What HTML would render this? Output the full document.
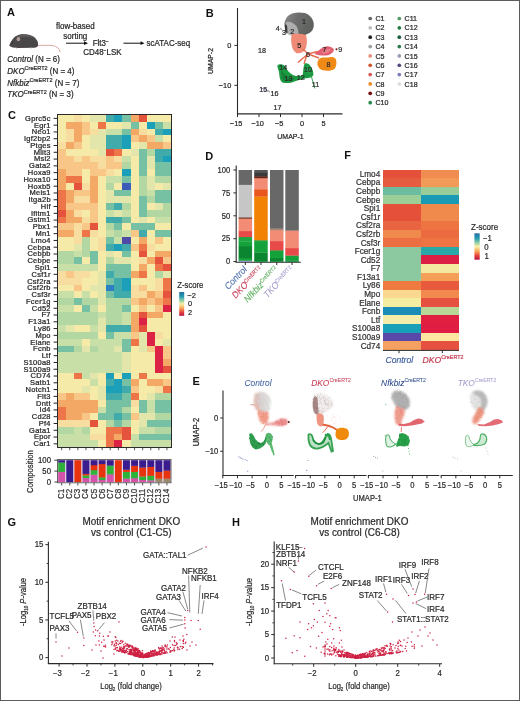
<!DOCTYPE html>
<html><head><meta charset="utf-8"><style>
html,body{margin:0;padding:0;background:#fff;}
body{width:520px;height:701px;overflow:hidden;position:relative;}
svg{position:absolute;left:0;top:0;font-family:"Liberation Sans", sans-serif;will-change:transform;}
</style></head><body>
<svg width="520" height="701" viewBox="0 0 520 701">
<defs><filter id="mb" x="-10%" y="-10%" width="120%" height="120%"><feGaussianBlur stdDeviation="0.3"/></filter></defs>
<rect x="0" y="0" width="520" height="701" fill="#fff"/>
<text font-size="11.00" text-anchor="start" fill="#111" font-weight="bold" font-style="normal"  transform="translate(7.00,15.80) scale(1.0000,1)">A</text>
<g filter="url(#mb)">
<path d="M37.5,45.6 C42,45.3 48,45 53,45.7 C57,46.3 59.5,48.5 60,52.3" fill="none" stroke="#d6a8a0" stroke-width="1"/>
<path d="M9.2,45.4 C10.5,42 13,38.2 15.5,36.2 C18,34.6 21,34 24,34.2 C28,34.5 32,35.5 34.5,37.5 C37,39.5 38.4,42.5 38.1,45 C37.7,46.8 36.5,47.6 34,47.8 L18,47.9 C14,47.9 11,47.2 9.2,45.4 Z" fill="#4a4646"/>
<path d="M16,36.6 C19,34.8 23,34.3 27,34.6 C31,35.2 34,36.6 35.5,38.5 C31,37 24,36.4 17,38 Z" fill="#5c5858"/>
<ellipse cx="18.4" cy="39.2" rx="1.8" ry="2.1" fill="#b09a98"/>
<circle cx="12.6" cy="42.4" r="0.5" fill="#111"/>
<path d="M15.5,47.9 l1.8,0.5 M30,47.8 l1.5,0.5" stroke="#d8b8b0" stroke-width="0.8"/>
</g>
<text font-size="8.64" text-anchor="middle" fill="#262626" stroke="#262626" stroke-width="0.22" font-weight="normal" font-style="normal"  transform="translate(75.30,29.40) scale(0.9259,1)">flow-based</text>
<text font-size="8.64" text-anchor="middle" fill="#262626" stroke="#262626" stroke-width="0.22" font-weight="normal" font-style="normal"  transform="translate(75.30,38.70) scale(0.9259,1)">sorting</text>
<line x1="66.00" y1="43.20" x2="85.00" y2="43.20" stroke="#111" stroke-width="1"/>
<path d="M88,43.2 L84,41.3 L84,45.1 Z" fill="#111"/>
<text font-size="8.64" text-anchor="start" fill="#262626" stroke="#262626" stroke-width="0.22" font-weight="normal" font-style="normal"  transform="translate(92.70,46.00) scale(0.9259,1)">Flt3<tspan font-size="5" dy="-3">−</tspan></text>
<text font-size="8.64" text-anchor="start" fill="#262626" stroke="#262626" stroke-width="0.22" font-weight="normal" font-style="normal"  transform="translate(83.30,55.40) scale(0.9259,1)">CD48<tspan font-size="5" dy="-3">−</tspan><tspan dy="3">LSK</tspan></text>
<line x1="123.50" y1="43.20" x2="141.50" y2="43.20" stroke="#111" stroke-width="1"/>
<path d="M144.5,43.2 L140.5,41.3 L140.5,45.1 Z" fill="#111"/>
<text font-size="8.64" text-anchor="start" fill="#262626" stroke="#262626" stroke-width="0.22" font-weight="normal" font-style="normal"  transform="translate(146.60,46.00) scale(0.9259,1)">scATAC-seq</text>
<text font-size="8.64" text-anchor="start" fill="#262626" stroke="#262626" stroke-width="0.22" font-weight="normal" font-style="normal"  transform="translate(7.30,62.00) scale(0.9259,1)"><tspan font-style="italic">Control</tspan> (N = 6)</text>
<text font-size="8.64" text-anchor="start" fill="#262626" stroke="#262626" stroke-width="0.22" font-weight="normal" font-style="normal"  transform="translate(7.30,73.80) scale(0.9259,1)"><tspan font-style="italic">DKO</tspan><tspan font-size="6.0" dy="-3.4">CreERT2</tspan><tspan dy="3.4"> (N = 4)</tspan></text>
<text font-size="8.64" text-anchor="start" fill="#262626" stroke="#262626" stroke-width="0.22" font-weight="normal" font-style="normal"  transform="translate(7.30,85.50) scale(0.9259,1)"><tspan font-style="italic">Nfkbiz</tspan><tspan font-size="6.0" dy="-3.4">CreERT2</tspan><tspan dy="3.4"> (N = 7)</tspan></text>
<text font-size="8.64" text-anchor="start" fill="#262626" stroke="#262626" stroke-width="0.22" font-weight="normal" font-style="normal"  transform="translate(7.30,97.00) scale(0.9259,1)"><tspan font-style="italic">TKO</tspan><tspan font-size="6.0" dy="-3.4">CreERT2</tspan><tspan dy="3.4"> (N = 3)</tspan></text>
<text font-size="11.00" text-anchor="start" fill="#111" font-weight="bold" font-style="normal"  transform="translate(205.80,16.60) scale(1.0000,1)">B</text>
<line x1="237.50" y1="8.00" x2="237.50" y2="114.50" stroke="#2a2a2a" stroke-width="1.1"/>
<line x1="237.00" y1="113.90" x2="342.50" y2="113.90" stroke="#2a2a2a" stroke-width="1.2"/>
<line x1="234.40" y1="45.40" x2="237.50" y2="45.40" stroke="#2a2a2a" stroke-width="1"/>
<text font-size="7.99" text-anchor="end" fill="#262626" stroke="#262626" stroke-width="0.22" font-weight="normal" font-style="normal"  transform="translate(231.30,48.00) scale(0.9259,1)">0</text>
<line x1="234.40" y1="85.30" x2="237.50" y2="85.30" stroke="#2a2a2a" stroke-width="1"/>
<text font-size="7.99" text-anchor="end" fill="#262626" stroke="#262626" stroke-width="0.22" font-weight="normal" font-style="normal"  transform="translate(231.30,87.90) scale(0.9259,1)">−10</text>
<line x1="237.50" y1="113.90" x2="237.50" y2="117.00" stroke="#2a2a2a" stroke-width="1"/>
<text font-size="7.99" text-anchor="middle" fill="#262626" stroke="#262626" stroke-width="0.22" font-weight="normal" font-style="normal"  transform="translate(236.20,126.30) scale(0.9259,1)">−15</text>
<line x1="259.00" y1="113.90" x2="259.00" y2="117.00" stroke="#2a2a2a" stroke-width="1"/>
<text font-size="7.99" text-anchor="middle" fill="#262626" stroke="#262626" stroke-width="0.22" font-weight="normal" font-style="normal"  transform="translate(257.70,126.30) scale(0.9259,1)">−10</text>
<line x1="280.50" y1="113.90" x2="280.50" y2="117.00" stroke="#2a2a2a" stroke-width="1"/>
<text font-size="7.99" text-anchor="middle" fill="#262626" stroke="#262626" stroke-width="0.22" font-weight="normal" font-style="normal"  transform="translate(279.20,126.30) scale(0.9259,1)">−5</text>
<line x1="302.00" y1="113.90" x2="302.00" y2="117.00" stroke="#2a2a2a" stroke-width="1"/>
<text font-size="7.99" text-anchor="middle" fill="#262626" stroke="#262626" stroke-width="0.22" font-weight="normal" font-style="normal"  transform="translate(302.00,126.30) scale(0.9259,1)">0</text>
<line x1="323.50" y1="113.90" x2="323.50" y2="117.00" stroke="#2a2a2a" stroke-width="1"/>
<text font-size="7.99" text-anchor="middle" fill="#262626" stroke="#262626" stroke-width="0.22" font-weight="normal" font-style="normal"  transform="translate(323.50,126.30) scale(0.9259,1)">5</text>
<text font-size="7.45" text-anchor="middle" fill="#262626" stroke="#262626" stroke-width="0.22" font-weight="normal" font-style="normal" transform="translate(212.8,61) rotate(-90) translate(0.00,0.00) scale(0.9259,1)">UMAP-2</text>
<text font-size="7.56" text-anchor="middle" fill="#262626" stroke="#262626" stroke-width="0.22" font-weight="normal" font-style="normal"  transform="translate(290.50,138.80) scale(0.9259,1)">UMAP-1</text>
<defs><filter id="bl" x="-20%" y="-20%" width="140%" height="140%"><feGaussianBlur stdDeviation="0.5"/></filter><filter id="bl2" x="-20%" y="-20%" width="140%" height="140%"><feGaussianBlur stdDeviation="0.9"/></filter></defs>
<g filter="url(#bl)">
<defs><linearGradient id="gB" x1="0" y1="0" x2="1" y2="0.3"><stop offset="0" stop-color="#8c8c8c"/><stop offset="0.45" stop-color="#6e6e6e"/><stop offset="1" stop-color="#5e625e"/></linearGradient></defs>
<path d="M288.5,15.5 C292,12.2 299,11.8 305,13 C310.5,15 314.2,20 313.8,26 C313.3,30.5 310,33.5 305,35 C300,36 294,36 290,34.5 C286,32.5 284,28 284.4,23.5 C284.8,20 286.5,17.5 288.5,15.5 Z" fill="url(#gB)"/>
<path d="M286.5,22 C289.5,21 293,22.5 296,25.5 C298,28.5 299,32 298,35.5 C294,36.5 290,36 288,34.3 C285.8,32 285,27 286.5,22 Z" fill="#b8b8b8" opacity="0.85"/>
<path d="M285,25 C286,24 287,25 287.2,27 L287.5,33 C286.5,34 285.5,33 285,31 Z" fill="#202020" opacity="0.8"/>
<path d="M292,34 C296,33.5 302,33.5 306,35 C307.3,39 307.2,45 305.5,49 C303.5,52.5 300,53.8 296.5,53.2 C293.5,51.5 292,48 291.5,44 C291,40 291,36.5 292,34 Z" fill="#ee8a74"/>
<path d="M303,49 L308,54 L317.5,51.5 M308,54 L319,58 M308,54 L302,59 L298,62.5 M307,54.5 L304,63.8" stroke="#e66a4e" stroke-width="1.4" fill="none"/>
<path d="M314.5,54 C318,51 322,47 327,46.3 C330,46.2 332,47.5 333.8,49 C334.2,51.5 332,54 328,55.2 C324,56 319,55.6 314.5,54 Z" fill="#e25e6e"/>
<path d="M321,52 C324,49.5 328,48.5 331,49.5 C330,52 327,53.5 323,53.6 Z" fill="#f08a98" opacity="0.7"/>
<path d="M318.5,59.5 C321,57 325,57.5 328,57.5 C331,56.5 334,56.8 335.8,59 C337,62 336.6,66.5 334.5,69 C331.5,71 326,71.2 322,70 C318.6,68.6 317,65.5 317.4,62.5 Z" fill="#f08a14"/>
<path d="M277.5,65 C279.5,63.6 283,64.2 285,66 C287,70 289,73 293,75 C296,76.5 300,76 302.6,75 C303.6,71 303,67 304.6,63.6 C306.6,62.4 309,63.6 310.3,65.8 C312.4,69 313.8,72 313.3,75.2 C312,77.5 309,78.2 306,78.2 C302,79 298,80 295.2,81.2 C291,83.2 285,83.8 282,82.2 C279.5,80 279.5,76 279,72 C278.5,70 277,67 277.5,65 Z" fill="#1f9a43"/>
<path d="M281,70 C283,72 285,75 288,77 C291,78.5 294,78 296,77.5 C293,80.5 288,81.5 284,81 C282,79.5 281,75 281,70 Z" fill="#157a35" opacity="0.8"/>
<path d="M306,66 C308,67 310,70 311,73 C309,74 307,73 306,71 Z" fill="#2ab05a" opacity="0.6"/>
<path d="M311.5,77 L313,82 L314.8,88.5" stroke="#3aa55a" stroke-width="1" fill="none"/>
</g>
<circle cx="336.5" cy="49.3" r="1" fill="#7a1010"/>
<g fill="#8484b8" opacity="1"><circle cx="262.5" cy="88.5" r="0.55"/><circle cx="263.8" cy="89.2" r="0.55"/><circle cx="265.0" cy="89.8" r="0.55"/><circle cx="266.0" cy="90.4" r="0.55"/><circle cx="267.5" cy="91.0" r="0.55"/><circle cx="272.6" cy="92.3" r="0.55"/></g>
<text font-size="7.78" text-anchor="middle" fill="#2a2a2a" stroke="#2a2a2a" stroke-width="0.22" font-weight="normal" font-style="normal"  transform="translate(304.10,23.60) scale(0.9259,1)">1</text>
<text font-size="7.78" text-anchor="middle" fill="#2a2a2a" stroke="#2a2a2a" stroke-width="0.22" font-weight="normal" font-style="normal"  transform="translate(292.30,34.40) scale(0.9259,1)">2</text>
<text font-size="7.78" text-anchor="middle" fill="#2a2a2a" stroke="#2a2a2a" stroke-width="0.22" font-weight="normal" font-style="normal"  transform="translate(284.00,35.40) scale(0.9259,1)">3</text>
<text font-size="7.78" text-anchor="middle" fill="#2a2a2a" stroke="#2a2a2a" stroke-width="0.22" font-weight="normal" font-style="normal"  transform="translate(277.70,31.30) scale(0.9259,1)">4</text>
<text font-size="7.78" text-anchor="middle" fill="#2a2a2a" stroke="#2a2a2a" stroke-width="0.22" font-weight="normal" font-style="normal"  transform="translate(299.30,48.10) scale(0.9259,1)">5</text>
<text font-size="7.78" text-anchor="middle" fill="#2a2a2a" stroke="#2a2a2a" stroke-width="0.22" font-weight="normal" font-style="normal"  transform="translate(308.00,57.20) scale(0.9259,1)">6</text>
<text font-size="7.78" text-anchor="middle" fill="#2a2a2a" stroke="#2a2a2a" stroke-width="0.22" font-weight="normal" font-style="normal"  transform="translate(324.60,52.20) scale(0.9259,1)">7</text>
<text font-size="7.78" text-anchor="middle" fill="#2a2a2a" stroke="#2a2a2a" stroke-width="0.22" font-weight="normal" font-style="normal"  transform="translate(328.40,66.90) scale(0.9259,1)">8</text>
<text font-size="7.78" text-anchor="middle" fill="#2a2a2a" stroke="#2a2a2a" stroke-width="0.22" font-weight="normal" font-style="normal"  transform="translate(340.30,52.00) scale(0.9259,1)">9</text>
<text font-size="7.78" text-anchor="middle" fill="#2a2a2a" stroke="#2a2a2a" stroke-width="0.22" font-weight="normal" font-style="normal"  transform="translate(308.00,72.20) scale(0.9259,1)">10</text>
<text font-size="7.78" text-anchor="middle" fill="#2a2a2a" stroke="#2a2a2a" stroke-width="0.22" font-weight="normal" font-style="normal"  transform="translate(315.60,87.10) scale(0.9259,1)">11</text>
<text font-size="7.78" text-anchor="middle" fill="#2a2a2a" stroke="#2a2a2a" stroke-width="0.22" font-weight="normal" font-style="normal"  transform="translate(300.80,79.80) scale(0.9259,1)">12</text>
<text font-size="7.78" text-anchor="middle" fill="#2a2a2a" stroke="#2a2a2a" stroke-width="0.22" font-weight="normal" font-style="normal"  transform="translate(288.60,81.10) scale(0.9259,1)">13</text>
<text font-size="7.78" text-anchor="middle" fill="#2a2a2a" stroke="#2a2a2a" stroke-width="0.22" font-weight="normal" font-style="normal"  transform="translate(283.30,69.60) scale(0.9259,1)">14</text>
<text font-size="7.78" text-anchor="middle" fill="#2a2a2a" stroke="#2a2a2a" stroke-width="0.22" font-weight="normal" font-style="normal"  transform="translate(263.20,92.40) scale(0.9259,1)">15</text>
<text font-size="7.78" text-anchor="middle" fill="#2a2a2a" stroke="#2a2a2a" stroke-width="0.22" font-weight="normal" font-style="normal"  transform="translate(274.60,96.40) scale(0.9259,1)">16</text>
<text font-size="7.78" text-anchor="middle" fill="#2a2a2a" stroke="#2a2a2a" stroke-width="0.22" font-weight="normal" font-style="normal"  transform="translate(277.40,109.80) scale(0.9259,1)">17</text>
<text font-size="7.78" text-anchor="middle" fill="#2a2a2a" stroke="#2a2a2a" stroke-width="0.22" font-weight="normal" font-style="normal"  transform="translate(262.00,53.40) scale(0.9259,1)">18</text>
<line x1="280.00" y1="28.50" x2="282.20" y2="29.50" stroke="#2a2a2a" stroke-width="0.6"/>
<line x1="267.60" y1="90.50" x2="270.00" y2="92.00" stroke="#2a2a2a" stroke-width="0.6"/>
<circle cx="370.2" cy="18.5" r="1.85" fill="#666666"/>
<text font-size="7.31" text-anchor="start" fill="#2a2a2a" stroke="#2a2a2a" stroke-width="0.25" font-weight="normal" font-style="normal"  transform="translate(375.50,21.10) scale(0.9709,1)">C1</text>
<circle cx="370.2" cy="27.85" r="1.85" fill="#bdbdbd"/>
<text font-size="7.31" text-anchor="start" fill="#2a2a2a" stroke="#2a2a2a" stroke-width="0.25" font-weight="normal" font-style="normal"  transform="translate(375.50,30.45) scale(0.9709,1)">C2</text>
<circle cx="370.2" cy="37.2" r="1.85" fill="#222222"/>
<text font-size="7.31" text-anchor="start" fill="#2a2a2a" stroke="#2a2a2a" stroke-width="0.25" font-weight="normal" font-style="normal"  transform="translate(375.50,39.80) scale(0.9709,1)">C3</text>
<circle cx="370.2" cy="46.55" r="1.85" fill="#9e9e9e"/>
<text font-size="7.31" text-anchor="start" fill="#2a2a2a" stroke="#2a2a2a" stroke-width="0.25" font-weight="normal" font-style="normal"  transform="translate(375.50,49.15) scale(0.9709,1)">C4</text>
<circle cx="370.2" cy="55.9" r="1.85" fill="#e8907c"/>
<text font-size="7.31" text-anchor="start" fill="#2a2a2a" stroke="#2a2a2a" stroke-width="0.25" font-weight="normal" font-style="normal"  transform="translate(375.50,58.50) scale(0.9709,1)">C5</text>
<circle cx="370.2" cy="65.25" r="1.85" fill="#d4532a"/>
<text font-size="7.31" text-anchor="start" fill="#2a2a2a" stroke="#2a2a2a" stroke-width="0.25" font-weight="normal" font-style="normal"  transform="translate(375.50,67.85) scale(0.9709,1)">C6</text>
<circle cx="370.2" cy="74.6" r="1.85" fill="#d65a5a"/>
<text font-size="7.31" text-anchor="start" fill="#2a2a2a" stroke="#2a2a2a" stroke-width="0.25" font-weight="normal" font-style="normal"  transform="translate(375.50,77.20) scale(0.9709,1)">C7</text>
<circle cx="370.2" cy="83.95" r="1.85" fill="#f08a24"/>
<text font-size="7.31" text-anchor="start" fill="#2a2a2a" stroke="#2a2a2a" stroke-width="0.25" font-weight="normal" font-style="normal"  transform="translate(375.50,86.55) scale(0.9709,1)">C8</text>
<circle cx="370.2" cy="93.3" r="1.85" fill="#7a0c0c"/>
<text font-size="7.31" text-anchor="start" fill="#2a2a2a" stroke="#2a2a2a" stroke-width="0.25" font-weight="normal" font-style="normal"  transform="translate(375.50,95.90) scale(0.9709,1)">C9</text>
<circle cx="370.2" cy="102.64999999999999" r="1.85" fill="#28894a"/>
<text font-size="7.31" text-anchor="start" fill="#2a2a2a" stroke="#2a2a2a" stroke-width="0.25" font-weight="normal" font-style="normal"  transform="translate(375.50,105.25) scale(0.9709,1)">C10</text>
<circle cx="399.3" cy="18.5" r="1.85" fill="#4f9c62"/>
<text font-size="7.31" text-anchor="start" fill="#2a2a2a" stroke="#2a2a2a" stroke-width="0.25" font-weight="normal" font-style="normal"  transform="translate(404.60,21.10) scale(0.9709,1)">C11</text>
<circle cx="399.3" cy="27.85" r="1.85" fill="#1d7a40"/>
<text font-size="7.31" text-anchor="start" fill="#2a2a2a" stroke="#2a2a2a" stroke-width="0.25" font-weight="normal" font-style="normal"  transform="translate(404.60,30.45) scale(0.9709,1)">C12</text>
<circle cx="399.3" cy="37.2" r="1.85" fill="#1b5c3a"/>
<text font-size="7.31" text-anchor="start" fill="#2a2a2a" stroke="#2a2a2a" stroke-width="0.25" font-weight="normal" font-style="normal"  transform="translate(404.60,39.80) scale(0.9709,1)">C13</text>
<circle cx="399.3" cy="46.55" r="1.85" fill="#2a7a4a"/>
<text font-size="7.31" text-anchor="start" fill="#2a2a2a" stroke="#2a2a2a" stroke-width="0.25" font-weight="normal" font-style="normal"  transform="translate(404.60,49.15) scale(0.9709,1)">C14</text>
<circle cx="399.3" cy="55.9" r="1.85" fill="#9a9ab2"/>
<text font-size="7.31" text-anchor="start" fill="#2a2a2a" stroke="#2a2a2a" stroke-width="0.25" font-weight="normal" font-style="normal"  transform="translate(404.60,58.50) scale(0.9709,1)">C15</text>
<circle cx="399.3" cy="65.25" r="1.85" fill="#4c4c7c"/>
<text font-size="7.31" text-anchor="start" fill="#2a2a2a" stroke="#2a2a2a" stroke-width="0.25" font-weight="normal" font-style="normal"  transform="translate(404.60,67.85) scale(0.9709,1)">C16</text>
<circle cx="399.3" cy="74.6" r="1.85" fill="#7c7cba"/>
<text font-size="7.31" text-anchor="start" fill="#2a2a2a" stroke="#2a2a2a" stroke-width="0.25" font-weight="normal" font-style="normal"  transform="translate(404.60,77.20) scale(0.9709,1)">C17</text>
<circle cx="399.3" cy="83.95" r="1.85" fill="#dddddd"/>
<text font-size="7.31" text-anchor="start" fill="#2a2a2a" stroke="#2a2a2a" stroke-width="0.25" font-weight="normal" font-style="normal"  transform="translate(404.60,86.55) scale(0.9709,1)">C18</text>
<text font-size="11.00" text-anchor="start" fill="#111" font-weight="bold" font-style="normal"  transform="translate(8.00,119.20) scale(1.0000,1)">C</text>
<defs><filter id="hb" x="-2%" y="-2%" width="104%" height="104%"><feGaussianBlur stdDeviation="0.35"/></filter></defs>
<g filter="url(#hb)">
<rect x="57.60" y="115.00" width="8.40" height="7.08" fill="#f5eaa8" shape-rendering="crispEdges"/>
<rect x="65.70" y="115.00" width="8.40" height="7.08" fill="#f5eaa8" shape-rendering="crispEdges"/>
<rect x="73.80" y="115.00" width="8.40" height="7.08" fill="#f8dda0" shape-rendering="crispEdges"/>
<rect x="81.90" y="115.00" width="8.40" height="7.08" fill="#f5eaa8" shape-rendering="crispEdges"/>
<rect x="90.00" y="115.00" width="8.40" height="7.08" fill="#e2e6aa" shape-rendering="crispEdges"/>
<rect x="98.10" y="115.00" width="8.40" height="7.08" fill="#e2e6aa" shape-rendering="crispEdges"/>
<rect x="106.20" y="115.00" width="8.40" height="7.08" fill="#3fabaa" shape-rendering="crispEdges"/>
<rect x="114.30" y="115.00" width="8.40" height="7.08" fill="#1a9fb8" shape-rendering="crispEdges"/>
<rect x="122.40" y="115.00" width="8.40" height="7.08" fill="#76c1a4" shape-rendering="crispEdges"/>
<rect x="130.50" y="115.00" width="8.40" height="7.08" fill="#f4a866" shape-rendering="crispEdges"/>
<rect x="138.60" y="115.00" width="8.40" height="7.08" fill="#e6523c" shape-rendering="crispEdges"/>
<rect x="146.70" y="115.00" width="8.40" height="7.08" fill="#f5eaa8" shape-rendering="crispEdges"/>
<rect x="154.80" y="115.00" width="8.40" height="7.08" fill="#f5eaa8" shape-rendering="crispEdges"/>
<rect x="162.90" y="115.00" width="8.40" height="7.08" fill="#f5eaa8" shape-rendering="crispEdges"/>
<rect x="57.60" y="121.78" width="8.40" height="7.08" fill="#f5eaa8" shape-rendering="crispEdges"/>
<rect x="65.70" y="121.78" width="8.40" height="7.08" fill="#f4a866" shape-rendering="crispEdges"/>
<rect x="73.80" y="121.78" width="8.40" height="7.08" fill="#f4a866" shape-rendering="crispEdges"/>
<rect x="81.90" y="121.78" width="8.40" height="7.08" fill="#f8c687" shape-rendering="crispEdges"/>
<rect x="90.00" y="121.78" width="8.40" height="7.08" fill="#f5eaa8" shape-rendering="crispEdges"/>
<rect x="98.10" y="121.78" width="8.40" height="7.08" fill="#ee7446" shape-rendering="crispEdges"/>
<rect x="106.20" y="121.78" width="8.40" height="7.08" fill="#f5eaa8" shape-rendering="crispEdges"/>
<rect x="114.30" y="121.78" width="8.40" height="7.08" fill="#f5eaa8" shape-rendering="crispEdges"/>
<rect x="122.40" y="121.78" width="8.40" height="7.08" fill="#e2e6aa" shape-rendering="crispEdges"/>
<rect x="130.50" y="121.78" width="8.40" height="7.08" fill="#76c1a4" shape-rendering="crispEdges"/>
<rect x="138.60" y="121.78" width="8.40" height="7.08" fill="#f5eaa8" shape-rendering="crispEdges"/>
<rect x="146.70" y="121.78" width="8.40" height="7.08" fill="#1a9fb8" shape-rendering="crispEdges"/>
<rect x="154.80" y="121.78" width="8.40" height="7.08" fill="#76c1a4" shape-rendering="crispEdges"/>
<rect x="162.90" y="121.78" width="8.40" height="7.08" fill="#c9dfa8" shape-rendering="crispEdges"/>
<rect x="57.60" y="128.56" width="8.40" height="7.08" fill="#f5eaa8" shape-rendering="crispEdges"/>
<rect x="65.70" y="128.56" width="8.40" height="7.08" fill="#f8dda0" shape-rendering="crispEdges"/>
<rect x="73.80" y="128.56" width="8.40" height="7.08" fill="#f4a866" shape-rendering="crispEdges"/>
<rect x="81.90" y="128.56" width="8.40" height="7.08" fill="#f8c687" shape-rendering="crispEdges"/>
<rect x="90.00" y="128.56" width="8.40" height="7.08" fill="#f8dda0" shape-rendering="crispEdges"/>
<rect x="98.10" y="128.56" width="8.40" height="7.08" fill="#e2e6aa" shape-rendering="crispEdges"/>
<rect x="106.20" y="128.56" width="8.40" height="7.08" fill="#c9dfa8" shape-rendering="crispEdges"/>
<rect x="114.30" y="128.56" width="8.40" height="7.08" fill="#c9dfa8" shape-rendering="crispEdges"/>
<rect x="122.40" y="128.56" width="8.40" height="7.08" fill="#76c1a4" shape-rendering="crispEdges"/>
<rect x="130.50" y="128.56" width="8.40" height="7.08" fill="#f4a866" shape-rendering="crispEdges"/>
<rect x="138.60" y="128.56" width="8.40" height="7.08" fill="#f8dda0" shape-rendering="crispEdges"/>
<rect x="146.70" y="128.56" width="8.40" height="7.08" fill="#f5eaa8" shape-rendering="crispEdges"/>
<rect x="154.80" y="128.56" width="8.40" height="7.08" fill="#3fabaa" shape-rendering="crispEdges"/>
<rect x="162.90" y="128.56" width="8.40" height="7.08" fill="#1a9fb8" shape-rendering="crispEdges"/>
<rect x="57.60" y="135.34" width="8.40" height="7.08" fill="#f5eaa8" shape-rendering="crispEdges"/>
<rect x="65.70" y="135.34" width="8.40" height="7.08" fill="#f8dda0" shape-rendering="crispEdges"/>
<rect x="73.80" y="135.34" width="8.40" height="7.08" fill="#f4a866" shape-rendering="crispEdges"/>
<rect x="81.90" y="135.34" width="8.40" height="7.08" fill="#f5eaa8" shape-rendering="crispEdges"/>
<rect x="90.00" y="135.34" width="8.40" height="7.08" fill="#e2e6aa" shape-rendering="crispEdges"/>
<rect x="98.10" y="135.34" width="8.40" height="7.08" fill="#e2e6aa" shape-rendering="crispEdges"/>
<rect x="106.20" y="135.34" width="8.40" height="7.08" fill="#3fabaa" shape-rendering="crispEdges"/>
<rect x="114.30" y="135.34" width="8.40" height="7.08" fill="#3fabaa" shape-rendering="crispEdges"/>
<rect x="122.40" y="135.34" width="8.40" height="7.08" fill="#1a9fb8" shape-rendering="crispEdges"/>
<rect x="130.50" y="135.34" width="8.40" height="7.08" fill="#f8c687" shape-rendering="crispEdges"/>
<rect x="138.60" y="135.34" width="8.40" height="7.08" fill="#f4a866" shape-rendering="crispEdges"/>
<rect x="146.70" y="135.34" width="8.40" height="7.08" fill="#f8c687" shape-rendering="crispEdges"/>
<rect x="154.80" y="135.34" width="8.40" height="7.08" fill="#c9dfa8" shape-rendering="crispEdges"/>
<rect x="162.90" y="135.34" width="8.40" height="7.08" fill="#f5eaa8" shape-rendering="crispEdges"/>
<rect x="57.60" y="142.12" width="8.40" height="7.08" fill="#f8dda0" shape-rendering="crispEdges"/>
<rect x="65.70" y="142.12" width="8.40" height="7.08" fill="#f4a866" shape-rendering="crispEdges"/>
<rect x="73.80" y="142.12" width="8.40" height="7.08" fill="#f8c687" shape-rendering="crispEdges"/>
<rect x="81.90" y="142.12" width="8.40" height="7.08" fill="#f5eaa8" shape-rendering="crispEdges"/>
<rect x="90.00" y="142.12" width="8.40" height="7.08" fill="#e2e6aa" shape-rendering="crispEdges"/>
<rect x="98.10" y="142.12" width="8.40" height="7.08" fill="#e2e6aa" shape-rendering="crispEdges"/>
<rect x="106.20" y="142.12" width="8.40" height="7.08" fill="#3fabaa" shape-rendering="crispEdges"/>
<rect x="114.30" y="142.12" width="8.40" height="7.08" fill="#3fabaa" shape-rendering="crispEdges"/>
<rect x="122.40" y="142.12" width="8.40" height="7.08" fill="#1a9fb8" shape-rendering="crispEdges"/>
<rect x="130.50" y="142.12" width="8.40" height="7.08" fill="#f5eaa8" shape-rendering="crispEdges"/>
<rect x="138.60" y="142.12" width="8.40" height="7.08" fill="#e2e6aa" shape-rendering="crispEdges"/>
<rect x="146.70" y="142.12" width="8.40" height="7.08" fill="#f4a866" shape-rendering="crispEdges"/>
<rect x="154.80" y="142.12" width="8.40" height="7.08" fill="#f4a866" shape-rendering="crispEdges"/>
<rect x="162.90" y="142.12" width="8.40" height="7.08" fill="#f8c687" shape-rendering="crispEdges"/>
<rect x="57.60" y="148.90" width="8.40" height="7.08" fill="#f8c687" shape-rendering="crispEdges"/>
<rect x="65.70" y="148.90" width="8.40" height="7.08" fill="#f5eaa8" shape-rendering="crispEdges"/>
<rect x="73.80" y="148.90" width="8.40" height="7.08" fill="#f5eaa8" shape-rendering="crispEdges"/>
<rect x="81.90" y="148.90" width="8.40" height="7.08" fill="#f5eaa8" shape-rendering="crispEdges"/>
<rect x="90.00" y="148.90" width="8.40" height="7.08" fill="#f5eaa8" shape-rendering="crispEdges"/>
<rect x="98.10" y="148.90" width="8.40" height="7.08" fill="#e2e6aa" shape-rendering="crispEdges"/>
<rect x="106.20" y="148.90" width="8.40" height="7.08" fill="#e6523c" shape-rendering="crispEdges"/>
<rect x="114.30" y="148.90" width="8.40" height="7.08" fill="#ee7446" shape-rendering="crispEdges"/>
<rect x="122.40" y="148.90" width="8.40" height="7.08" fill="#f5eaa8" shape-rendering="crispEdges"/>
<rect x="130.50" y="148.90" width="8.40" height="7.08" fill="#e2e6aa" shape-rendering="crispEdges"/>
<rect x="138.60" y="148.90" width="8.40" height="7.08" fill="#76c1a4" shape-rendering="crispEdges"/>
<rect x="146.70" y="148.90" width="8.40" height="7.08" fill="#b2d7a3" shape-rendering="crispEdges"/>
<rect x="154.80" y="148.90" width="8.40" height="7.08" fill="#3fabaa" shape-rendering="crispEdges"/>
<rect x="162.90" y="148.90" width="8.40" height="7.08" fill="#3fabaa" shape-rendering="crispEdges"/>
<rect x="57.60" y="155.68" width="8.40" height="7.08" fill="#f8c687" shape-rendering="crispEdges"/>
<rect x="65.70" y="155.68" width="8.40" height="7.08" fill="#f8c687" shape-rendering="crispEdges"/>
<rect x="73.80" y="155.68" width="8.40" height="7.08" fill="#f8dda0" shape-rendering="crispEdges"/>
<rect x="81.90" y="155.68" width="8.40" height="7.08" fill="#f8c687" shape-rendering="crispEdges"/>
<rect x="90.00" y="155.68" width="8.40" height="7.08" fill="#f8dda0" shape-rendering="crispEdges"/>
<rect x="98.10" y="155.68" width="8.40" height="7.08" fill="#f8dda0" shape-rendering="crispEdges"/>
<rect x="106.20" y="155.68" width="8.40" height="7.08" fill="#f8c687" shape-rendering="crispEdges"/>
<rect x="114.30" y="155.68" width="8.40" height="7.08" fill="#f8dda0" shape-rendering="crispEdges"/>
<rect x="122.40" y="155.68" width="8.40" height="7.08" fill="#c9dfa8" shape-rendering="crispEdges"/>
<rect x="130.50" y="155.68" width="8.40" height="7.08" fill="#f5eaa8" shape-rendering="crispEdges"/>
<rect x="138.60" y="155.68" width="8.40" height="7.08" fill="#76c1a4" shape-rendering="crispEdges"/>
<rect x="146.70" y="155.68" width="8.40" height="7.08" fill="#e2e6aa" shape-rendering="crispEdges"/>
<rect x="154.80" y="155.68" width="8.40" height="7.08" fill="#3fabaa" shape-rendering="crispEdges"/>
<rect x="162.90" y="155.68" width="8.40" height="7.08" fill="#1a9fb8" shape-rendering="crispEdges"/>
<rect x="57.60" y="162.46" width="8.40" height="7.08" fill="#f8c687" shape-rendering="crispEdges"/>
<rect x="65.70" y="162.46" width="8.40" height="7.08" fill="#f8c687" shape-rendering="crispEdges"/>
<rect x="73.80" y="162.46" width="8.40" height="7.08" fill="#f8c687" shape-rendering="crispEdges"/>
<rect x="81.90" y="162.46" width="8.40" height="7.08" fill="#f8c687" shape-rendering="crispEdges"/>
<rect x="90.00" y="162.46" width="8.40" height="7.08" fill="#f8c687" shape-rendering="crispEdges"/>
<rect x="98.10" y="162.46" width="8.40" height="7.08" fill="#f8dda0" shape-rendering="crispEdges"/>
<rect x="106.20" y="162.46" width="8.40" height="7.08" fill="#f8c687" shape-rendering="crispEdges"/>
<rect x="114.30" y="162.46" width="8.40" height="7.08" fill="#f8c687" shape-rendering="crispEdges"/>
<rect x="122.40" y="162.46" width="8.40" height="7.08" fill="#b2d7a3" shape-rendering="crispEdges"/>
<rect x="130.50" y="162.46" width="8.40" height="7.08" fill="#f5eaa8" shape-rendering="crispEdges"/>
<rect x="138.60" y="162.46" width="8.40" height="7.08" fill="#76c1a4" shape-rendering="crispEdges"/>
<rect x="146.70" y="162.46" width="8.40" height="7.08" fill="#e2e6aa" shape-rendering="crispEdges"/>
<rect x="154.80" y="162.46" width="8.40" height="7.08" fill="#76c1a4" shape-rendering="crispEdges"/>
<rect x="162.90" y="162.46" width="8.40" height="7.08" fill="#76c1a4" shape-rendering="crispEdges"/>
<rect x="57.60" y="169.24" width="8.40" height="7.08" fill="#f4a866" shape-rendering="crispEdges"/>
<rect x="65.70" y="169.24" width="8.40" height="7.08" fill="#f8c687" shape-rendering="crispEdges"/>
<rect x="73.80" y="169.24" width="8.40" height="7.08" fill="#f8c687" shape-rendering="crispEdges"/>
<rect x="81.90" y="169.24" width="8.40" height="7.08" fill="#f5eaa8" shape-rendering="crispEdges"/>
<rect x="90.00" y="169.24" width="8.40" height="7.08" fill="#f8c687" shape-rendering="crispEdges"/>
<rect x="98.10" y="169.24" width="8.40" height="7.08" fill="#f8c687" shape-rendering="crispEdges"/>
<rect x="106.20" y="169.24" width="8.40" height="7.08" fill="#f8dda0" shape-rendering="crispEdges"/>
<rect x="114.30" y="169.24" width="8.40" height="7.08" fill="#f5eaa8" shape-rendering="crispEdges"/>
<rect x="122.40" y="169.24" width="8.40" height="7.08" fill="#1a9fb8" shape-rendering="crispEdges"/>
<rect x="130.50" y="169.24" width="8.40" height="7.08" fill="#f5eaa8" shape-rendering="crispEdges"/>
<rect x="138.60" y="169.24" width="8.40" height="7.08" fill="#76c1a4" shape-rendering="crispEdges"/>
<rect x="146.70" y="169.24" width="8.40" height="7.08" fill="#f5eaa8" shape-rendering="crispEdges"/>
<rect x="154.80" y="169.24" width="8.40" height="7.08" fill="#76c1a4" shape-rendering="crispEdges"/>
<rect x="162.90" y="169.24" width="8.40" height="7.08" fill="#76c1a4" shape-rendering="crispEdges"/>
<rect x="57.60" y="176.02" width="8.40" height="7.08" fill="#f4a866" shape-rendering="crispEdges"/>
<rect x="65.70" y="176.02" width="8.40" height="7.08" fill="#ee7446" shape-rendering="crispEdges"/>
<rect x="73.80" y="176.02" width="8.40" height="7.08" fill="#ee7446" shape-rendering="crispEdges"/>
<rect x="81.90" y="176.02" width="8.40" height="7.08" fill="#f5eaa8" shape-rendering="crispEdges"/>
<rect x="90.00" y="176.02" width="8.40" height="7.08" fill="#f4a866" shape-rendering="crispEdges"/>
<rect x="98.10" y="176.02" width="8.40" height="7.08" fill="#f5eaa8" shape-rendering="crispEdges"/>
<rect x="106.20" y="176.02" width="8.40" height="7.08" fill="#c9dfa8" shape-rendering="crispEdges"/>
<rect x="114.30" y="176.02" width="8.40" height="7.08" fill="#c9dfa8" shape-rendering="crispEdges"/>
<rect x="122.40" y="176.02" width="8.40" height="7.08" fill="#76c1a4" shape-rendering="crispEdges"/>
<rect x="130.50" y="176.02" width="8.40" height="7.08" fill="#f5eaa8" shape-rendering="crispEdges"/>
<rect x="138.60" y="176.02" width="8.40" height="7.08" fill="#b2d7a3" shape-rendering="crispEdges"/>
<rect x="146.70" y="176.02" width="8.40" height="7.08" fill="#e2e6aa" shape-rendering="crispEdges"/>
<rect x="154.80" y="176.02" width="8.40" height="7.08" fill="#b2d7a3" shape-rendering="crispEdges"/>
<rect x="162.90" y="176.02" width="8.40" height="7.08" fill="#b2d7a3" shape-rendering="crispEdges"/>
<rect x="57.60" y="182.80" width="8.40" height="7.08" fill="#f4a866" shape-rendering="crispEdges"/>
<rect x="65.70" y="182.80" width="8.40" height="7.08" fill="#f5eaa8" shape-rendering="crispEdges"/>
<rect x="73.80" y="182.80" width="8.40" height="7.08" fill="#e6523c" shape-rendering="crispEdges"/>
<rect x="81.90" y="182.80" width="8.40" height="7.08" fill="#f8dda0" shape-rendering="crispEdges"/>
<rect x="90.00" y="182.80" width="8.40" height="7.08" fill="#f4a866" shape-rendering="crispEdges"/>
<rect x="98.10" y="182.80" width="8.40" height="7.08" fill="#f5eaa8" shape-rendering="crispEdges"/>
<rect x="106.20" y="182.80" width="8.40" height="7.08" fill="#b2d7a3" shape-rendering="crispEdges"/>
<rect x="114.30" y="182.80" width="8.40" height="7.08" fill="#f5eaa8" shape-rendering="crispEdges"/>
<rect x="122.40" y="182.80" width="8.40" height="7.08" fill="#3a5cb8" shape-rendering="crispEdges"/>
<rect x="130.50" y="182.80" width="8.40" height="7.08" fill="#f5eaa8" shape-rendering="crispEdges"/>
<rect x="138.60" y="182.80" width="8.40" height="7.08" fill="#b2d7a3" shape-rendering="crispEdges"/>
<rect x="146.70" y="182.80" width="8.40" height="7.08" fill="#e2e6aa" shape-rendering="crispEdges"/>
<rect x="154.80" y="182.80" width="8.40" height="7.08" fill="#f5eaa8" shape-rendering="crispEdges"/>
<rect x="162.90" y="182.80" width="8.40" height="7.08" fill="#e2e6aa" shape-rendering="crispEdges"/>
<rect x="57.60" y="189.58" width="8.40" height="7.08" fill="#ee7446" shape-rendering="crispEdges"/>
<rect x="65.70" y="189.58" width="8.40" height="7.08" fill="#f4a866" shape-rendering="crispEdges"/>
<rect x="73.80" y="189.58" width="8.40" height="7.08" fill="#f8c687" shape-rendering="crispEdges"/>
<rect x="81.90" y="189.58" width="8.40" height="7.08" fill="#f8c687" shape-rendering="crispEdges"/>
<rect x="90.00" y="189.58" width="8.40" height="7.08" fill="#f4a866" shape-rendering="crispEdges"/>
<rect x="98.10" y="189.58" width="8.40" height="7.08" fill="#f5eaa8" shape-rendering="crispEdges"/>
<rect x="106.20" y="189.58" width="8.40" height="7.08" fill="#e2e6aa" shape-rendering="crispEdges"/>
<rect x="114.30" y="189.58" width="8.40" height="7.08" fill="#76c1a4" shape-rendering="crispEdges"/>
<rect x="122.40" y="189.58" width="8.40" height="7.08" fill="#76c1a4" shape-rendering="crispEdges"/>
<rect x="130.50" y="189.58" width="8.40" height="7.08" fill="#f5eaa8" shape-rendering="crispEdges"/>
<rect x="138.60" y="189.58" width="8.40" height="7.08" fill="#b2d7a3" shape-rendering="crispEdges"/>
<rect x="146.70" y="189.58" width="8.40" height="7.08" fill="#c9dfa8" shape-rendering="crispEdges"/>
<rect x="154.80" y="189.58" width="8.40" height="7.08" fill="#76c1a4" shape-rendering="crispEdges"/>
<rect x="162.90" y="189.58" width="8.40" height="7.08" fill="#76c1a4" shape-rendering="crispEdges"/>
<rect x="57.60" y="196.36" width="8.40" height="7.08" fill="#ee7446" shape-rendering="crispEdges"/>
<rect x="65.70" y="196.36" width="8.40" height="7.08" fill="#f4a866" shape-rendering="crispEdges"/>
<rect x="73.80" y="196.36" width="8.40" height="7.08" fill="#f8dda0" shape-rendering="crispEdges"/>
<rect x="81.90" y="196.36" width="8.40" height="7.08" fill="#f8dda0" shape-rendering="crispEdges"/>
<rect x="90.00" y="196.36" width="8.40" height="7.08" fill="#f4a866" shape-rendering="crispEdges"/>
<rect x="98.10" y="196.36" width="8.40" height="7.08" fill="#f5eaa8" shape-rendering="crispEdges"/>
<rect x="106.20" y="196.36" width="8.40" height="7.08" fill="#e2e6aa" shape-rendering="crispEdges"/>
<rect x="114.30" y="196.36" width="8.40" height="7.08" fill="#e2e6aa" shape-rendering="crispEdges"/>
<rect x="122.40" y="196.36" width="8.40" height="7.08" fill="#e2e6aa" shape-rendering="crispEdges"/>
<rect x="130.50" y="196.36" width="8.40" height="7.08" fill="#f5eaa8" shape-rendering="crispEdges"/>
<rect x="138.60" y="196.36" width="8.40" height="7.08" fill="#76c1a4" shape-rendering="crispEdges"/>
<rect x="146.70" y="196.36" width="8.40" height="7.08" fill="#b2d7a3" shape-rendering="crispEdges"/>
<rect x="154.80" y="196.36" width="8.40" height="7.08" fill="#76c1a4" shape-rendering="crispEdges"/>
<rect x="162.90" y="196.36" width="8.40" height="7.08" fill="#76c1a4" shape-rendering="crispEdges"/>
<rect x="57.60" y="203.14" width="8.40" height="7.08" fill="#ee7446" shape-rendering="crispEdges"/>
<rect x="65.70" y="203.14" width="8.40" height="7.08" fill="#f8c687" shape-rendering="crispEdges"/>
<rect x="73.80" y="203.14" width="8.40" height="7.08" fill="#f8c687" shape-rendering="crispEdges"/>
<rect x="81.90" y="203.14" width="8.40" height="7.08" fill="#f8c687" shape-rendering="crispEdges"/>
<rect x="90.00" y="203.14" width="8.40" height="7.08" fill="#f8c687" shape-rendering="crispEdges"/>
<rect x="98.10" y="203.14" width="8.40" height="7.08" fill="#f5eaa8" shape-rendering="crispEdges"/>
<rect x="106.20" y="203.14" width="8.40" height="7.08" fill="#76c1a4" shape-rendering="crispEdges"/>
<rect x="114.30" y="203.14" width="8.40" height="7.08" fill="#3fabaa" shape-rendering="crispEdges"/>
<rect x="122.40" y="203.14" width="8.40" height="7.08" fill="#b2d7a3" shape-rendering="crispEdges"/>
<rect x="130.50" y="203.14" width="8.40" height="7.08" fill="#f5eaa8" shape-rendering="crispEdges"/>
<rect x="138.60" y="203.14" width="8.40" height="7.08" fill="#76c1a4" shape-rendering="crispEdges"/>
<rect x="146.70" y="203.14" width="8.40" height="7.08" fill="#f5eaa8" shape-rendering="crispEdges"/>
<rect x="154.80" y="203.14" width="8.40" height="7.08" fill="#e2e6aa" shape-rendering="crispEdges"/>
<rect x="162.90" y="203.14" width="8.40" height="7.08" fill="#b2d7a3" shape-rendering="crispEdges"/>
<rect x="57.60" y="209.92" width="8.40" height="7.08" fill="#e6523c" shape-rendering="crispEdges"/>
<rect x="65.70" y="209.92" width="8.40" height="7.08" fill="#f4a866" shape-rendering="crispEdges"/>
<rect x="73.80" y="209.92" width="8.40" height="7.08" fill="#f8dda0" shape-rendering="crispEdges"/>
<rect x="81.90" y="209.92" width="8.40" height="7.08" fill="#f5eaa8" shape-rendering="crispEdges"/>
<rect x="90.00" y="209.92" width="8.40" height="7.08" fill="#f8c687" shape-rendering="crispEdges"/>
<rect x="98.10" y="209.92" width="8.40" height="7.08" fill="#f5eaa8" shape-rendering="crispEdges"/>
<rect x="106.20" y="209.92" width="8.40" height="7.08" fill="#c9dfa8" shape-rendering="crispEdges"/>
<rect x="114.30" y="209.92" width="8.40" height="7.08" fill="#e2e6aa" shape-rendering="crispEdges"/>
<rect x="122.40" y="209.92" width="8.40" height="7.08" fill="#c9dfa8" shape-rendering="crispEdges"/>
<rect x="130.50" y="209.92" width="8.40" height="7.08" fill="#f5eaa8" shape-rendering="crispEdges"/>
<rect x="138.60" y="209.92" width="8.40" height="7.08" fill="#76c1a4" shape-rendering="crispEdges"/>
<rect x="146.70" y="209.92" width="8.40" height="7.08" fill="#b2d7a3" shape-rendering="crispEdges"/>
<rect x="154.80" y="209.92" width="8.40" height="7.08" fill="#b2d7a3" shape-rendering="crispEdges"/>
<rect x="162.90" y="209.92" width="8.40" height="7.08" fill="#b2d7a3" shape-rendering="crispEdges"/>
<rect x="57.60" y="216.70" width="8.40" height="7.08" fill="#ee7446" shape-rendering="crispEdges"/>
<rect x="65.70" y="216.70" width="8.40" height="7.08" fill="#f4a866" shape-rendering="crispEdges"/>
<rect x="73.80" y="216.70" width="8.40" height="7.08" fill="#f4a866" shape-rendering="crispEdges"/>
<rect x="81.90" y="216.70" width="8.40" height="7.08" fill="#f8dda0" shape-rendering="crispEdges"/>
<rect x="90.00" y="216.70" width="8.40" height="7.08" fill="#f8c687" shape-rendering="crispEdges"/>
<rect x="98.10" y="216.70" width="8.40" height="7.08" fill="#f5eaa8" shape-rendering="crispEdges"/>
<rect x="106.20" y="216.70" width="8.40" height="7.08" fill="#3fabaa" shape-rendering="crispEdges"/>
<rect x="114.30" y="216.70" width="8.40" height="7.08" fill="#3fabaa" shape-rendering="crispEdges"/>
<rect x="122.40" y="216.70" width="8.40" height="7.08" fill="#76c1a4" shape-rendering="crispEdges"/>
<rect x="130.50" y="216.70" width="8.40" height="7.08" fill="#f5eaa8" shape-rendering="crispEdges"/>
<rect x="138.60" y="216.70" width="8.40" height="7.08" fill="#e2e6aa" shape-rendering="crispEdges"/>
<rect x="146.70" y="216.70" width="8.40" height="7.08" fill="#f5eaa8" shape-rendering="crispEdges"/>
<rect x="154.80" y="216.70" width="8.40" height="7.08" fill="#c9dfa8" shape-rendering="crispEdges"/>
<rect x="162.90" y="216.70" width="8.40" height="7.08" fill="#c9dfa8" shape-rendering="crispEdges"/>
<rect x="57.60" y="223.48" width="8.40" height="7.08" fill="#f8c687" shape-rendering="crispEdges"/>
<rect x="65.70" y="223.48" width="8.40" height="7.08" fill="#f8c687" shape-rendering="crispEdges"/>
<rect x="73.80" y="223.48" width="8.40" height="7.08" fill="#f8dda0" shape-rendering="crispEdges"/>
<rect x="81.90" y="223.48" width="8.40" height="7.08" fill="#f8c687" shape-rendering="crispEdges"/>
<rect x="90.00" y="223.48" width="8.40" height="7.08" fill="#e6523c" shape-rendering="crispEdges"/>
<rect x="98.10" y="223.48" width="8.40" height="7.08" fill="#f5eaa8" shape-rendering="crispEdges"/>
<rect x="106.20" y="223.48" width="8.40" height="7.08" fill="#b2d7a3" shape-rendering="crispEdges"/>
<rect x="114.30" y="223.48" width="8.40" height="7.08" fill="#76c1a4" shape-rendering="crispEdges"/>
<rect x="122.40" y="223.48" width="8.40" height="7.08" fill="#f5eaa8" shape-rendering="crispEdges"/>
<rect x="130.50" y="223.48" width="8.40" height="7.08" fill="#76c1a4" shape-rendering="crispEdges"/>
<rect x="138.60" y="223.48" width="8.40" height="7.08" fill="#76c1a4" shape-rendering="crispEdges"/>
<rect x="146.70" y="223.48" width="8.40" height="7.08" fill="#76c1a4" shape-rendering="crispEdges"/>
<rect x="154.80" y="223.48" width="8.40" height="7.08" fill="#f5eaa8" shape-rendering="crispEdges"/>
<rect x="162.90" y="223.48" width="8.40" height="7.08" fill="#f5eaa8" shape-rendering="crispEdges"/>
<rect x="57.60" y="230.26" width="8.40" height="7.08" fill="#f4a866" shape-rendering="crispEdges"/>
<rect x="65.70" y="230.26" width="8.40" height="7.08" fill="#f4a866" shape-rendering="crispEdges"/>
<rect x="73.80" y="230.26" width="8.40" height="7.08" fill="#f8dda0" shape-rendering="crispEdges"/>
<rect x="81.90" y="230.26" width="8.40" height="7.08" fill="#ee7446" shape-rendering="crispEdges"/>
<rect x="90.00" y="230.26" width="8.40" height="7.08" fill="#f8dda0" shape-rendering="crispEdges"/>
<rect x="98.10" y="230.26" width="8.40" height="7.08" fill="#f5eaa8" shape-rendering="crispEdges"/>
<rect x="106.20" y="230.26" width="8.40" height="7.08" fill="#c9dfa8" shape-rendering="crispEdges"/>
<rect x="114.30" y="230.26" width="8.40" height="7.08" fill="#b2d7a3" shape-rendering="crispEdges"/>
<rect x="122.40" y="230.26" width="8.40" height="7.08" fill="#c9dfa8" shape-rendering="crispEdges"/>
<rect x="130.50" y="230.26" width="8.40" height="7.08" fill="#f8c687" shape-rendering="crispEdges"/>
<rect x="138.60" y="230.26" width="8.40" height="7.08" fill="#3fabaa" shape-rendering="crispEdges"/>
<rect x="146.70" y="230.26" width="8.40" height="7.08" fill="#f5eaa8" shape-rendering="crispEdges"/>
<rect x="154.80" y="230.26" width="8.40" height="7.08" fill="#76c1a4" shape-rendering="crispEdges"/>
<rect x="162.90" y="230.26" width="8.40" height="7.08" fill="#76c1a4" shape-rendering="crispEdges"/>
<rect x="57.60" y="237.04" width="8.40" height="7.08" fill="#f5eaa8" shape-rendering="crispEdges"/>
<rect x="65.70" y="237.04" width="8.40" height="7.08" fill="#f5eaa8" shape-rendering="crispEdges"/>
<rect x="73.80" y="237.04" width="8.40" height="7.08" fill="#f8dda0" shape-rendering="crispEdges"/>
<rect x="81.90" y="237.04" width="8.40" height="7.08" fill="#b2d7a3" shape-rendering="crispEdges"/>
<rect x="90.00" y="237.04" width="8.40" height="7.08" fill="#f5eaa8" shape-rendering="crispEdges"/>
<rect x="98.10" y="237.04" width="8.40" height="7.08" fill="#f8dda0" shape-rendering="crispEdges"/>
<rect x="106.20" y="237.04" width="8.40" height="7.08" fill="#76c1a4" shape-rendering="crispEdges"/>
<rect x="114.30" y="237.04" width="8.40" height="7.08" fill="#c9dfa8" shape-rendering="crispEdges"/>
<rect x="122.40" y="237.04" width="8.40" height="7.08" fill="#5048a8" shape-rendering="crispEdges"/>
<rect x="130.50" y="237.04" width="8.40" height="7.08" fill="#f5eaa8" shape-rendering="crispEdges"/>
<rect x="138.60" y="237.04" width="8.40" height="7.08" fill="#f4a866" shape-rendering="crispEdges"/>
<rect x="146.70" y="237.04" width="8.40" height="7.08" fill="#f5eaa8" shape-rendering="crispEdges"/>
<rect x="154.80" y="237.04" width="8.40" height="7.08" fill="#f8c687" shape-rendering="crispEdges"/>
<rect x="162.90" y="237.04" width="8.40" height="7.08" fill="#f5eaa8" shape-rendering="crispEdges"/>
<rect x="57.60" y="243.82" width="8.40" height="7.08" fill="#f5eaa8" shape-rendering="crispEdges"/>
<rect x="65.70" y="243.82" width="8.40" height="7.08" fill="#f5eaa8" shape-rendering="crispEdges"/>
<rect x="73.80" y="243.82" width="8.40" height="7.08" fill="#e2e6aa" shape-rendering="crispEdges"/>
<rect x="81.90" y="243.82" width="8.40" height="7.08" fill="#b2d7a3" shape-rendering="crispEdges"/>
<rect x="90.00" y="243.82" width="8.40" height="7.08" fill="#f5eaa8" shape-rendering="crispEdges"/>
<rect x="98.10" y="243.82" width="8.40" height="7.08" fill="#f8dda0" shape-rendering="crispEdges"/>
<rect x="106.20" y="243.82" width="8.40" height="7.08" fill="#3fabaa" shape-rendering="crispEdges"/>
<rect x="114.30" y="243.82" width="8.40" height="7.08" fill="#1a9fb8" shape-rendering="crispEdges"/>
<rect x="122.40" y="243.82" width="8.40" height="7.08" fill="#3fabaa" shape-rendering="crispEdges"/>
<rect x="130.50" y="243.82" width="8.40" height="7.08" fill="#f8c687" shape-rendering="crispEdges"/>
<rect x="138.60" y="243.82" width="8.40" height="7.08" fill="#ee7446" shape-rendering="crispEdges"/>
<rect x="146.70" y="243.82" width="8.40" height="7.08" fill="#f8dda0" shape-rendering="crispEdges"/>
<rect x="154.80" y="243.82" width="8.40" height="7.08" fill="#f5eaa8" shape-rendering="crispEdges"/>
<rect x="162.90" y="243.82" width="8.40" height="7.08" fill="#f5eaa8" shape-rendering="crispEdges"/>
<rect x="57.60" y="250.60" width="8.40" height="7.08" fill="#b2d7a3" shape-rendering="crispEdges"/>
<rect x="65.70" y="250.60" width="8.40" height="7.08" fill="#b2d7a3" shape-rendering="crispEdges"/>
<rect x="73.80" y="250.60" width="8.40" height="7.08" fill="#c9dfa8" shape-rendering="crispEdges"/>
<rect x="81.90" y="250.60" width="8.40" height="7.08" fill="#b2d7a3" shape-rendering="crispEdges"/>
<rect x="90.00" y="250.60" width="8.40" height="7.08" fill="#76c1a4" shape-rendering="crispEdges"/>
<rect x="98.10" y="250.60" width="8.40" height="7.08" fill="#f5eaa8" shape-rendering="crispEdges"/>
<rect x="106.20" y="250.60" width="8.40" height="7.08" fill="#e2e6aa" shape-rendering="crispEdges"/>
<rect x="114.30" y="250.60" width="8.40" height="7.08" fill="#f5eaa8" shape-rendering="crispEdges"/>
<rect x="122.40" y="250.60" width="8.40" height="7.08" fill="#76c1a4" shape-rendering="crispEdges"/>
<rect x="130.50" y="250.60" width="8.40" height="7.08" fill="#f5eaa8" shape-rendering="crispEdges"/>
<rect x="138.60" y="250.60" width="8.40" height="7.08" fill="#e6523c" shape-rendering="crispEdges"/>
<rect x="146.70" y="250.60" width="8.40" height="7.08" fill="#f5eaa8" shape-rendering="crispEdges"/>
<rect x="154.80" y="250.60" width="8.40" height="7.08" fill="#f4a866" shape-rendering="crispEdges"/>
<rect x="162.90" y="250.60" width="8.40" height="7.08" fill="#f4a866" shape-rendering="crispEdges"/>
<rect x="57.60" y="257.38" width="8.40" height="7.08" fill="#b2d7a3" shape-rendering="crispEdges"/>
<rect x="65.70" y="257.38" width="8.40" height="7.08" fill="#b2d7a3" shape-rendering="crispEdges"/>
<rect x="73.80" y="257.38" width="8.40" height="7.08" fill="#76c1a4" shape-rendering="crispEdges"/>
<rect x="81.90" y="257.38" width="8.40" height="7.08" fill="#f5eaa8" shape-rendering="crispEdges"/>
<rect x="90.00" y="257.38" width="8.40" height="7.08" fill="#76c1a4" shape-rendering="crispEdges"/>
<rect x="98.10" y="257.38" width="8.40" height="7.08" fill="#f5eaa8" shape-rendering="crispEdges"/>
<rect x="106.20" y="257.38" width="8.40" height="7.08" fill="#b2d7a3" shape-rendering="crispEdges"/>
<rect x="114.30" y="257.38" width="8.40" height="7.08" fill="#e2e6aa" shape-rendering="crispEdges"/>
<rect x="122.40" y="257.38" width="8.40" height="7.08" fill="#e2e6aa" shape-rendering="crispEdges"/>
<rect x="130.50" y="257.38" width="8.40" height="7.08" fill="#f5eaa8" shape-rendering="crispEdges"/>
<rect x="138.60" y="257.38" width="8.40" height="7.08" fill="#f8dda0" shape-rendering="crispEdges"/>
<rect x="146.70" y="257.38" width="8.40" height="7.08" fill="#f4a866" shape-rendering="crispEdges"/>
<rect x="154.80" y="257.38" width="8.40" height="7.08" fill="#e6523c" shape-rendering="crispEdges"/>
<rect x="162.90" y="257.38" width="8.40" height="7.08" fill="#f8c687" shape-rendering="crispEdges"/>
<rect x="57.60" y="264.16" width="8.40" height="7.08" fill="#c9dfa8" shape-rendering="crispEdges"/>
<rect x="65.70" y="264.16" width="8.40" height="7.08" fill="#c9dfa8" shape-rendering="crispEdges"/>
<rect x="73.80" y="264.16" width="8.40" height="7.08" fill="#c9dfa8" shape-rendering="crispEdges"/>
<rect x="81.90" y="264.16" width="8.40" height="7.08" fill="#c9dfa8" shape-rendering="crispEdges"/>
<rect x="90.00" y="264.16" width="8.40" height="7.08" fill="#c9dfa8" shape-rendering="crispEdges"/>
<rect x="98.10" y="264.16" width="8.40" height="7.08" fill="#f5eaa8" shape-rendering="crispEdges"/>
<rect x="106.20" y="264.16" width="8.40" height="7.08" fill="#76c1a4" shape-rendering="crispEdges"/>
<rect x="114.30" y="264.16" width="8.40" height="7.08" fill="#76c1a4" shape-rendering="crispEdges"/>
<rect x="122.40" y="264.16" width="8.40" height="7.08" fill="#76c1a4" shape-rendering="crispEdges"/>
<rect x="130.50" y="264.16" width="8.40" height="7.08" fill="#f5eaa8" shape-rendering="crispEdges"/>
<rect x="138.60" y="264.16" width="8.40" height="7.08" fill="#f4a866" shape-rendering="crispEdges"/>
<rect x="146.70" y="264.16" width="8.40" height="7.08" fill="#f5eaa8" shape-rendering="crispEdges"/>
<rect x="154.80" y="264.16" width="8.40" height="7.08" fill="#ee7446" shape-rendering="crispEdges"/>
<rect x="162.90" y="264.16" width="8.40" height="7.08" fill="#e6523c" shape-rendering="crispEdges"/>
<rect x="57.60" y="270.94" width="8.40" height="7.08" fill="#f8dda0" shape-rendering="crispEdges"/>
<rect x="65.70" y="270.94" width="8.40" height="7.08" fill="#f8c687" shape-rendering="crispEdges"/>
<rect x="73.80" y="270.94" width="8.40" height="7.08" fill="#f8dda0" shape-rendering="crispEdges"/>
<rect x="81.90" y="270.94" width="8.40" height="7.08" fill="#f8dda0" shape-rendering="crispEdges"/>
<rect x="90.00" y="270.94" width="8.40" height="7.08" fill="#f5eaa8" shape-rendering="crispEdges"/>
<rect x="98.10" y="270.94" width="8.40" height="7.08" fill="#e2e6aa" shape-rendering="crispEdges"/>
<rect x="106.20" y="270.94" width="8.40" height="7.08" fill="#3fabaa" shape-rendering="crispEdges"/>
<rect x="114.30" y="270.94" width="8.40" height="7.08" fill="#76c1a4" shape-rendering="crispEdges"/>
<rect x="122.40" y="270.94" width="8.40" height="7.08" fill="#76c1a4" shape-rendering="crispEdges"/>
<rect x="130.50" y="270.94" width="8.40" height="7.08" fill="#f4a866" shape-rendering="crispEdges"/>
<rect x="138.60" y="270.94" width="8.40" height="7.08" fill="#ee7446" shape-rendering="crispEdges"/>
<rect x="146.70" y="270.94" width="8.40" height="7.08" fill="#f5eaa8" shape-rendering="crispEdges"/>
<rect x="154.80" y="270.94" width="8.40" height="7.08" fill="#b2d7a3" shape-rendering="crispEdges"/>
<rect x="162.90" y="270.94" width="8.40" height="7.08" fill="#e2e6aa" shape-rendering="crispEdges"/>
<rect x="57.60" y="277.72" width="8.40" height="7.08" fill="#f8dda0" shape-rendering="crispEdges"/>
<rect x="65.70" y="277.72" width="8.40" height="7.08" fill="#f8dda0" shape-rendering="crispEdges"/>
<rect x="73.80" y="277.72" width="8.40" height="7.08" fill="#f8dda0" shape-rendering="crispEdges"/>
<rect x="81.90" y="277.72" width="8.40" height="7.08" fill="#f5eaa8" shape-rendering="crispEdges"/>
<rect x="90.00" y="277.72" width="8.40" height="7.08" fill="#f5eaa8" shape-rendering="crispEdges"/>
<rect x="98.10" y="277.72" width="8.40" height="7.08" fill="#e2e6aa" shape-rendering="crispEdges"/>
<rect x="106.20" y="277.72" width="8.40" height="7.08" fill="#76c1a4" shape-rendering="crispEdges"/>
<rect x="114.30" y="277.72" width="8.40" height="7.08" fill="#3fabaa" shape-rendering="crispEdges"/>
<rect x="122.40" y="277.72" width="8.40" height="7.08" fill="#1a9fb8" shape-rendering="crispEdges"/>
<rect x="130.50" y="277.72" width="8.40" height="7.08" fill="#f5eaa8" shape-rendering="crispEdges"/>
<rect x="138.60" y="277.72" width="8.40" height="7.08" fill="#f5eaa8" shape-rendering="crispEdges"/>
<rect x="146.70" y="277.72" width="8.40" height="7.08" fill="#f5eaa8" shape-rendering="crispEdges"/>
<rect x="154.80" y="277.72" width="8.40" height="7.08" fill="#f8dda0" shape-rendering="crispEdges"/>
<rect x="162.90" y="277.72" width="8.40" height="7.08" fill="#ee7446" shape-rendering="crispEdges"/>
<rect x="57.60" y="284.50" width="8.40" height="7.08" fill="#f5eaa8" shape-rendering="crispEdges"/>
<rect x="65.70" y="284.50" width="8.40" height="7.08" fill="#f5eaa8" shape-rendering="crispEdges"/>
<rect x="73.80" y="284.50" width="8.40" height="7.08" fill="#f8c687" shape-rendering="crispEdges"/>
<rect x="81.90" y="284.50" width="8.40" height="7.08" fill="#f5eaa8" shape-rendering="crispEdges"/>
<rect x="90.00" y="284.50" width="8.40" height="7.08" fill="#e2e6aa" shape-rendering="crispEdges"/>
<rect x="98.10" y="284.50" width="8.40" height="7.08" fill="#e2e6aa" shape-rendering="crispEdges"/>
<rect x="106.20" y="284.50" width="8.40" height="7.08" fill="#2a80c0" shape-rendering="crispEdges"/>
<rect x="114.30" y="284.50" width="8.40" height="7.08" fill="#3fabaa" shape-rendering="crispEdges"/>
<rect x="122.40" y="284.50" width="8.40" height="7.08" fill="#1a9fb8" shape-rendering="crispEdges"/>
<rect x="130.50" y="284.50" width="8.40" height="7.08" fill="#f8dda0" shape-rendering="crispEdges"/>
<rect x="138.60" y="284.50" width="8.40" height="7.08" fill="#f8c687" shape-rendering="crispEdges"/>
<rect x="146.70" y="284.50" width="8.40" height="7.08" fill="#f5eaa8" shape-rendering="crispEdges"/>
<rect x="154.80" y="284.50" width="8.40" height="7.08" fill="#f8dda0" shape-rendering="crispEdges"/>
<rect x="162.90" y="284.50" width="8.40" height="7.08" fill="#ee7446" shape-rendering="crispEdges"/>
<rect x="57.60" y="291.28" width="8.40" height="7.08" fill="#c9dfa8" shape-rendering="crispEdges"/>
<rect x="65.70" y="291.28" width="8.40" height="7.08" fill="#c9dfa8" shape-rendering="crispEdges"/>
<rect x="73.80" y="291.28" width="8.40" height="7.08" fill="#f5eaa8" shape-rendering="crispEdges"/>
<rect x="81.90" y="291.28" width="8.40" height="7.08" fill="#c9dfa8" shape-rendering="crispEdges"/>
<rect x="90.00" y="291.28" width="8.40" height="7.08" fill="#f5eaa8" shape-rendering="crispEdges"/>
<rect x="98.10" y="291.28" width="8.40" height="7.08" fill="#e2e6aa" shape-rendering="crispEdges"/>
<rect x="106.20" y="291.28" width="8.40" height="7.08" fill="#76c1a4" shape-rendering="crispEdges"/>
<rect x="114.30" y="291.28" width="8.40" height="7.08" fill="#3fabaa" shape-rendering="crispEdges"/>
<rect x="122.40" y="291.28" width="8.40" height="7.08" fill="#3fabaa" shape-rendering="crispEdges"/>
<rect x="130.50" y="291.28" width="8.40" height="7.08" fill="#f8dda0" shape-rendering="crispEdges"/>
<rect x="138.60" y="291.28" width="8.40" height="7.08" fill="#f8dda0" shape-rendering="crispEdges"/>
<rect x="146.70" y="291.28" width="8.40" height="7.08" fill="#f4a866" shape-rendering="crispEdges"/>
<rect x="154.80" y="291.28" width="8.40" height="7.08" fill="#f8c687" shape-rendering="crispEdges"/>
<rect x="162.90" y="291.28" width="8.40" height="7.08" fill="#e6523c" shape-rendering="crispEdges"/>
<rect x="57.60" y="298.06" width="8.40" height="7.08" fill="#b2d7a3" shape-rendering="crispEdges"/>
<rect x="65.70" y="298.06" width="8.40" height="7.08" fill="#b2d7a3" shape-rendering="crispEdges"/>
<rect x="73.80" y="298.06" width="8.40" height="7.08" fill="#76c1a4" shape-rendering="crispEdges"/>
<rect x="81.90" y="298.06" width="8.40" height="7.08" fill="#b2d7a3" shape-rendering="crispEdges"/>
<rect x="90.00" y="298.06" width="8.40" height="7.08" fill="#b2d7a3" shape-rendering="crispEdges"/>
<rect x="98.10" y="298.06" width="8.40" height="7.08" fill="#e2e6aa" shape-rendering="crispEdges"/>
<rect x="106.20" y="298.06" width="8.40" height="7.08" fill="#b2d7a3" shape-rendering="crispEdges"/>
<rect x="114.30" y="298.06" width="8.40" height="7.08" fill="#b2d7a3" shape-rendering="crispEdges"/>
<rect x="122.40" y="298.06" width="8.40" height="7.08" fill="#b2d7a3" shape-rendering="crispEdges"/>
<rect x="130.50" y="298.06" width="8.40" height="7.08" fill="#f8c687" shape-rendering="crispEdges"/>
<rect x="138.60" y="298.06" width="8.40" height="7.08" fill="#f4a866" shape-rendering="crispEdges"/>
<rect x="146.70" y="298.06" width="8.40" height="7.08" fill="#f8c687" shape-rendering="crispEdges"/>
<rect x="154.80" y="298.06" width="8.40" height="7.08" fill="#f4a866" shape-rendering="crispEdges"/>
<rect x="162.90" y="298.06" width="8.40" height="7.08" fill="#ee7446" shape-rendering="crispEdges"/>
<rect x="57.60" y="304.84" width="8.40" height="7.08" fill="#c9dfa8" shape-rendering="crispEdges"/>
<rect x="65.70" y="304.84" width="8.40" height="7.08" fill="#c9dfa8" shape-rendering="crispEdges"/>
<rect x="73.80" y="304.84" width="8.40" height="7.08" fill="#f5eaa8" shape-rendering="crispEdges"/>
<rect x="81.90" y="304.84" width="8.40" height="7.08" fill="#76c1a4" shape-rendering="crispEdges"/>
<rect x="90.00" y="304.84" width="8.40" height="7.08" fill="#c9dfa8" shape-rendering="crispEdges"/>
<rect x="98.10" y="304.84" width="8.40" height="7.08" fill="#f5eaa8" shape-rendering="crispEdges"/>
<rect x="106.20" y="304.84" width="8.40" height="7.08" fill="#b2d7a3" shape-rendering="crispEdges"/>
<rect x="114.30" y="304.84" width="8.40" height="7.08" fill="#b2d7a3" shape-rendering="crispEdges"/>
<rect x="122.40" y="304.84" width="8.40" height="7.08" fill="#76c1a4" shape-rendering="crispEdges"/>
<rect x="130.50" y="304.84" width="8.40" height="7.08" fill="#f5eaa8" shape-rendering="crispEdges"/>
<rect x="138.60" y="304.84" width="8.40" height="7.08" fill="#f8c687" shape-rendering="crispEdges"/>
<rect x="146.70" y="304.84" width="8.40" height="7.08" fill="#f5eaa8" shape-rendering="crispEdges"/>
<rect x="154.80" y="304.84" width="8.40" height="7.08" fill="#f8c687" shape-rendering="crispEdges"/>
<rect x="162.90" y="304.84" width="8.40" height="7.08" fill="#dc2244" shape-rendering="crispEdges"/>
<rect x="57.60" y="311.62" width="8.40" height="7.08" fill="#b2d7a3" shape-rendering="crispEdges"/>
<rect x="65.70" y="311.62" width="8.40" height="7.08" fill="#b2d7a3" shape-rendering="crispEdges"/>
<rect x="73.80" y="311.62" width="8.40" height="7.08" fill="#b2d7a3" shape-rendering="crispEdges"/>
<rect x="81.90" y="311.62" width="8.40" height="7.08" fill="#b2d7a3" shape-rendering="crispEdges"/>
<rect x="90.00" y="311.62" width="8.40" height="7.08" fill="#b2d7a3" shape-rendering="crispEdges"/>
<rect x="98.10" y="311.62" width="8.40" height="7.08" fill="#c9dfa8" shape-rendering="crispEdges"/>
<rect x="106.20" y="311.62" width="8.40" height="7.08" fill="#b2d7a3" shape-rendering="crispEdges"/>
<rect x="114.30" y="311.62" width="8.40" height="7.08" fill="#b2d7a3" shape-rendering="crispEdges"/>
<rect x="122.40" y="311.62" width="8.40" height="7.08" fill="#c9dfa8" shape-rendering="crispEdges"/>
<rect x="130.50" y="311.62" width="8.40" height="7.08" fill="#f4a866" shape-rendering="crispEdges"/>
<rect x="138.60" y="311.62" width="8.40" height="7.08" fill="#e6523c" shape-rendering="crispEdges"/>
<rect x="146.70" y="311.62" width="8.40" height="7.08" fill="#f4a866" shape-rendering="crispEdges"/>
<rect x="154.80" y="311.62" width="8.40" height="7.08" fill="#f4a866" shape-rendering="crispEdges"/>
<rect x="162.90" y="311.62" width="8.40" height="7.08" fill="#f5eaa8" shape-rendering="crispEdges"/>
<rect x="57.60" y="318.40" width="8.40" height="7.08" fill="#b2d7a3" shape-rendering="crispEdges"/>
<rect x="65.70" y="318.40" width="8.40" height="7.08" fill="#b2d7a3" shape-rendering="crispEdges"/>
<rect x="73.80" y="318.40" width="8.40" height="7.08" fill="#b2d7a3" shape-rendering="crispEdges"/>
<rect x="81.90" y="318.40" width="8.40" height="7.08" fill="#b2d7a3" shape-rendering="crispEdges"/>
<rect x="90.00" y="318.40" width="8.40" height="7.08" fill="#b2d7a3" shape-rendering="crispEdges"/>
<rect x="98.10" y="318.40" width="8.40" height="7.08" fill="#e2e6aa" shape-rendering="crispEdges"/>
<rect x="106.20" y="318.40" width="8.40" height="7.08" fill="#b2d7a3" shape-rendering="crispEdges"/>
<rect x="114.30" y="318.40" width="8.40" height="7.08" fill="#b2d7a3" shape-rendering="crispEdges"/>
<rect x="122.40" y="318.40" width="8.40" height="7.08" fill="#c9dfa8" shape-rendering="crispEdges"/>
<rect x="130.50" y="318.40" width="8.40" height="7.08" fill="#f4a866" shape-rendering="crispEdges"/>
<rect x="138.60" y="318.40" width="8.40" height="7.08" fill="#dc2244" shape-rendering="crispEdges"/>
<rect x="146.70" y="318.40" width="8.40" height="7.08" fill="#f5eaa8" shape-rendering="crispEdges"/>
<rect x="154.80" y="318.40" width="8.40" height="7.08" fill="#f5eaa8" shape-rendering="crispEdges"/>
<rect x="162.90" y="318.40" width="8.40" height="7.08" fill="#f5eaa8" shape-rendering="crispEdges"/>
<rect x="57.60" y="325.18" width="8.40" height="7.08" fill="#c9dfa8" shape-rendering="crispEdges"/>
<rect x="65.70" y="325.18" width="8.40" height="7.08" fill="#e2e6aa" shape-rendering="crispEdges"/>
<rect x="73.80" y="325.18" width="8.40" height="7.08" fill="#f5eaa8" shape-rendering="crispEdges"/>
<rect x="81.90" y="325.18" width="8.40" height="7.08" fill="#f5eaa8" shape-rendering="crispEdges"/>
<rect x="90.00" y="325.18" width="8.40" height="7.08" fill="#c9dfa8" shape-rendering="crispEdges"/>
<rect x="98.10" y="325.18" width="8.40" height="7.08" fill="#e2e6aa" shape-rendering="crispEdges"/>
<rect x="106.20" y="325.18" width="8.40" height="7.08" fill="#3fabaa" shape-rendering="crispEdges"/>
<rect x="114.30" y="325.18" width="8.40" height="7.08" fill="#3fabaa" shape-rendering="crispEdges"/>
<rect x="122.40" y="325.18" width="8.40" height="7.08" fill="#3fabaa" shape-rendering="crispEdges"/>
<rect x="130.50" y="325.18" width="8.40" height="7.08" fill="#f4a866" shape-rendering="crispEdges"/>
<rect x="138.60" y="325.18" width="8.40" height="7.08" fill="#e6523c" shape-rendering="crispEdges"/>
<rect x="146.70" y="325.18" width="8.40" height="7.08" fill="#f5eaa8" shape-rendering="crispEdges"/>
<rect x="154.80" y="325.18" width="8.40" height="7.08" fill="#f5eaa8" shape-rendering="crispEdges"/>
<rect x="162.90" y="325.18" width="8.40" height="7.08" fill="#f5eaa8" shape-rendering="crispEdges"/>
<rect x="57.60" y="331.96" width="8.40" height="7.08" fill="#b2d7a3" shape-rendering="crispEdges"/>
<rect x="65.70" y="331.96" width="8.40" height="7.08" fill="#b2d7a3" shape-rendering="crispEdges"/>
<rect x="73.80" y="331.96" width="8.40" height="7.08" fill="#b2d7a3" shape-rendering="crispEdges"/>
<rect x="81.90" y="331.96" width="8.40" height="7.08" fill="#b2d7a3" shape-rendering="crispEdges"/>
<rect x="90.00" y="331.96" width="8.40" height="7.08" fill="#b2d7a3" shape-rendering="crispEdges"/>
<rect x="98.10" y="331.96" width="8.40" height="7.08" fill="#f5eaa8" shape-rendering="crispEdges"/>
<rect x="106.20" y="331.96" width="8.40" height="7.08" fill="#76c1a4" shape-rendering="crispEdges"/>
<rect x="114.30" y="331.96" width="8.40" height="7.08" fill="#c9dfa8" shape-rendering="crispEdges"/>
<rect x="122.40" y="331.96" width="8.40" height="7.08" fill="#c9dfa8" shape-rendering="crispEdges"/>
<rect x="130.50" y="331.96" width="8.40" height="7.08" fill="#f8c687" shape-rendering="crispEdges"/>
<rect x="138.60" y="331.96" width="8.40" height="7.08" fill="#e2e6aa" shape-rendering="crispEdges"/>
<rect x="146.70" y="331.96" width="8.40" height="7.08" fill="#dc2244" shape-rendering="crispEdges"/>
<rect x="154.80" y="331.96" width="8.40" height="7.08" fill="#f8dda0" shape-rendering="crispEdges"/>
<rect x="162.90" y="331.96" width="8.40" height="7.08" fill="#f5eaa8" shape-rendering="crispEdges"/>
<rect x="57.60" y="338.74" width="8.40" height="7.08" fill="#c9dfa8" shape-rendering="crispEdges"/>
<rect x="65.70" y="338.74" width="8.40" height="7.08" fill="#c9dfa8" shape-rendering="crispEdges"/>
<rect x="73.80" y="338.74" width="8.40" height="7.08" fill="#c9dfa8" shape-rendering="crispEdges"/>
<rect x="81.90" y="338.74" width="8.40" height="7.08" fill="#f5eaa8" shape-rendering="crispEdges"/>
<rect x="90.00" y="338.74" width="8.40" height="7.08" fill="#c9dfa8" shape-rendering="crispEdges"/>
<rect x="98.10" y="338.74" width="8.40" height="7.08" fill="#c9dfa8" shape-rendering="crispEdges"/>
<rect x="106.20" y="338.74" width="8.40" height="7.08" fill="#c9dfa8" shape-rendering="crispEdges"/>
<rect x="114.30" y="338.74" width="8.40" height="7.08" fill="#c9dfa8" shape-rendering="crispEdges"/>
<rect x="122.40" y="338.74" width="8.40" height="7.08" fill="#76c1a4" shape-rendering="crispEdges"/>
<rect x="130.50" y="338.74" width="8.40" height="7.08" fill="#ee7446" shape-rendering="crispEdges"/>
<rect x="138.60" y="338.74" width="8.40" height="7.08" fill="#e2e6aa" shape-rendering="crispEdges"/>
<rect x="146.70" y="338.74" width="8.40" height="7.08" fill="#dc2244" shape-rendering="crispEdges"/>
<rect x="154.80" y="338.74" width="8.40" height="7.08" fill="#f5eaa8" shape-rendering="crispEdges"/>
<rect x="162.90" y="338.74" width="8.40" height="7.08" fill="#e2e6aa" shape-rendering="crispEdges"/>
<rect x="57.60" y="345.52" width="8.40" height="7.08" fill="#76c1a4" shape-rendering="crispEdges"/>
<rect x="65.70" y="345.52" width="8.40" height="7.08" fill="#76c1a4" shape-rendering="crispEdges"/>
<rect x="73.80" y="345.52" width="8.40" height="7.08" fill="#b2d7a3" shape-rendering="crispEdges"/>
<rect x="81.90" y="345.52" width="8.40" height="7.08" fill="#e2e6aa" shape-rendering="crispEdges"/>
<rect x="90.00" y="345.52" width="8.40" height="7.08" fill="#b2d7a3" shape-rendering="crispEdges"/>
<rect x="98.10" y="345.52" width="8.40" height="7.08" fill="#c9dfa8" shape-rendering="crispEdges"/>
<rect x="106.20" y="345.52" width="8.40" height="7.08" fill="#c9dfa8" shape-rendering="crispEdges"/>
<rect x="114.30" y="345.52" width="8.40" height="7.08" fill="#e2e6aa" shape-rendering="crispEdges"/>
<rect x="122.40" y="345.52" width="8.40" height="7.08" fill="#76c1a4" shape-rendering="crispEdges"/>
<rect x="130.50" y="345.52" width="8.40" height="7.08" fill="#f5eaa8" shape-rendering="crispEdges"/>
<rect x="138.60" y="345.52" width="8.40" height="7.08" fill="#e2e6aa" shape-rendering="crispEdges"/>
<rect x="146.70" y="345.52" width="8.40" height="7.08" fill="#f8c687" shape-rendering="crispEdges"/>
<rect x="154.80" y="345.52" width="8.40" height="7.08" fill="#dc2244" shape-rendering="crispEdges"/>
<rect x="162.90" y="345.52" width="8.40" height="7.08" fill="#f8c687" shape-rendering="crispEdges"/>
<rect x="57.60" y="352.30" width="8.40" height="7.08" fill="#c9dfa8" shape-rendering="crispEdges"/>
<rect x="65.70" y="352.30" width="8.40" height="7.08" fill="#c9dfa8" shape-rendering="crispEdges"/>
<rect x="73.80" y="352.30" width="8.40" height="7.08" fill="#c9dfa8" shape-rendering="crispEdges"/>
<rect x="81.90" y="352.30" width="8.40" height="7.08" fill="#c9dfa8" shape-rendering="crispEdges"/>
<rect x="90.00" y="352.30" width="8.40" height="7.08" fill="#c9dfa8" shape-rendering="crispEdges"/>
<rect x="98.10" y="352.30" width="8.40" height="7.08" fill="#c9dfa8" shape-rendering="crispEdges"/>
<rect x="106.20" y="352.30" width="8.40" height="7.08" fill="#c9dfa8" shape-rendering="crispEdges"/>
<rect x="114.30" y="352.30" width="8.40" height="7.08" fill="#c9dfa8" shape-rendering="crispEdges"/>
<rect x="122.40" y="352.30" width="8.40" height="7.08" fill="#e2e6aa" shape-rendering="crispEdges"/>
<rect x="130.50" y="352.30" width="8.40" height="7.08" fill="#f5eaa8" shape-rendering="crispEdges"/>
<rect x="138.60" y="352.30" width="8.40" height="7.08" fill="#f5eaa8" shape-rendering="crispEdges"/>
<rect x="146.70" y="352.30" width="8.40" height="7.08" fill="#f5eaa8" shape-rendering="crispEdges"/>
<rect x="154.80" y="352.30" width="8.40" height="7.08" fill="#dc2244" shape-rendering="crispEdges"/>
<rect x="162.90" y="352.30" width="8.40" height="7.08" fill="#f8c687" shape-rendering="crispEdges"/>
<rect x="57.60" y="359.08" width="8.40" height="7.08" fill="#c9dfa8" shape-rendering="crispEdges"/>
<rect x="65.70" y="359.08" width="8.40" height="7.08" fill="#c9dfa8" shape-rendering="crispEdges"/>
<rect x="73.80" y="359.08" width="8.40" height="7.08" fill="#c9dfa8" shape-rendering="crispEdges"/>
<rect x="81.90" y="359.08" width="8.40" height="7.08" fill="#c9dfa8" shape-rendering="crispEdges"/>
<rect x="90.00" y="359.08" width="8.40" height="7.08" fill="#c9dfa8" shape-rendering="crispEdges"/>
<rect x="98.10" y="359.08" width="8.40" height="7.08" fill="#c9dfa8" shape-rendering="crispEdges"/>
<rect x="106.20" y="359.08" width="8.40" height="7.08" fill="#c9dfa8" shape-rendering="crispEdges"/>
<rect x="114.30" y="359.08" width="8.40" height="7.08" fill="#c9dfa8" shape-rendering="crispEdges"/>
<rect x="122.40" y="359.08" width="8.40" height="7.08" fill="#e2e6aa" shape-rendering="crispEdges"/>
<rect x="130.50" y="359.08" width="8.40" height="7.08" fill="#f5eaa8" shape-rendering="crispEdges"/>
<rect x="138.60" y="359.08" width="8.40" height="7.08" fill="#f5eaa8" shape-rendering="crispEdges"/>
<rect x="146.70" y="359.08" width="8.40" height="7.08" fill="#f5eaa8" shape-rendering="crispEdges"/>
<rect x="154.80" y="359.08" width="8.40" height="7.08" fill="#dc2244" shape-rendering="crispEdges"/>
<rect x="162.90" y="359.08" width="8.40" height="7.08" fill="#f4a866" shape-rendering="crispEdges"/>
<rect x="57.60" y="365.86" width="8.40" height="7.08" fill="#c9dfa8" shape-rendering="crispEdges"/>
<rect x="65.70" y="365.86" width="8.40" height="7.08" fill="#c9dfa8" shape-rendering="crispEdges"/>
<rect x="73.80" y="365.86" width="8.40" height="7.08" fill="#c9dfa8" shape-rendering="crispEdges"/>
<rect x="81.90" y="365.86" width="8.40" height="7.08" fill="#c9dfa8" shape-rendering="crispEdges"/>
<rect x="90.00" y="365.86" width="8.40" height="7.08" fill="#c9dfa8" shape-rendering="crispEdges"/>
<rect x="98.10" y="365.86" width="8.40" height="7.08" fill="#c9dfa8" shape-rendering="crispEdges"/>
<rect x="106.20" y="365.86" width="8.40" height="7.08" fill="#c9dfa8" shape-rendering="crispEdges"/>
<rect x="114.30" y="365.86" width="8.40" height="7.08" fill="#c9dfa8" shape-rendering="crispEdges"/>
<rect x="122.40" y="365.86" width="8.40" height="7.08" fill="#e2e6aa" shape-rendering="crispEdges"/>
<rect x="130.50" y="365.86" width="8.40" height="7.08" fill="#f5eaa8" shape-rendering="crispEdges"/>
<rect x="138.60" y="365.86" width="8.40" height="7.08" fill="#f5eaa8" shape-rendering="crispEdges"/>
<rect x="146.70" y="365.86" width="8.40" height="7.08" fill="#f5eaa8" shape-rendering="crispEdges"/>
<rect x="154.80" y="365.86" width="8.40" height="7.08" fill="#dc2244" shape-rendering="crispEdges"/>
<rect x="162.90" y="365.86" width="8.40" height="7.08" fill="#e6523c" shape-rendering="crispEdges"/>
<rect x="57.60" y="372.64" width="8.40" height="7.08" fill="#f5eaa8" shape-rendering="crispEdges"/>
<rect x="65.70" y="372.64" width="8.40" height="7.08" fill="#f5eaa8" shape-rendering="crispEdges"/>
<rect x="73.80" y="372.64" width="8.40" height="7.08" fill="#ee7446" shape-rendering="crispEdges"/>
<rect x="81.90" y="372.64" width="8.40" height="7.08" fill="#c9dfa8" shape-rendering="crispEdges"/>
<rect x="90.00" y="372.64" width="8.40" height="7.08" fill="#e2e6aa" shape-rendering="crispEdges"/>
<rect x="98.10" y="372.64" width="8.40" height="7.08" fill="#f5eaa8" shape-rendering="crispEdges"/>
<rect x="106.20" y="372.64" width="8.40" height="7.08" fill="#1a9fb8" shape-rendering="crispEdges"/>
<rect x="114.30" y="372.64" width="8.40" height="7.08" fill="#f5eaa8" shape-rendering="crispEdges"/>
<rect x="122.40" y="372.64" width="8.40" height="7.08" fill="#1a9fb8" shape-rendering="crispEdges"/>
<rect x="130.50" y="372.64" width="8.40" height="7.08" fill="#f5eaa8" shape-rendering="crispEdges"/>
<rect x="138.60" y="372.64" width="8.40" height="7.08" fill="#ee7446" shape-rendering="crispEdges"/>
<rect x="146.70" y="372.64" width="8.40" height="7.08" fill="#f5eaa8" shape-rendering="crispEdges"/>
<rect x="154.80" y="372.64" width="8.40" height="7.08" fill="#f5eaa8" shape-rendering="crispEdges"/>
<rect x="162.90" y="372.64" width="8.40" height="7.08" fill="#f5eaa8" shape-rendering="crispEdges"/>
<rect x="57.60" y="379.42" width="8.40" height="7.08" fill="#f5eaa8" shape-rendering="crispEdges"/>
<rect x="65.70" y="379.42" width="8.40" height="7.08" fill="#f5eaa8" shape-rendering="crispEdges"/>
<rect x="73.80" y="379.42" width="8.40" height="7.08" fill="#f5eaa8" shape-rendering="crispEdges"/>
<rect x="81.90" y="379.42" width="8.40" height="7.08" fill="#f5eaa8" shape-rendering="crispEdges"/>
<rect x="90.00" y="379.42" width="8.40" height="7.08" fill="#c9dfa8" shape-rendering="crispEdges"/>
<rect x="98.10" y="379.42" width="8.40" height="7.08" fill="#f5eaa8" shape-rendering="crispEdges"/>
<rect x="106.20" y="379.42" width="8.40" height="7.08" fill="#3fabaa" shape-rendering="crispEdges"/>
<rect x="114.30" y="379.42" width="8.40" height="7.08" fill="#1a9fb8" shape-rendering="crispEdges"/>
<rect x="122.40" y="379.42" width="8.40" height="7.08" fill="#76c1a4" shape-rendering="crispEdges"/>
<rect x="130.50" y="379.42" width="8.40" height="7.08" fill="#f4a866" shape-rendering="crispEdges"/>
<rect x="138.60" y="379.42" width="8.40" height="7.08" fill="#f5eaa8" shape-rendering="crispEdges"/>
<rect x="146.70" y="379.42" width="8.40" height="7.08" fill="#f4a866" shape-rendering="crispEdges"/>
<rect x="154.80" y="379.42" width="8.40" height="7.08" fill="#f4a866" shape-rendering="crispEdges"/>
<rect x="162.90" y="379.42" width="8.40" height="7.08" fill="#f8c687" shape-rendering="crispEdges"/>
<rect x="57.60" y="386.20" width="8.40" height="7.08" fill="#f5eaa8" shape-rendering="crispEdges"/>
<rect x="65.70" y="386.20" width="8.40" height="7.08" fill="#f5eaa8" shape-rendering="crispEdges"/>
<rect x="73.80" y="386.20" width="8.40" height="7.08" fill="#f5eaa8" shape-rendering="crispEdges"/>
<rect x="81.90" y="386.20" width="8.40" height="7.08" fill="#e2e6aa" shape-rendering="crispEdges"/>
<rect x="90.00" y="386.20" width="8.40" height="7.08" fill="#f5eaa8" shape-rendering="crispEdges"/>
<rect x="98.10" y="386.20" width="8.40" height="7.08" fill="#e2e6aa" shape-rendering="crispEdges"/>
<rect x="106.20" y="386.20" width="8.40" height="7.08" fill="#1a9fb8" shape-rendering="crispEdges"/>
<rect x="114.30" y="386.20" width="8.40" height="7.08" fill="#1a9fb8" shape-rendering="crispEdges"/>
<rect x="122.40" y="386.20" width="8.40" height="7.08" fill="#3fabaa" shape-rendering="crispEdges"/>
<rect x="130.50" y="386.20" width="8.40" height="7.08" fill="#f8c687" shape-rendering="crispEdges"/>
<rect x="138.60" y="386.20" width="8.40" height="7.08" fill="#f5eaa8" shape-rendering="crispEdges"/>
<rect x="146.70" y="386.20" width="8.40" height="7.08" fill="#f5eaa8" shape-rendering="crispEdges"/>
<rect x="154.80" y="386.20" width="8.40" height="7.08" fill="#f8dda0" shape-rendering="crispEdges"/>
<rect x="162.90" y="386.20" width="8.40" height="7.08" fill="#ee7446" shape-rendering="crispEdges"/>
<rect x="57.60" y="392.98" width="8.40" height="7.08" fill="#f8c687" shape-rendering="crispEdges"/>
<rect x="65.70" y="392.98" width="8.40" height="7.08" fill="#f4a866" shape-rendering="crispEdges"/>
<rect x="73.80" y="392.98" width="8.40" height="7.08" fill="#f8c687" shape-rendering="crispEdges"/>
<rect x="81.90" y="392.98" width="8.40" height="7.08" fill="#f8c687" shape-rendering="crispEdges"/>
<rect x="90.00" y="392.98" width="8.40" height="7.08" fill="#f5eaa8" shape-rendering="crispEdges"/>
<rect x="98.10" y="392.98" width="8.40" height="7.08" fill="#e2e6aa" shape-rendering="crispEdges"/>
<rect x="106.20" y="392.98" width="8.40" height="7.08" fill="#3fabaa" shape-rendering="crispEdges"/>
<rect x="114.30" y="392.98" width="8.40" height="7.08" fill="#3fabaa" shape-rendering="crispEdges"/>
<rect x="122.40" y="392.98" width="8.40" height="7.08" fill="#76c1a4" shape-rendering="crispEdges"/>
<rect x="130.50" y="392.98" width="8.40" height="7.08" fill="#ee7446" shape-rendering="crispEdges"/>
<rect x="138.60" y="392.98" width="8.40" height="7.08" fill="#f5eaa8" shape-rendering="crispEdges"/>
<rect x="146.70" y="392.98" width="8.40" height="7.08" fill="#e2e6aa" shape-rendering="crispEdges"/>
<rect x="154.80" y="392.98" width="8.40" height="7.08" fill="#b2d7a3" shape-rendering="crispEdges"/>
<rect x="162.90" y="392.98" width="8.40" height="7.08" fill="#b2d7a3" shape-rendering="crispEdges"/>
<rect x="57.60" y="399.76" width="8.40" height="7.08" fill="#f4a866" shape-rendering="crispEdges"/>
<rect x="65.70" y="399.76" width="8.40" height="7.08" fill="#f4a866" shape-rendering="crispEdges"/>
<rect x="73.80" y="399.76" width="8.40" height="7.08" fill="#f4a866" shape-rendering="crispEdges"/>
<rect x="81.90" y="399.76" width="8.40" height="7.08" fill="#f4a866" shape-rendering="crispEdges"/>
<rect x="90.00" y="399.76" width="8.40" height="7.08" fill="#f4a866" shape-rendering="crispEdges"/>
<rect x="98.10" y="399.76" width="8.40" height="7.08" fill="#f5eaa8" shape-rendering="crispEdges"/>
<rect x="106.20" y="399.76" width="8.40" height="7.08" fill="#76c1a4" shape-rendering="crispEdges"/>
<rect x="114.30" y="399.76" width="8.40" height="7.08" fill="#76c1a4" shape-rendering="crispEdges"/>
<rect x="122.40" y="399.76" width="8.40" height="7.08" fill="#76c1a4" shape-rendering="crispEdges"/>
<rect x="130.50" y="399.76" width="8.40" height="7.08" fill="#f8dda0" shape-rendering="crispEdges"/>
<rect x="138.60" y="399.76" width="8.40" height="7.08" fill="#76c1a4" shape-rendering="crispEdges"/>
<rect x="146.70" y="399.76" width="8.40" height="7.08" fill="#c9dfa8" shape-rendering="crispEdges"/>
<rect x="154.80" y="399.76" width="8.40" height="7.08" fill="#76c1a4" shape-rendering="crispEdges"/>
<rect x="162.90" y="399.76" width="8.40" height="7.08" fill="#76c1a4" shape-rendering="crispEdges"/>
<rect x="57.60" y="406.54" width="8.40" height="7.08" fill="#ee7446" shape-rendering="crispEdges"/>
<rect x="65.70" y="406.54" width="8.40" height="7.08" fill="#f4a866" shape-rendering="crispEdges"/>
<rect x="73.80" y="406.54" width="8.40" height="7.08" fill="#f4a866" shape-rendering="crispEdges"/>
<rect x="81.90" y="406.54" width="8.40" height="7.08" fill="#f4a866" shape-rendering="crispEdges"/>
<rect x="90.00" y="406.54" width="8.40" height="7.08" fill="#f4a866" shape-rendering="crispEdges"/>
<rect x="98.10" y="406.54" width="8.40" height="7.08" fill="#c9dfa8" shape-rendering="crispEdges"/>
<rect x="106.20" y="406.54" width="8.40" height="7.08" fill="#76c1a4" shape-rendering="crispEdges"/>
<rect x="114.30" y="406.54" width="8.40" height="7.08" fill="#76c1a4" shape-rendering="crispEdges"/>
<rect x="122.40" y="406.54" width="8.40" height="7.08" fill="#b2d7a3" shape-rendering="crispEdges"/>
<rect x="130.50" y="406.54" width="8.40" height="7.08" fill="#f5eaa8" shape-rendering="crispEdges"/>
<rect x="138.60" y="406.54" width="8.40" height="7.08" fill="#76c1a4" shape-rendering="crispEdges"/>
<rect x="146.70" y="406.54" width="8.40" height="7.08" fill="#c9dfa8" shape-rendering="crispEdges"/>
<rect x="154.80" y="406.54" width="8.40" height="7.08" fill="#76c1a4" shape-rendering="crispEdges"/>
<rect x="162.90" y="406.54" width="8.40" height="7.08" fill="#76c1a4" shape-rendering="crispEdges"/>
<rect x="57.60" y="413.32" width="8.40" height="7.08" fill="#ee7446" shape-rendering="crispEdges"/>
<rect x="65.70" y="413.32" width="8.40" height="7.08" fill="#f4a866" shape-rendering="crispEdges"/>
<rect x="73.80" y="413.32" width="8.40" height="7.08" fill="#f4a866" shape-rendering="crispEdges"/>
<rect x="81.90" y="413.32" width="8.40" height="7.08" fill="#f8c687" shape-rendering="crispEdges"/>
<rect x="90.00" y="413.32" width="8.40" height="7.08" fill="#f5eaa8" shape-rendering="crispEdges"/>
<rect x="98.10" y="413.32" width="8.40" height="7.08" fill="#76c1a4" shape-rendering="crispEdges"/>
<rect x="106.20" y="413.32" width="8.40" height="7.08" fill="#76c1a4" shape-rendering="crispEdges"/>
<rect x="114.30" y="413.32" width="8.40" height="7.08" fill="#3fabaa" shape-rendering="crispEdges"/>
<rect x="122.40" y="413.32" width="8.40" height="7.08" fill="#76c1a4" shape-rendering="crispEdges"/>
<rect x="130.50" y="413.32" width="8.40" height="7.08" fill="#f8c687" shape-rendering="crispEdges"/>
<rect x="138.60" y="413.32" width="8.40" height="7.08" fill="#e2e6aa" shape-rendering="crispEdges"/>
<rect x="146.70" y="413.32" width="8.40" height="7.08" fill="#e2e6aa" shape-rendering="crispEdges"/>
<rect x="154.80" y="413.32" width="8.40" height="7.08" fill="#b2d7a3" shape-rendering="crispEdges"/>
<rect x="162.90" y="413.32" width="8.40" height="7.08" fill="#b2d7a3" shape-rendering="crispEdges"/>
<rect x="57.60" y="420.10" width="8.40" height="7.08" fill="#f8dda0" shape-rendering="crispEdges"/>
<rect x="65.70" y="420.10" width="8.40" height="7.08" fill="#f8dda0" shape-rendering="crispEdges"/>
<rect x="73.80" y="420.10" width="8.40" height="7.08" fill="#f8dda0" shape-rendering="crispEdges"/>
<rect x="81.90" y="420.10" width="8.40" height="7.08" fill="#f8dda0" shape-rendering="crispEdges"/>
<rect x="90.00" y="420.10" width="8.40" height="7.08" fill="#e6523c" shape-rendering="crispEdges"/>
<rect x="98.10" y="420.10" width="8.40" height="7.08" fill="#f5eaa8" shape-rendering="crispEdges"/>
<rect x="106.20" y="420.10" width="8.40" height="7.08" fill="#b2d7a3" shape-rendering="crispEdges"/>
<rect x="114.30" y="420.10" width="8.40" height="7.08" fill="#76c1a4" shape-rendering="crispEdges"/>
<rect x="122.40" y="420.10" width="8.40" height="7.08" fill="#b2d7a3" shape-rendering="crispEdges"/>
<rect x="130.50" y="420.10" width="8.40" height="7.08" fill="#f5eaa8" shape-rendering="crispEdges"/>
<rect x="138.60" y="420.10" width="8.40" height="7.08" fill="#e2e6aa" shape-rendering="crispEdges"/>
<rect x="146.70" y="420.10" width="8.40" height="7.08" fill="#76c1a4" shape-rendering="crispEdges"/>
<rect x="154.80" y="420.10" width="8.40" height="7.08" fill="#76c1a4" shape-rendering="crispEdges"/>
<rect x="162.90" y="420.10" width="8.40" height="7.08" fill="#76c1a4" shape-rendering="crispEdges"/>
<rect x="57.60" y="426.88" width="8.40" height="7.08" fill="#b2d7a3" shape-rendering="crispEdges"/>
<rect x="65.70" y="426.88" width="8.40" height="7.08" fill="#b2d7a3" shape-rendering="crispEdges"/>
<rect x="73.80" y="426.88" width="8.40" height="7.08" fill="#c9dfa8" shape-rendering="crispEdges"/>
<rect x="81.90" y="426.88" width="8.40" height="7.08" fill="#b2d7a3" shape-rendering="crispEdges"/>
<rect x="90.00" y="426.88" width="8.40" height="7.08" fill="#f5eaa8" shape-rendering="crispEdges"/>
<rect x="98.10" y="426.88" width="8.40" height="7.08" fill="#f5eaa8" shape-rendering="crispEdges"/>
<rect x="106.20" y="426.88" width="8.40" height="7.08" fill="#ee7446" shape-rendering="crispEdges"/>
<rect x="114.30" y="426.88" width="8.40" height="7.08" fill="#ee7446" shape-rendering="crispEdges"/>
<rect x="122.40" y="426.88" width="8.40" height="7.08" fill="#e6523c" shape-rendering="crispEdges"/>
<rect x="130.50" y="426.88" width="8.40" height="7.08" fill="#f5eaa8" shape-rendering="crispEdges"/>
<rect x="138.60" y="426.88" width="8.40" height="7.08" fill="#c9dfa8" shape-rendering="crispEdges"/>
<rect x="146.70" y="426.88" width="8.40" height="7.08" fill="#c9dfa8" shape-rendering="crispEdges"/>
<rect x="154.80" y="426.88" width="8.40" height="7.08" fill="#b2d7a3" shape-rendering="crispEdges"/>
<rect x="162.90" y="426.88" width="8.40" height="7.08" fill="#b2d7a3" shape-rendering="crispEdges"/>
<rect x="57.60" y="433.66" width="8.40" height="7.08" fill="#c9dfa8" shape-rendering="crispEdges"/>
<rect x="65.70" y="433.66" width="8.40" height="7.08" fill="#c9dfa8" shape-rendering="crispEdges"/>
<rect x="73.80" y="433.66" width="8.40" height="7.08" fill="#c9dfa8" shape-rendering="crispEdges"/>
<rect x="81.90" y="433.66" width="8.40" height="7.08" fill="#c9dfa8" shape-rendering="crispEdges"/>
<rect x="90.00" y="433.66" width="8.40" height="7.08" fill="#f8dda0" shape-rendering="crispEdges"/>
<rect x="98.10" y="433.66" width="8.40" height="7.08" fill="#f8dda0" shape-rendering="crispEdges"/>
<rect x="106.20" y="433.66" width="8.40" height="7.08" fill="#ee7446" shape-rendering="crispEdges"/>
<rect x="114.30" y="433.66" width="8.40" height="7.08" fill="#f4a866" shape-rendering="crispEdges"/>
<rect x="122.40" y="433.66" width="8.40" height="7.08" fill="#e6523c" shape-rendering="crispEdges"/>
<rect x="130.50" y="433.66" width="8.40" height="7.08" fill="#c9dfa8" shape-rendering="crispEdges"/>
<rect x="138.60" y="433.66" width="8.40" height="7.08" fill="#76c1a4" shape-rendering="crispEdges"/>
<rect x="146.70" y="433.66" width="8.40" height="7.08" fill="#76c1a4" shape-rendering="crispEdges"/>
<rect x="154.80" y="433.66" width="8.40" height="7.08" fill="#76c1a4" shape-rendering="crispEdges"/>
<rect x="162.90" y="433.66" width="8.40" height="7.08" fill="#76c1a4" shape-rendering="crispEdges"/>
<rect x="57.60" y="440.44" width="8.40" height="7.08" fill="#c9dfa8" shape-rendering="crispEdges"/>
<rect x="65.70" y="440.44" width="8.40" height="7.08" fill="#c9dfa8" shape-rendering="crispEdges"/>
<rect x="73.80" y="440.44" width="8.40" height="7.08" fill="#c9dfa8" shape-rendering="crispEdges"/>
<rect x="81.90" y="440.44" width="8.40" height="7.08" fill="#c9dfa8" shape-rendering="crispEdges"/>
<rect x="90.00" y="440.44" width="8.40" height="7.08" fill="#c9dfa8" shape-rendering="crispEdges"/>
<rect x="98.10" y="440.44" width="8.40" height="7.08" fill="#f5eaa8" shape-rendering="crispEdges"/>
<rect x="106.20" y="440.44" width="8.40" height="7.08" fill="#ee7446" shape-rendering="crispEdges"/>
<rect x="114.30" y="440.44" width="8.40" height="7.08" fill="#dc2244" shape-rendering="crispEdges"/>
<rect x="122.40" y="440.44" width="8.40" height="7.08" fill="#f5eaa8" shape-rendering="crispEdges"/>
<rect x="130.50" y="440.44" width="8.40" height="7.08" fill="#c9dfa8" shape-rendering="crispEdges"/>
<rect x="138.60" y="440.44" width="8.40" height="7.08" fill="#c9dfa8" shape-rendering="crispEdges"/>
<rect x="146.70" y="440.44" width="8.40" height="7.08" fill="#c9dfa8" shape-rendering="crispEdges"/>
<rect x="154.80" y="440.44" width="8.40" height="7.08" fill="#c9dfa8" shape-rendering="crispEdges"/>
<rect x="162.90" y="440.44" width="8.40" height="7.08" fill="#c9dfa8" shape-rendering="crispEdges"/>
</g>
<text font-size="7.12" text-anchor="end" fill="#2a2a2a" stroke="#2a2a2a" stroke-width="0.25" font-weight="normal" font-style="normal" letter-spacing="0.25" transform="translate(50.80,120.79) scale(1.0526,1)">Gprc5c</text>
<line x1="53.60" y1="118.39" x2="57.60" y2="118.39" stroke="#222" stroke-width="1.0"/>
<text font-size="7.12" text-anchor="end" fill="#2a2a2a" stroke="#2a2a2a" stroke-width="0.25" font-weight="normal" font-style="normal" letter-spacing="0.25" transform="translate(50.80,127.57) scale(1.0526,1)">Egr1</text>
<line x1="53.60" y1="125.17" x2="57.60" y2="125.17" stroke="#222" stroke-width="1.0"/>
<text font-size="7.12" text-anchor="end" fill="#2a2a2a" stroke="#2a2a2a" stroke-width="0.25" font-weight="normal" font-style="normal" letter-spacing="0.25" transform="translate(50.80,134.35) scale(1.0526,1)">Neo1</text>
<line x1="53.60" y1="131.95" x2="57.60" y2="131.95" stroke="#222" stroke-width="1.0"/>
<text font-size="7.12" text-anchor="end" fill="#2a2a2a" stroke="#2a2a2a" stroke-width="0.25" font-weight="normal" font-style="normal" letter-spacing="0.25" transform="translate(50.80,141.13) scale(1.0526,1)">Igf2bp2</text>
<line x1="53.60" y1="138.73" x2="57.60" y2="138.73" stroke="#222" stroke-width="1.0"/>
<text font-size="7.12" text-anchor="end" fill="#2a2a2a" stroke="#2a2a2a" stroke-width="0.25" font-weight="normal" font-style="normal" letter-spacing="0.25" transform="translate(50.80,147.91) scale(1.0526,1)">Ptges</text>
<line x1="53.60" y1="145.51" x2="57.60" y2="145.51" stroke="#222" stroke-width="1.0"/>
<text font-size="7.12" text-anchor="end" fill="#2a2a2a" stroke="#2a2a2a" stroke-width="0.25" font-weight="normal" font-style="normal" letter-spacing="0.25" transform="translate(50.80,154.69) scale(1.0526,1)">Mllt3</text>
<line x1="53.60" y1="152.29" x2="57.60" y2="152.29" stroke="#222" stroke-width="1.0"/>
<text font-size="7.12" text-anchor="end" fill="#2a2a2a" stroke="#2a2a2a" stroke-width="0.25" font-weight="normal" font-style="normal" letter-spacing="0.25" transform="translate(50.80,161.47) scale(1.0526,1)">Msi2</text>
<line x1="53.60" y1="159.07" x2="57.60" y2="159.07" stroke="#222" stroke-width="1.0"/>
<text font-size="7.12" text-anchor="end" fill="#2a2a2a" stroke="#2a2a2a" stroke-width="0.25" font-weight="normal" font-style="normal" letter-spacing="0.25" transform="translate(50.80,168.25) scale(1.0526,1)">Gata2</text>
<line x1="53.60" y1="165.85" x2="57.60" y2="165.85" stroke="#222" stroke-width="1.0"/>
<text font-size="7.12" text-anchor="end" fill="#2a2a2a" stroke="#2a2a2a" stroke-width="0.25" font-weight="normal" font-style="normal" letter-spacing="0.25" transform="translate(50.80,175.03) scale(1.0526,1)">Hoxa9</text>
<line x1="53.60" y1="172.63" x2="57.60" y2="172.63" stroke="#222" stroke-width="1.0"/>
<text font-size="7.12" text-anchor="end" fill="#2a2a2a" stroke="#2a2a2a" stroke-width="0.25" font-weight="normal" font-style="normal" letter-spacing="0.25" transform="translate(50.80,181.81) scale(1.0526,1)">Hoxa10</text>
<line x1="53.60" y1="179.41" x2="57.60" y2="179.41" stroke="#222" stroke-width="1.0"/>
<text font-size="7.12" text-anchor="end" fill="#2a2a2a" stroke="#2a2a2a" stroke-width="0.25" font-weight="normal" font-style="normal" letter-spacing="0.25" transform="translate(50.80,188.59) scale(1.0526,1)">Hoxb5</text>
<line x1="53.60" y1="186.19" x2="57.60" y2="186.19" stroke="#222" stroke-width="1.0"/>
<text font-size="7.12" text-anchor="end" fill="#2a2a2a" stroke="#2a2a2a" stroke-width="0.25" font-weight="normal" font-style="normal" letter-spacing="0.25" transform="translate(50.80,195.37) scale(1.0526,1)">Meis1</text>
<line x1="53.60" y1="192.97" x2="57.60" y2="192.97" stroke="#222" stroke-width="1.0"/>
<text font-size="7.12" text-anchor="end" fill="#2a2a2a" stroke="#2a2a2a" stroke-width="0.25" font-weight="normal" font-style="normal" letter-spacing="0.25" transform="translate(50.80,202.15) scale(1.0526,1)">Itga2b</text>
<line x1="53.60" y1="199.75" x2="57.60" y2="199.75" stroke="#222" stroke-width="1.0"/>
<text font-size="7.12" text-anchor="end" fill="#2a2a2a" stroke="#2a2a2a" stroke-width="0.25" font-weight="normal" font-style="normal" letter-spacing="0.25" transform="translate(50.80,208.93) scale(1.0526,1)">Hlf</text>
<line x1="53.60" y1="206.53" x2="57.60" y2="206.53" stroke="#222" stroke-width="1.0"/>
<text font-size="7.12" text-anchor="end" fill="#2a2a2a" stroke="#2a2a2a" stroke-width="0.25" font-weight="normal" font-style="normal" letter-spacing="0.25" transform="translate(50.80,215.71) scale(1.0526,1)">Ifitm1</text>
<line x1="53.60" y1="213.31" x2="57.60" y2="213.31" stroke="#222" stroke-width="1.0"/>
<text font-size="7.12" text-anchor="end" fill="#2a2a2a" stroke="#2a2a2a" stroke-width="0.25" font-weight="normal" font-style="normal" letter-spacing="0.25" transform="translate(50.80,222.49) scale(1.0526,1)">Gstm1</text>
<line x1="53.60" y1="220.09" x2="57.60" y2="220.09" stroke="#222" stroke-width="1.0"/>
<text font-size="7.12" text-anchor="end" fill="#2a2a2a" stroke="#2a2a2a" stroke-width="0.25" font-weight="normal" font-style="normal" letter-spacing="0.25" transform="translate(50.80,229.27) scale(1.0526,1)">Pbx1</text>
<line x1="53.60" y1="226.87" x2="57.60" y2="226.87" stroke="#222" stroke-width="1.0"/>
<text font-size="7.12" text-anchor="end" fill="#2a2a2a" stroke="#2a2a2a" stroke-width="0.25" font-weight="normal" font-style="normal" letter-spacing="0.25" transform="translate(50.80,236.05) scale(1.0526,1)">Mn1</text>
<line x1="53.60" y1="233.65" x2="57.60" y2="233.65" stroke="#222" stroke-width="1.0"/>
<text font-size="7.12" text-anchor="end" fill="#2a2a2a" stroke="#2a2a2a" stroke-width="0.25" font-weight="normal" font-style="normal" letter-spacing="0.25" transform="translate(50.80,242.83) scale(1.0526,1)">Lmo4</text>
<line x1="53.60" y1="240.43" x2="57.60" y2="240.43" stroke="#222" stroke-width="1.0"/>
<text font-size="7.12" text-anchor="end" fill="#2a2a2a" stroke="#2a2a2a" stroke-width="0.25" font-weight="normal" font-style="normal" letter-spacing="0.25" transform="translate(50.80,249.61) scale(1.0526,1)">Cebpa</text>
<line x1="53.60" y1="247.21" x2="57.60" y2="247.21" stroke="#222" stroke-width="1.0"/>
<text font-size="7.12" text-anchor="end" fill="#2a2a2a" stroke="#2a2a2a" stroke-width="0.25" font-weight="normal" font-style="normal" letter-spacing="0.25" transform="translate(50.80,256.39) scale(1.0526,1)">Cebpb</text>
<line x1="53.60" y1="253.99" x2="57.60" y2="253.99" stroke="#222" stroke-width="1.0"/>
<text font-size="7.12" text-anchor="end" fill="#2a2a2a" stroke="#2a2a2a" stroke-width="0.25" font-weight="normal" font-style="normal" letter-spacing="0.25" transform="translate(50.80,263.17) scale(1.0526,1)">Cebpe</text>
<line x1="53.60" y1="260.77" x2="57.60" y2="260.77" stroke="#222" stroke-width="1.0"/>
<text font-size="7.12" text-anchor="end" fill="#2a2a2a" stroke="#2a2a2a" stroke-width="0.25" font-weight="normal" font-style="normal" letter-spacing="0.25" transform="translate(50.80,269.95) scale(1.0526,1)">Spi1</text>
<line x1="53.60" y1="267.55" x2="57.60" y2="267.55" stroke="#222" stroke-width="1.0"/>
<text font-size="7.12" text-anchor="end" fill="#2a2a2a" stroke="#2a2a2a" stroke-width="0.25" font-weight="normal" font-style="normal" letter-spacing="0.25" transform="translate(50.80,276.73) scale(1.0526,1)">Csf1r</text>
<line x1="53.60" y1="274.33" x2="57.60" y2="274.33" stroke="#222" stroke-width="1.0"/>
<text font-size="7.12" text-anchor="end" fill="#2a2a2a" stroke="#2a2a2a" stroke-width="0.25" font-weight="normal" font-style="normal" letter-spacing="0.25" transform="translate(50.80,283.51) scale(1.0526,1)">Csf2ra</text>
<line x1="53.60" y1="281.11" x2="57.60" y2="281.11" stroke="#222" stroke-width="1.0"/>
<text font-size="7.12" text-anchor="end" fill="#2a2a2a" stroke="#2a2a2a" stroke-width="0.25" font-weight="normal" font-style="normal" letter-spacing="0.25" transform="translate(50.80,290.29) scale(1.0526,1)">Csf2rb</text>
<line x1="53.60" y1="287.89" x2="57.60" y2="287.89" stroke="#222" stroke-width="1.0"/>
<text font-size="7.12" text-anchor="end" fill="#2a2a2a" stroke="#2a2a2a" stroke-width="0.25" font-weight="normal" font-style="normal" letter-spacing="0.25" transform="translate(50.80,297.07) scale(1.0526,1)">Csf3r</text>
<line x1="53.60" y1="294.67" x2="57.60" y2="294.67" stroke="#222" stroke-width="1.0"/>
<text font-size="7.12" text-anchor="end" fill="#2a2a2a" stroke="#2a2a2a" stroke-width="0.25" font-weight="normal" font-style="normal" letter-spacing="0.25" transform="translate(50.80,303.85) scale(1.0526,1)">Fcer1g</text>
<line x1="53.60" y1="301.45" x2="57.60" y2="301.45" stroke="#222" stroke-width="1.0"/>
<text font-size="7.12" text-anchor="end" fill="#2a2a2a" stroke="#2a2a2a" stroke-width="0.25" font-weight="normal" font-style="normal" letter-spacing="0.25" transform="translate(50.80,310.63) scale(1.0526,1)">Cd52</text>
<line x1="53.60" y1="308.23" x2="57.60" y2="308.23" stroke="#222" stroke-width="1.0"/>
<text font-size="7.12" text-anchor="end" fill="#2a2a2a" stroke="#2a2a2a" stroke-width="0.25" font-weight="normal" font-style="normal" letter-spacing="0.25" transform="translate(50.80,317.41) scale(1.0526,1)">F7</text>
<line x1="53.60" y1="315.01" x2="57.60" y2="315.01" stroke="#222" stroke-width="1.0"/>
<text font-size="7.12" text-anchor="end" fill="#2a2a2a" stroke="#2a2a2a" stroke-width="0.25" font-weight="normal" font-style="normal" letter-spacing="0.25" transform="translate(50.80,324.19) scale(1.0526,1)">F13a1</text>
<line x1="53.60" y1="321.79" x2="57.60" y2="321.79" stroke="#222" stroke-width="1.0"/>
<text font-size="7.12" text-anchor="end" fill="#2a2a2a" stroke="#2a2a2a" stroke-width="0.25" font-weight="normal" font-style="normal" letter-spacing="0.25" transform="translate(50.80,330.97) scale(1.0526,1)">Ly86</text>
<line x1="53.60" y1="328.57" x2="57.60" y2="328.57" stroke="#222" stroke-width="1.0"/>
<text font-size="7.12" text-anchor="end" fill="#2a2a2a" stroke="#2a2a2a" stroke-width="0.25" font-weight="normal" font-style="normal" letter-spacing="0.25" transform="translate(50.80,337.75) scale(1.0526,1)">Mpo</text>
<line x1="53.60" y1="335.35" x2="57.60" y2="335.35" stroke="#222" stroke-width="1.0"/>
<text font-size="7.12" text-anchor="end" fill="#2a2a2a" stroke="#2a2a2a" stroke-width="0.25" font-weight="normal" font-style="normal" letter-spacing="0.25" transform="translate(50.80,344.53) scale(1.0526,1)">Elane</text>
<line x1="53.60" y1="342.13" x2="57.60" y2="342.13" stroke="#222" stroke-width="1.0"/>
<text font-size="7.12" text-anchor="end" fill="#2a2a2a" stroke="#2a2a2a" stroke-width="0.25" font-weight="normal" font-style="normal" letter-spacing="0.25" transform="translate(50.80,351.31) scale(1.0526,1)">Fcnb</text>
<line x1="53.60" y1="348.91" x2="57.60" y2="348.91" stroke="#222" stroke-width="1.0"/>
<text font-size="7.12" text-anchor="end" fill="#2a2a2a" stroke="#2a2a2a" stroke-width="0.25" font-weight="normal" font-style="normal" letter-spacing="0.25" transform="translate(50.80,358.09) scale(1.0526,1)">Ltf</text>
<line x1="53.60" y1="355.69" x2="57.60" y2="355.69" stroke="#222" stroke-width="1.0"/>
<text font-size="7.12" text-anchor="end" fill="#2a2a2a" stroke="#2a2a2a" stroke-width="0.25" font-weight="normal" font-style="normal" letter-spacing="0.25" transform="translate(50.80,364.87) scale(1.0526,1)">S100a8</text>
<line x1="53.60" y1="362.47" x2="57.60" y2="362.47" stroke="#222" stroke-width="1.0"/>
<text font-size="7.12" text-anchor="end" fill="#2a2a2a" stroke="#2a2a2a" stroke-width="0.25" font-weight="normal" font-style="normal" letter-spacing="0.25" transform="translate(50.80,371.65) scale(1.0526,1)">S100a9</text>
<line x1="53.60" y1="369.25" x2="57.60" y2="369.25" stroke="#222" stroke-width="1.0"/>
<text font-size="7.12" text-anchor="end" fill="#2a2a2a" stroke="#2a2a2a" stroke-width="0.25" font-weight="normal" font-style="normal" letter-spacing="0.25" transform="translate(50.80,378.43) scale(1.0526,1)">CD74</text>
<line x1="53.60" y1="376.03" x2="57.60" y2="376.03" stroke="#222" stroke-width="1.0"/>
<text font-size="7.12" text-anchor="end" fill="#2a2a2a" stroke="#2a2a2a" stroke-width="0.25" font-weight="normal" font-style="normal" letter-spacing="0.25" transform="translate(50.80,385.21) scale(1.0526,1)">Satb1</text>
<line x1="53.60" y1="382.81" x2="57.60" y2="382.81" stroke="#222" stroke-width="1.0"/>
<text font-size="7.12" text-anchor="end" fill="#2a2a2a" stroke="#2a2a2a" stroke-width="0.25" font-weight="normal" font-style="normal" letter-spacing="0.25" transform="translate(50.80,391.99) scale(1.0526,1)">Notch1</text>
<line x1="53.60" y1="389.59" x2="57.60" y2="389.59" stroke="#222" stroke-width="1.0"/>
<text font-size="7.12" text-anchor="end" fill="#2a2a2a" stroke="#2a2a2a" stroke-width="0.25" font-weight="normal" font-style="normal" letter-spacing="0.25" transform="translate(50.80,398.77) scale(1.0526,1)">Flt3</text>
<line x1="53.60" y1="396.37" x2="57.60" y2="396.37" stroke="#222" stroke-width="1.0"/>
<text font-size="7.12" text-anchor="end" fill="#2a2a2a" stroke="#2a2a2a" stroke-width="0.25" font-weight="normal" font-style="normal" letter-spacing="0.25" transform="translate(50.80,405.55) scale(1.0526,1)">Dntt</text>
<line x1="53.60" y1="403.15" x2="57.60" y2="403.15" stroke="#222" stroke-width="1.0"/>
<text font-size="7.12" text-anchor="end" fill="#2a2a2a" stroke="#2a2a2a" stroke-width="0.25" font-weight="normal" font-style="normal" letter-spacing="0.25" transform="translate(50.80,412.33) scale(1.0526,1)">Id4</text>
<line x1="53.60" y1="409.93" x2="57.60" y2="409.93" stroke="#222" stroke-width="1.0"/>
<text font-size="7.12" text-anchor="end" fill="#2a2a2a" stroke="#2a2a2a" stroke-width="0.25" font-weight="normal" font-style="normal" letter-spacing="0.25" transform="translate(50.80,419.11) scale(1.0526,1)">Cd28</text>
<line x1="53.60" y1="416.71" x2="57.60" y2="416.71" stroke="#222" stroke-width="1.0"/>
<text font-size="7.12" text-anchor="end" fill="#2a2a2a" stroke="#2a2a2a" stroke-width="0.25" font-weight="normal" font-style="normal" letter-spacing="0.25" transform="translate(50.80,425.89) scale(1.0526,1)">Pf4</text>
<line x1="53.60" y1="423.49" x2="57.60" y2="423.49" stroke="#222" stroke-width="1.0"/>
<text font-size="7.12" text-anchor="end" fill="#2a2a2a" stroke="#2a2a2a" stroke-width="0.25" font-weight="normal" font-style="normal" letter-spacing="0.25" transform="translate(50.80,432.67) scale(1.0526,1)">Gata1</text>
<line x1="53.60" y1="430.27" x2="57.60" y2="430.27" stroke="#222" stroke-width="1.0"/>
<text font-size="7.12" text-anchor="end" fill="#2a2a2a" stroke="#2a2a2a" stroke-width="0.25" font-weight="normal" font-style="normal" letter-spacing="0.25" transform="translate(50.80,439.45) scale(1.0526,1)">Epor</text>
<line x1="53.60" y1="437.05" x2="57.60" y2="437.05" stroke="#222" stroke-width="1.0"/>
<text font-size="7.12" text-anchor="end" fill="#2a2a2a" stroke="#2a2a2a" stroke-width="0.25" font-weight="normal" font-style="normal" letter-spacing="0.25" transform="translate(50.80,446.23) scale(1.0526,1)">Car1</text>
<line x1="53.60" y1="443.83" x2="57.60" y2="443.83" stroke="#222" stroke-width="1.0"/>
<rect x="57.5" y="114.5" width="114.00" height="333.02" fill="none" stroke="#2a2a2a" stroke-width="1"/>
<line x1="61.65" y1="447.22" x2="61.65" y2="450.22" stroke="#2a2a2a" stroke-width="0.8"/>
<line x1="69.75" y1="447.22" x2="69.75" y2="450.22" stroke="#2a2a2a" stroke-width="0.8"/>
<line x1="77.85" y1="447.22" x2="77.85" y2="450.22" stroke="#2a2a2a" stroke-width="0.8"/>
<line x1="85.95" y1="447.22" x2="85.95" y2="450.22" stroke="#2a2a2a" stroke-width="0.8"/>
<line x1="94.05" y1="447.22" x2="94.05" y2="450.22" stroke="#2a2a2a" stroke-width="0.8"/>
<line x1="102.15" y1="447.22" x2="102.15" y2="450.22" stroke="#2a2a2a" stroke-width="0.8"/>
<line x1="110.25" y1="447.22" x2="110.25" y2="450.22" stroke="#2a2a2a" stroke-width="0.8"/>
<line x1="118.35" y1="447.22" x2="118.35" y2="450.22" stroke="#2a2a2a" stroke-width="0.8"/>
<line x1="126.45" y1="447.22" x2="126.45" y2="450.22" stroke="#2a2a2a" stroke-width="0.8"/>
<line x1="134.55" y1="447.22" x2="134.55" y2="450.22" stroke="#2a2a2a" stroke-width="0.8"/>
<line x1="142.65" y1="447.22" x2="142.65" y2="450.22" stroke="#2a2a2a" stroke-width="0.8"/>
<line x1="150.75" y1="447.22" x2="150.75" y2="450.22" stroke="#2a2a2a" stroke-width="0.8"/>
<line x1="158.85" y1="447.22" x2="158.85" y2="450.22" stroke="#2a2a2a" stroke-width="0.8"/>
<line x1="166.95" y1="447.22" x2="166.95" y2="450.22" stroke="#2a2a2a" stroke-width="0.8"/>
<defs><linearGradient id="cbC" x1="0" y1="0" x2="0" y2="1"><stop offset="0" stop-color="#2c6e9e"/><stop offset="0.18" stop-color="#1e9ab4"/><stop offset="0.35" stop-color="#8ccca2"/><stop offset="0.5" stop-color="#f8f0a8"/><stop offset="0.68" stop-color="#f7a85a"/><stop offset="0.85" stop-color="#e6403c"/><stop offset="1" stop-color="#b81440"/></linearGradient></defs>
<rect x="179.20" y="292.00" width="5.00" height="23.80" fill="url(#cbC)" />
<text font-size="8.32" text-anchor="start" fill="#2a2a2a" stroke="#2a2a2a" stroke-width="0.22" font-weight="normal" font-style="normal"  transform="translate(177.30,288.00) scale(0.9259,1)">Z-score</text>
<text font-size="7.99" text-anchor="start" fill="#2a2a2a" stroke="#2a2a2a" stroke-width="0.22" font-weight="normal" font-style="normal"  transform="translate(187.50,297.80) scale(0.9259,1)">−2</text>
<text font-size="7.99" text-anchor="start" fill="#2a2a2a" stroke="#2a2a2a" stroke-width="0.22" font-weight="normal" font-style="normal"  transform="translate(188.00,306.40) scale(0.9259,1)">0</text>
<text font-size="7.99" text-anchor="start" fill="#2a2a2a" stroke="#2a2a2a" stroke-width="0.22" font-weight="normal" font-style="normal"  transform="translate(188.00,315.00) scale(0.9259,1)">2</text>
<rect x="57.60" y="460.20" width="113.40" height="21.80" fill="#e4d8ec" />
<rect x="58.20" y="471.75" width="6.90" height="10.45" fill="#d553a8" />
<rect x="58.20" y="462.38" width="6.90" height="9.57" fill="#2fb23a" />
<rect x="58.20" y="460.20" width="6.90" height="2.38" fill="#3a1c8e" />
<rect x="66.30" y="460.20" width="6.90" height="22.00" fill="#3a1c8e" />
<rect x="74.40" y="460.20" width="6.90" height="22.00" fill="#e8340e" />
<rect x="82.50" y="477.86" width="6.90" height="4.34" fill="#d553a8" />
<rect x="82.50" y="475.24" width="6.90" height="2.82" fill="#2fb23a" />
<rect x="82.50" y="473.72" width="6.90" height="1.73" fill="#e8340e" />
<rect x="82.50" y="460.20" width="6.90" height="13.72" fill="#3a1c8e" />
<rect x="90.60" y="474.59" width="6.90" height="7.61" fill="#d553a8" />
<rect x="90.60" y="470.01" width="6.90" height="4.78" fill="#2fb23a" />
<rect x="90.60" y="465.00" width="6.90" height="5.21" fill="#e8340e" />
<rect x="90.60" y="460.20" width="6.90" height="5.00" fill="#3a1c8e" />
<rect x="98.70" y="479.82" width="6.90" height="2.38" fill="#d553a8" />
<rect x="98.70" y="477.20" width="6.90" height="2.82" fill="#2fb23a" />
<rect x="98.70" y="463.91" width="6.90" height="13.50" fill="#e8340e" />
<rect x="98.70" y="460.20" width="6.90" height="3.91" fill="#3a1c8e" />
<rect x="106.80" y="474.15" width="6.90" height="8.05" fill="#d553a8" />
<rect x="106.80" y="465.43" width="6.90" height="8.92" fill="#2fb23a" />
<rect x="106.80" y="460.20" width="6.90" height="5.43" fill="#3a1c8e" />
<rect x="114.90" y="460.20" width="6.90" height="22.00" fill="#e8340e" />
<rect x="123.00" y="478.51" width="6.90" height="3.69" fill="#d553a8" />
<rect x="123.00" y="471.75" width="6.90" height="6.96" fill="#2fb23a" />
<rect x="123.00" y="469.57" width="6.90" height="2.38" fill="#e8340e" />
<rect x="123.00" y="460.20" width="6.90" height="9.57" fill="#3a1c8e" />
<rect x="131.10" y="478.08" width="6.90" height="4.12" fill="#d553a8" />
<rect x="131.10" y="471.75" width="6.90" height="6.52" fill="#2fb23a" />
<rect x="131.10" y="465.65" width="6.90" height="6.30" fill="#e8340e" />
<rect x="131.10" y="460.20" width="6.90" height="5.65" fill="#3a1c8e" />
<rect x="139.20" y="479.82" width="6.90" height="2.38" fill="#d553a8" />
<rect x="139.20" y="476.33" width="6.90" height="3.69" fill="#2fb23a" />
<rect x="139.20" y="467.39" width="6.90" height="9.14" fill="#e8340e" />
<rect x="139.20" y="460.20" width="6.90" height="7.39" fill="#3a1c8e" />
<rect x="147.30" y="480.26" width="6.90" height="1.94" fill="#d553a8" />
<rect x="147.30" y="475.68" width="6.90" height="4.78" fill="#2fb23a" />
<rect x="147.30" y="466.74" width="6.90" height="9.14" fill="#e8340e" />
<rect x="147.30" y="460.20" width="6.90" height="6.74" fill="#3a1c8e" />
<rect x="155.40" y="478.51" width="6.90" height="3.69" fill="#9a8a6a" />
<rect x="155.40" y="471.75" width="6.90" height="6.96" fill="#e8340e" />
<rect x="155.40" y="460.20" width="6.90" height="11.75" fill="#3a1c8e" />
<rect x="163.50" y="478.51" width="6.90" height="3.69" fill="#9a8a6a" />
<rect x="163.50" y="470.45" width="6.90" height="8.27" fill="#e8340e" />
<rect x="163.50" y="460.20" width="6.90" height="10.45" fill="#3a1c8e" />
<rect x="57.60" y="459.40" width="113.40" height="23.40" fill="none" stroke="#444" stroke-width="0.8"/>
<line x1="54.40" y1="460.20" x2="57.60" y2="460.20" stroke="#2a2a2a" stroke-width="0.9"/>
<text font-size="8.42" text-anchor="end" fill="#2a2a2a" stroke="#2a2a2a" stroke-width="0.22" font-weight="normal" font-style="normal"  transform="translate(51.00,463.00) scale(0.9259,1)">100</text>
<line x1="54.40" y1="471.10" x2="57.60" y2="471.10" stroke="#2a2a2a" stroke-width="0.9"/>
<text font-size="8.42" text-anchor="end" fill="#2a2a2a" stroke="#2a2a2a" stroke-width="0.22" font-weight="normal" font-style="normal"  transform="translate(51.00,473.90) scale(0.9259,1)">50</text>
<line x1="54.40" y1="482.00" x2="57.60" y2="482.00" stroke="#2a2a2a" stroke-width="0.9"/>
<text font-size="8.42" text-anchor="end" fill="#2a2a2a" stroke="#2a2a2a" stroke-width="0.22" font-weight="normal" font-style="normal"  transform="translate(51.00,484.80) scale(0.9259,1)">0</text>
<line x1="61.65" y1="482.80" x2="61.65" y2="485.50" stroke="#2a2a2a" stroke-width="0.8"/>
<text font-size="8.64" text-anchor="end" fill="#333" stroke="#333" stroke-width="0.22" font-weight="normal" font-style="normal" transform="translate(64.15,488.8) rotate(-90) translate(0.00,0.00) scale(0.9259,1)">C1</text>
<line x1="69.75" y1="482.80" x2="69.75" y2="485.50" stroke="#2a2a2a" stroke-width="0.8"/>
<text font-size="8.64" text-anchor="end" fill="#333" stroke="#333" stroke-width="0.22" font-weight="normal" font-style="normal" transform="translate(72.25,488.8) rotate(-90) translate(0.00,0.00) scale(0.9259,1)">C2</text>
<line x1="77.85" y1="482.80" x2="77.85" y2="485.50" stroke="#2a2a2a" stroke-width="0.8"/>
<text font-size="8.64" text-anchor="end" fill="#333" stroke="#333" stroke-width="0.22" font-weight="normal" font-style="normal" transform="translate(80.35,488.8) rotate(-90) translate(0.00,0.00) scale(0.9259,1)">C3</text>
<line x1="85.95" y1="482.80" x2="85.95" y2="485.50" stroke="#2a2a2a" stroke-width="0.8"/>
<text font-size="8.64" text-anchor="end" fill="#333" stroke="#333" stroke-width="0.22" font-weight="normal" font-style="normal" transform="translate(88.45,488.8) rotate(-90) translate(0.00,0.00) scale(0.9259,1)">C4</text>
<line x1="94.05" y1="482.80" x2="94.05" y2="485.50" stroke="#2a2a2a" stroke-width="0.8"/>
<text font-size="8.64" text-anchor="end" fill="#333" stroke="#333" stroke-width="0.22" font-weight="normal" font-style="normal" transform="translate(96.55,488.8) rotate(-90) translate(0.00,0.00) scale(0.9259,1)">C5</text>
<line x1="102.15" y1="482.80" x2="102.15" y2="485.50" stroke="#2a2a2a" stroke-width="0.8"/>
<text font-size="8.64" text-anchor="end" fill="#333" stroke="#333" stroke-width="0.22" font-weight="normal" font-style="normal" transform="translate(104.65,488.8) rotate(-90) translate(0.00,0.00) scale(0.9259,1)">C6</text>
<line x1="110.25" y1="482.80" x2="110.25" y2="485.50" stroke="#2a2a2a" stroke-width="0.8"/>
<text font-size="8.64" text-anchor="end" fill="#333" stroke="#333" stroke-width="0.22" font-weight="normal" font-style="normal" transform="translate(112.75,488.8) rotate(-90) translate(0.00,0.00) scale(0.9259,1)">C7</text>
<line x1="118.35" y1="482.80" x2="118.35" y2="485.50" stroke="#2a2a2a" stroke-width="0.8"/>
<text font-size="8.64" text-anchor="end" fill="#333" stroke="#333" stroke-width="0.22" font-weight="normal" font-style="normal" transform="translate(120.85,488.8) rotate(-90) translate(0.00,0.00) scale(0.9259,1)">C8</text>
<line x1="126.45" y1="482.80" x2="126.45" y2="485.50" stroke="#2a2a2a" stroke-width="0.8"/>
<text font-size="8.64" text-anchor="end" fill="#333" stroke="#333" stroke-width="0.22" font-weight="normal" font-style="normal" transform="translate(128.95,488.8) rotate(-90) translate(0.00,0.00) scale(0.9259,1)">C9</text>
<line x1="134.55" y1="482.80" x2="134.55" y2="485.50" stroke="#2a2a2a" stroke-width="0.8"/>
<text font-size="8.64" text-anchor="end" fill="#333" stroke="#333" stroke-width="0.22" font-weight="normal" font-style="normal" transform="translate(137.05,488.8) rotate(-90) translate(0.00,0.00) scale(0.9259,1)">C10</text>
<line x1="142.65" y1="482.80" x2="142.65" y2="485.50" stroke="#2a2a2a" stroke-width="0.8"/>
<text font-size="8.64" text-anchor="end" fill="#333" stroke="#333" stroke-width="0.22" font-weight="normal" font-style="normal" transform="translate(145.15,488.8) rotate(-90) translate(0.00,0.00) scale(0.9259,1)">C11</text>
<line x1="150.75" y1="482.80" x2="150.75" y2="485.50" stroke="#2a2a2a" stroke-width="0.8"/>
<text font-size="8.64" text-anchor="end" fill="#333" stroke="#333" stroke-width="0.22" font-weight="normal" font-style="normal" transform="translate(153.25,488.8) rotate(-90) translate(0.00,0.00) scale(0.9259,1)">C12</text>
<line x1="158.85" y1="482.80" x2="158.85" y2="485.50" stroke="#2a2a2a" stroke-width="0.8"/>
<text font-size="8.64" text-anchor="end" fill="#333" stroke="#333" stroke-width="0.22" font-weight="normal" font-style="normal" transform="translate(161.35,488.8) rotate(-90) translate(0.00,0.00) scale(0.9259,1)">C13</text>
<line x1="166.95" y1="482.80" x2="166.95" y2="485.50" stroke="#2a2a2a" stroke-width="0.8"/>
<text font-size="8.64" text-anchor="end" fill="#333" stroke="#333" stroke-width="0.22" font-weight="normal" font-style="normal" transform="translate(169.45,488.8) rotate(-90) translate(0.00,0.00) scale(0.9259,1)">C14</text>
<text font-size="8.32" text-anchor="middle" fill="#2a2a2a" stroke="#2a2a2a" stroke-width="0.22" font-weight="normal" font-style="normal" transform="translate(32.6,471.6) rotate(-90) translate(0.00,0.00) scale(0.9259,1)">Composition</text>
<text font-size="11.00" text-anchor="start" fill="#111" font-weight="bold" font-style="normal"  transform="translate(205.30,159.60) scale(1.0000,1)">D</text>
<line x1="236.20" y1="165.50" x2="236.20" y2="262.60" stroke="#2a2a2a" stroke-width="1.1"/>
<line x1="235.70" y1="262.20" x2="300.80" y2="262.20" stroke="#2a2a2a" stroke-width="1.1"/>
<line x1="233.40" y1="170.00" x2="236.20" y2="170.00" stroke="#2a2a2a" stroke-width="1"/>
<text font-size="8.21" text-anchor="end" fill="#2a2a2a" stroke="#2a2a2a" stroke-width="0.22" font-weight="normal" font-style="normal"  transform="translate(230.20,172.70) scale(0.9259,1)">100</text>
<line x1="233.40" y1="192.90" x2="236.20" y2="192.90" stroke="#2a2a2a" stroke-width="1"/>
<text font-size="8.21" text-anchor="end" fill="#2a2a2a" stroke="#2a2a2a" stroke-width="0.22" font-weight="normal" font-style="normal"  transform="translate(230.20,195.60) scale(0.9259,1)">75</text>
<line x1="233.40" y1="215.80" x2="236.20" y2="215.80" stroke="#2a2a2a" stroke-width="1"/>
<text font-size="8.21" text-anchor="end" fill="#2a2a2a" stroke="#2a2a2a" stroke-width="0.22" font-weight="normal" font-style="normal"  transform="translate(230.20,218.50) scale(0.9259,1)">50</text>
<line x1="233.40" y1="238.70" x2="236.20" y2="238.70" stroke="#2a2a2a" stroke-width="1"/>
<text font-size="8.21" text-anchor="end" fill="#2a2a2a" stroke="#2a2a2a" stroke-width="0.22" font-weight="normal" font-style="normal"  transform="translate(230.20,241.40) scale(0.9259,1)">25</text>
<line x1="233.40" y1="261.60" x2="236.20" y2="261.60" stroke="#2a2a2a" stroke-width="1"/>
<text font-size="8.21" text-anchor="end" fill="#2a2a2a" stroke="#2a2a2a" stroke-width="0.22" font-weight="normal" font-style="normal"  transform="translate(230.20,264.30) scale(0.9259,1)">0</text>
<rect x="238.60" y="260.50" width="13.50" height="1.35" fill="#8a86c4" />
<rect x="238.60" y="257.94" width="13.50" height="2.81" fill="#16a23a" />
<rect x="238.60" y="246.03" width="13.50" height="12.16" fill="#0b8530" />
<rect x="238.60" y="241.45" width="13.50" height="4.83" fill="#16a23a" />
<rect x="238.60" y="236.87" width="13.50" height="4.83" fill="#1aa640" />
<rect x="238.60" y="230.91" width="13.50" height="6.20" fill="#e84a4a" />
<rect x="238.60" y="218.46" width="13.50" height="12.71" fill="#f38c74" />
<rect x="238.60" y="217.17" width="13.50" height="1.53" fill="#6a2418" />
<rect x="238.60" y="184.66" width="13.50" height="32.77" fill="#c6c6c6" />
<rect x="238.60" y="170.00" width="13.50" height="14.91" fill="#686868" />
<line x1="245.35" y1="262.20" x2="245.35" y2="265.00" stroke="#2a2a2a" stroke-width="1"/>
<rect x="254.20" y="252.44" width="13.50" height="9.41" fill="#0b8530" />
<rect x="254.20" y="241.91" width="13.50" height="10.78" fill="#16a23a" />
<rect x="254.20" y="240.07" width="13.50" height="2.08" fill="#22a848" />
<rect x="254.20" y="196.29" width="13.50" height="44.03" fill="#f28204" />
<rect x="254.20" y="189.14" width="13.50" height="7.39" fill="#e9561e" />
<rect x="254.20" y="177.97" width="13.50" height="11.43" fill="#f38c74" />
<rect x="254.20" y="176.14" width="13.50" height="2.08" fill="#6a2418" />
<rect x="254.20" y="172.11" width="13.50" height="4.28" fill="#3a3a3a" />
<rect x="254.20" y="170.00" width="13.50" height="2.36" fill="#555" />
<line x1="260.95" y1="262.20" x2="260.95" y2="265.00" stroke="#2a2a2a" stroke-width="1"/>
<rect x="270.00" y="257.94" width="13.50" height="3.91" fill="#0b8530" />
<rect x="270.00" y="250.15" width="13.50" height="8.04" fill="#16a23a" />
<rect x="270.00" y="240.99" width="13.50" height="9.41" fill="#e84a4a" />
<rect x="270.00" y="230.18" width="13.50" height="11.06" fill="#f38c74" />
<rect x="270.00" y="228.44" width="13.50" height="1.99" fill="#b08070" />
<rect x="270.00" y="170.00" width="13.50" height="58.69" fill="#686868" />
<line x1="276.75" y1="262.20" x2="276.75" y2="265.00" stroke="#2a2a2a" stroke-width="1"/>
<rect x="285.30" y="260.23" width="13.50" height="1.62" fill="#0b8530" />
<rect x="285.30" y="255.37" width="13.50" height="5.10" fill="#16a23a" />
<rect x="285.30" y="247.95" width="13.50" height="7.67" fill="#e84a4a" />
<rect x="285.30" y="230.36" width="13.50" height="17.84" fill="#f38c74" />
<rect x="285.30" y="170.00" width="13.50" height="60.61" fill="#686868" />
<line x1="292.05" y1="262.20" x2="292.05" y2="265.00" stroke="#2a2a2a" stroke-width="1"/>
<text font-size="9.29" text-anchor="end" fill="#5272ac" stroke="#5272ac" stroke-width="0.08" font-weight="normal" font-style="normal" transform="translate(247.5,269.8) rotate(-47) translate(0.00,0.00) scale(0.9259,1)"><tspan font-style="italic">Control</tspan></text>
<text font-size="9.29" text-anchor="end" fill="#c83c54" stroke="#c83c54" stroke-width="0.08" font-weight="normal" font-style="normal" transform="translate(263.1,269.8) rotate(-47) translate(0.00,0.00) scale(0.9259,1)"><tspan font-style="italic">DKO</tspan><tspan font-size="5.6" dy="-3">CreERT2</tspan></text>
<text font-size="9.29" text-anchor="end" fill="#5cad5c" stroke="#5cad5c" stroke-width="0.08" font-weight="normal" font-style="normal" transform="translate(278.7,269.8) rotate(-47) translate(0.00,0.00) scale(0.9259,1)"><tspan font-style="italic">Nfkbiz</tspan><tspan font-size="5.6" dy="-3">CreERT2</tspan></text>
<text font-size="9.29" text-anchor="end" fill="#a49fd0" stroke="#a49fd0" stroke-width="0.08" font-weight="normal" font-style="normal" transform="translate(294.1,269.8) rotate(-47) translate(0.00,0.00) scale(0.9259,1)"><tspan font-style="italic">TKO</tspan><tspan font-size="5.6" dy="-3">CreERT2</tspan></text>
<text font-size="11.00" text-anchor="start" fill="#111" font-weight="bold" font-style="normal"  transform="translate(344.30,159.30) scale(1.0000,1)">F</text>
<rect x="383.40" y="169.60" width="37.90" height="8.88" fill="#e5503a" shape-rendering="crispEdges"/>
<rect x="421.00" y="169.60" width="37.50" height="8.88" fill="#f08c50" shape-rendering="crispEdges"/>
<text font-size="8.36" text-anchor="end" fill="#333" stroke="#333" stroke-width="0.22" font-weight="normal" font-style="normal"  transform="translate(380.20,176.89) scale(0.9804,1)">Lmo4</text>
<rect x="383.40" y="178.18" width="37.90" height="8.88" fill="#e65c40" shape-rendering="crispEdges"/>
<rect x="421.00" y="178.18" width="37.50" height="8.88" fill="#f29a58" shape-rendering="crispEdges"/>
<text font-size="8.36" text-anchor="end" fill="#333" stroke="#333" stroke-width="0.22" font-weight="normal" font-style="normal"  transform="translate(380.20,185.47) scale(0.9804,1)">Cebpa</text>
<rect x="383.40" y="186.76" width="37.90" height="8.88" fill="#6cbca0" shape-rendering="crispEdges"/>
<rect x="421.00" y="186.76" width="37.50" height="8.88" fill="#98cc98" shape-rendering="crispEdges"/>
<text font-size="8.36" text-anchor="end" fill="#333" stroke="#333" stroke-width="0.22" font-weight="normal" font-style="normal"  transform="translate(380.20,194.05) scale(0.9804,1)">Cebpb</text>
<rect x="383.40" y="195.34" width="37.90" height="8.88" fill="#9ccf98" shape-rendering="crispEdges"/>
<rect x="421.00" y="195.34" width="37.50" height="8.88" fill="#1a9ab4" shape-rendering="crispEdges"/>
<text font-size="8.36" text-anchor="end" fill="#333" stroke="#333" stroke-width="0.22" font-weight="normal" font-style="normal"  transform="translate(380.20,202.63) scale(0.9804,1)">Cebpe</text>
<rect x="383.40" y="203.92" width="37.90" height="8.88" fill="#e5503a" shape-rendering="crispEdges"/>
<rect x="421.00" y="203.92" width="37.50" height="8.88" fill="#f08a4c" shape-rendering="crispEdges"/>
<text font-size="8.36" text-anchor="end" fill="#333" stroke="#333" stroke-width="0.22" font-weight="normal" font-style="normal"  transform="translate(380.20,211.21) scale(0.9804,1)">Spi1</text>
<rect x="383.40" y="212.50" width="37.90" height="8.88" fill="#e5503a" shape-rendering="crispEdges"/>
<rect x="421.00" y="212.50" width="37.50" height="8.88" fill="#f08a4c" shape-rendering="crispEdges"/>
<text font-size="8.36" text-anchor="end" fill="#333" stroke="#333" stroke-width="0.22" font-weight="normal" font-style="normal"  transform="translate(380.20,219.80) scale(0.9804,1)">Csf1r</text>
<rect x="383.40" y="221.09" width="37.90" height="8.88" fill="#e96440" shape-rendering="crispEdges"/>
<rect x="421.00" y="221.09" width="37.50" height="8.88" fill="#ee7444" shape-rendering="crispEdges"/>
<text font-size="8.36" text-anchor="end" fill="#333" stroke="#333" stroke-width="0.22" font-weight="normal" font-style="normal"  transform="translate(380.20,228.38) scale(0.9804,1)">Csf2ra</text>
<rect x="383.40" y="229.67" width="37.90" height="8.88" fill="#f08a4c" shape-rendering="crispEdges"/>
<rect x="421.00" y="229.67" width="37.50" height="8.88" fill="#ec6a40" shape-rendering="crispEdges"/>
<text font-size="8.36" text-anchor="end" fill="#333" stroke="#333" stroke-width="0.22" font-weight="normal" font-style="normal"  transform="translate(380.20,236.96) scale(0.9804,1)">Csf2rb</text>
<rect x="383.40" y="238.25" width="37.90" height="8.88" fill="#ed6e42" shape-rendering="crispEdges"/>
<rect x="421.00" y="238.25" width="37.50" height="8.88" fill="#ee7444" shape-rendering="crispEdges"/>
<text font-size="8.36" text-anchor="end" fill="#333" stroke="#333" stroke-width="0.22" font-weight="normal" font-style="normal"  transform="translate(380.20,245.54) scale(0.9804,1)">Csf3r</text>
<rect x="383.40" y="246.83" width="37.90" height="8.88" fill="#8cc8a0" shape-rendering="crispEdges"/>
<rect x="421.00" y="246.83" width="37.50" height="8.88" fill="#2aa8a8" shape-rendering="crispEdges"/>
<text font-size="8.36" text-anchor="end" fill="#333" stroke="#333" stroke-width="0.22" font-weight="normal" font-style="normal"  transform="translate(380.20,254.12) scale(0.9804,1)">Fcer1g</text>
<rect x="383.40" y="255.41" width="37.90" height="8.88" fill="#8cc8a0" shape-rendering="crispEdges"/>
<rect x="421.00" y="255.41" width="37.50" height="8.88" fill="#dc1e44" shape-rendering="crispEdges"/>
<text font-size="8.36" text-anchor="end" fill="#333" stroke="#333" stroke-width="0.22" font-weight="normal" font-style="normal"  transform="translate(380.20,262.70) scale(0.9804,1)">Cd52</text>
<rect x="383.40" y="263.99" width="37.90" height="8.88" fill="#8cc8a0" shape-rendering="crispEdges"/>
<rect x="421.00" y="263.99" width="37.50" height="8.88" fill="#f4e8a0" shape-rendering="crispEdges"/>
<text font-size="8.36" text-anchor="end" fill="#333" stroke="#333" stroke-width="0.22" font-weight="normal" font-style="normal"  transform="translate(380.20,271.28) scale(0.9804,1)">F7</text>
<rect x="383.40" y="272.57" width="37.90" height="8.88" fill="#8cc8a0" shape-rendering="crispEdges"/>
<rect x="421.00" y="272.57" width="37.50" height="8.88" fill="#f4a058" shape-rendering="crispEdges"/>
<text font-size="8.36" text-anchor="end" fill="#333" stroke="#333" stroke-width="0.22" font-weight="normal" font-style="normal"  transform="translate(380.20,279.86) scale(0.9804,1)">F13a1</text>
<rect x="383.40" y="281.15" width="37.90" height="8.88" fill="#ef7a40" shape-rendering="crispEdges"/>
<rect x="421.00" y="281.15" width="37.50" height="8.88" fill="#e85a3c" shape-rendering="crispEdges"/>
<text font-size="8.36" text-anchor="end" fill="#333" stroke="#333" stroke-width="0.22" font-weight="normal" font-style="normal"  transform="translate(380.20,288.44) scale(0.9804,1)">Ly86</text>
<rect x="383.40" y="289.73" width="37.90" height="8.88" fill="#fbd890" shape-rendering="crispEdges"/>
<rect x="421.00" y="289.73" width="37.50" height="8.88" fill="#f28a50" shape-rendering="crispEdges"/>
<text font-size="8.36" text-anchor="end" fill="#333" stroke="#333" stroke-width="0.22" font-weight="normal" font-style="normal"  transform="translate(380.20,297.02) scale(0.9804,1)">Mpo</text>
<rect x="383.40" y="298.31" width="37.90" height="8.88" fill="#f4eca0" shape-rendering="crispEdges"/>
<rect x="421.00" y="298.31" width="37.50" height="8.88" fill="#e55040" shape-rendering="crispEdges"/>
<text font-size="8.36" text-anchor="end" fill="#333" stroke="#333" stroke-width="0.22" font-weight="normal" font-style="normal"  transform="translate(380.20,305.60) scale(0.9804,1)">Elane</text>
<rect x="383.40" y="306.90" width="37.90" height="8.88" fill="#1a8cb8" shape-rendering="crispEdges"/>
<rect x="421.00" y="306.90" width="37.50" height="8.88" fill="#b8d898" shape-rendering="crispEdges"/>
<text font-size="8.36" text-anchor="end" fill="#333" stroke="#333" stroke-width="0.22" font-weight="normal" font-style="normal"  transform="translate(380.20,314.19) scale(0.9804,1)">Fcnb</text>
<rect x="383.40" y="315.48" width="37.90" height="8.88" fill="#f4eca8" shape-rendering="crispEdges"/>
<rect x="421.00" y="315.48" width="37.50" height="8.88" fill="#e02040" shape-rendering="crispEdges"/>
<text font-size="8.36" text-anchor="end" fill="#333" stroke="#333" stroke-width="0.22" font-weight="normal" font-style="normal"  transform="translate(380.20,322.77) scale(0.9804,1)">Ltf</text>
<rect x="383.40" y="324.06" width="37.90" height="8.88" fill="#18a0b8" shape-rendering="crispEdges"/>
<rect x="421.00" y="324.06" width="37.50" height="8.88" fill="#e01e44" shape-rendering="crispEdges"/>
<text font-size="8.36" text-anchor="end" fill="#333" stroke="#333" stroke-width="0.22" font-weight="normal" font-style="normal"  transform="translate(380.20,331.35) scale(0.9804,1)">S100a8</text>
<rect x="383.40" y="332.64" width="37.90" height="8.88" fill="#5a48a8" shape-rendering="crispEdges"/>
<rect x="421.00" y="332.64" width="37.50" height="8.88" fill="#fce8a0" shape-rendering="crispEdges"/>
<text font-size="8.36" text-anchor="end" fill="#333" stroke="#333" stroke-width="0.22" font-weight="normal" font-style="normal"  transform="translate(380.20,339.93) scale(0.9804,1)">S100a9</text>
<rect x="383.40" y="341.22" width="37.90" height="8.88" fill="#f4a060" shape-rendering="crispEdges"/>
<rect x="421.00" y="341.22" width="37.50" height="8.88" fill="#e55040" shape-rendering="crispEdges"/>
<text font-size="8.36" text-anchor="end" fill="#333" stroke="#333" stroke-width="0.22" font-weight="normal" font-style="normal"  transform="translate(380.20,348.51) scale(0.9804,1)">Cd74</text>
<line x1="382.90" y1="350.40" x2="459.00" y2="350.40" stroke="#2a2a2a" stroke-width="1"/>
<line x1="399.00" y1="350.40" x2="399.00" y2="353.20" stroke="#2a2a2a" stroke-width="1"/>
<line x1="442.30" y1="350.40" x2="442.30" y2="353.20" stroke="#2a2a2a" stroke-width="1"/>
<text font-size="9.29" text-anchor="middle" fill="#4564a6" stroke="#4564a6" stroke-width="0.22" font-weight="normal" font-style="normal"  transform="translate(399.30,362.60) scale(0.9259,1)"><tspan font-style="italic">Control</tspan></text>
<text font-size="9.29" text-anchor="middle" fill="#c83c54" stroke="#c83c54" stroke-width="0.22" font-weight="normal" font-style="normal"  transform="translate(443.00,362.60) scale(0.9259,1)"><tspan font-style="italic">DKO</tspan><tspan font-size="5.8" dy="-3.3">CreERT2</tspan></text>
<defs><linearGradient id="cbF" x1="0" y1="0" x2="0" y2="1"><stop offset="0" stop-color="#2c6e9e"/><stop offset="0.18" stop-color="#1e9ab4"/><stop offset="0.35" stop-color="#8ccca2"/><stop offset="0.5" stop-color="#f8f0a8"/><stop offset="0.68" stop-color="#f7a85a"/><stop offset="0.85" stop-color="#e6403c"/><stop offset="1" stop-color="#b81440"/></linearGradient></defs>
<rect x="474.40" y="233.30" width="5.30" height="26.40" fill="url(#cbF)" />
<text font-size="8.64" text-anchor="start" fill="#2a2a2a" stroke="#2a2a2a" stroke-width="0.22" font-weight="normal" font-style="normal"  transform="translate(471.00,230.20) scale(0.9259,1)">Z-score</text>
<text font-size="8.42" text-anchor="start" fill="#2a2a2a" stroke="#2a2a2a" stroke-width="0.22" font-weight="normal" font-style="normal"  transform="translate(483.00,241.00) scale(0.9259,1)">−1</text>
<text font-size="8.42" text-anchor="start" fill="#2a2a2a" stroke="#2a2a2a" stroke-width="0.22" font-weight="normal" font-style="normal"  transform="translate(484.30,249.60) scale(0.9259,1)">0</text>
<text font-size="8.42" text-anchor="start" fill="#2a2a2a" stroke="#2a2a2a" stroke-width="0.22" font-weight="normal" font-style="normal"  transform="translate(484.60,259.20) scale(0.9259,1)">1</text>
<text font-size="11.00" text-anchor="start" fill="#111" font-weight="bold" font-style="normal"  transform="translate(192.40,385.00) scale(1.0000,1)">E</text>
<line x1="223.00" y1="390.40" x2="223.00" y2="476.00" stroke="#2a2a2a" stroke-width="1.1"/>
<line x1="222.50" y1="475.50" x2="512.80" y2="475.50" stroke="#2a2a2a" stroke-width="1.2"/>
<rect x="293.70" y="474.50" width="1.40" height="2.00" fill="#fff" />
<rect x="366.50" y="474.50" width="1.40" height="2.00" fill="#fff" />
<rect x="439.30" y="474.50" width="1.40" height="2.00" fill="#fff" />
<line x1="220.20" y1="418.00" x2="223.00" y2="418.00" stroke="#2a2a2a" stroke-width="1"/>
<text font-size="8.21" text-anchor="end" fill="#2a2a2a" stroke="#2a2a2a" stroke-width="0.22" font-weight="normal" font-style="normal"  transform="translate(218.30,420.70) scale(0.9259,1)">0</text>
<line x1="220.20" y1="451.30" x2="223.00" y2="451.30" stroke="#2a2a2a" stroke-width="1"/>
<text font-size="8.21" text-anchor="end" fill="#2a2a2a" stroke="#2a2a2a" stroke-width="0.22" font-weight="normal" font-style="normal"  transform="translate(218.30,454.00) scale(0.9259,1)">−10</text>
<text font-size="8.21" text-anchor="middle" fill="#2a2a2a" stroke="#2a2a2a" stroke-width="0.22" font-weight="normal" font-style="normal" transform="translate(198.5,432) rotate(-90) translate(0.00,0.00) scale(0.9259,1)">UMAP-2</text>
<text font-size="8.21" text-anchor="middle" fill="#2a2a2a" stroke="#2a2a2a" stroke-width="0.22" font-weight="normal" font-style="normal"  transform="translate(367.40,501.20) scale(0.9259,1)">UMAP-1</text>
<line x1="222.80" y1="475.50" x2="222.80" y2="478.30" stroke="#2a2a2a" stroke-width="1"/>
<text font-size="8.21" text-anchor="middle" fill="#2a2a2a" stroke="#2a2a2a" stroke-width="0.22" font-weight="normal" font-style="normal"  transform="translate(221.20,488.20) scale(0.9259,1)">−15</text>
<line x1="237.45" y1="475.50" x2="237.45" y2="478.30" stroke="#2a2a2a" stroke-width="1"/>
<text font-size="8.21" text-anchor="middle" fill="#2a2a2a" stroke="#2a2a2a" stroke-width="0.22" font-weight="normal" font-style="normal"  transform="translate(235.85,488.20) scale(0.9259,1)">−10</text>
<line x1="252.10" y1="475.50" x2="252.10" y2="478.30" stroke="#2a2a2a" stroke-width="1"/>
<text font-size="8.21" text-anchor="middle" fill="#2a2a2a" stroke="#2a2a2a" stroke-width="0.22" font-weight="normal" font-style="normal"  transform="translate(250.50,488.20) scale(0.9259,1)">−5</text>
<line x1="266.75" y1="475.50" x2="266.75" y2="478.30" stroke="#2a2a2a" stroke-width="1"/>
<text font-size="8.21" text-anchor="middle" fill="#2a2a2a" stroke="#2a2a2a" stroke-width="0.22" font-weight="normal" font-style="normal"  transform="translate(266.75,488.20) scale(0.9259,1)">0</text>
<line x1="281.40" y1="475.50" x2="281.40" y2="478.30" stroke="#2a2a2a" stroke-width="1"/>
<text font-size="8.21" text-anchor="middle" fill="#2a2a2a" stroke="#2a2a2a" stroke-width="0.22" font-weight="normal" font-style="normal"  transform="translate(281.40,488.20) scale(0.9259,1)">5</text>
<text font-size="9.07" text-anchor="middle" fill="#4564a6" stroke="#4564a6" stroke-width="0.05" font-weight="normal" font-style="normal"  transform="translate(258.00,385.50) scale(0.9259,1)"><tspan font-style="italic">Control</tspan></text>
<line x1="295.60" y1="475.50" x2="295.60" y2="478.30" stroke="#2a2a2a" stroke-width="1"/>
<text font-size="8.21" text-anchor="middle" fill="#2a2a2a" stroke="#2a2a2a" stroke-width="0.22" font-weight="normal" font-style="normal"  transform="translate(294.00,488.20) scale(0.9259,1)">−15</text>
<line x1="310.25" y1="475.50" x2="310.25" y2="478.30" stroke="#2a2a2a" stroke-width="1"/>
<text font-size="8.21" text-anchor="middle" fill="#2a2a2a" stroke="#2a2a2a" stroke-width="0.22" font-weight="normal" font-style="normal"  transform="translate(308.65,488.20) scale(0.9259,1)">−10</text>
<line x1="324.90" y1="475.50" x2="324.90" y2="478.30" stroke="#2a2a2a" stroke-width="1"/>
<text font-size="8.21" text-anchor="middle" fill="#2a2a2a" stroke="#2a2a2a" stroke-width="0.22" font-weight="normal" font-style="normal"  transform="translate(323.30,488.20) scale(0.9259,1)">−5</text>
<line x1="339.55" y1="475.50" x2="339.55" y2="478.30" stroke="#2a2a2a" stroke-width="1"/>
<text font-size="8.21" text-anchor="middle" fill="#2a2a2a" stroke="#2a2a2a" stroke-width="0.22" font-weight="normal" font-style="normal"  transform="translate(339.55,488.20) scale(0.9259,1)">0</text>
<line x1="354.20" y1="475.50" x2="354.20" y2="478.30" stroke="#2a2a2a" stroke-width="1"/>
<text font-size="8.21" text-anchor="middle" fill="#2a2a2a" stroke="#2a2a2a" stroke-width="0.22" font-weight="normal" font-style="normal"  transform="translate(354.20,488.20) scale(0.9259,1)">5</text>
<text font-size="9.07" text-anchor="middle" fill="#c83c54" stroke="#c83c54" stroke-width="0.05" font-weight="normal" font-style="normal"  transform="translate(331.00,385.50) scale(0.9259,1)"><tspan font-style="italic">DKO</tspan><tspan font-size="5.6" dy="-3.2">CreERT2</tspan></text>
<line x1="368.40" y1="475.50" x2="368.40" y2="478.30" stroke="#2a2a2a" stroke-width="1"/>
<text font-size="8.21" text-anchor="middle" fill="#2a2a2a" stroke="#2a2a2a" stroke-width="0.22" font-weight="normal" font-style="normal"  transform="translate(366.80,488.20) scale(0.9259,1)">−15</text>
<line x1="383.05" y1="475.50" x2="383.05" y2="478.30" stroke="#2a2a2a" stroke-width="1"/>
<text font-size="8.21" text-anchor="middle" fill="#2a2a2a" stroke="#2a2a2a" stroke-width="0.22" font-weight="normal" font-style="normal"  transform="translate(381.45,488.20) scale(0.9259,1)">−10</text>
<line x1="397.70" y1="475.50" x2="397.70" y2="478.30" stroke="#2a2a2a" stroke-width="1"/>
<text font-size="8.21" text-anchor="middle" fill="#2a2a2a" stroke="#2a2a2a" stroke-width="0.22" font-weight="normal" font-style="normal"  transform="translate(396.10,488.20) scale(0.9259,1)">−5</text>
<line x1="412.35" y1="475.50" x2="412.35" y2="478.30" stroke="#2a2a2a" stroke-width="1"/>
<text font-size="8.21" text-anchor="middle" fill="#2a2a2a" stroke="#2a2a2a" stroke-width="0.22" font-weight="normal" font-style="normal"  transform="translate(412.35,488.20) scale(0.9259,1)">0</text>
<line x1="427.00" y1="475.50" x2="427.00" y2="478.30" stroke="#2a2a2a" stroke-width="1"/>
<text font-size="8.21" text-anchor="middle" fill="#2a2a2a" stroke="#2a2a2a" stroke-width="0.22" font-weight="normal" font-style="normal"  transform="translate(427.00,488.20) scale(0.9259,1)">5</text>
<text font-size="9.07" text-anchor="middle" fill="#2c4a8a" stroke="#2c4a8a" stroke-width="0.05" font-weight="normal" font-style="normal"  transform="translate(403.50,385.50) scale(0.9259,1)"><tspan font-style="italic">Nfkbiz</tspan><tspan font-size="5.6" dy="-3.2">CreERT2</tspan></text>
<line x1="441.20" y1="475.50" x2="441.20" y2="478.30" stroke="#2a2a2a" stroke-width="1"/>
<text font-size="8.21" text-anchor="middle" fill="#2a2a2a" stroke="#2a2a2a" stroke-width="0.22" font-weight="normal" font-style="normal"  transform="translate(439.60,488.20) scale(0.9259,1)">−15</text>
<line x1="455.85" y1="475.50" x2="455.85" y2="478.30" stroke="#2a2a2a" stroke-width="1"/>
<text font-size="8.21" text-anchor="middle" fill="#2a2a2a" stroke="#2a2a2a" stroke-width="0.22" font-weight="normal" font-style="normal"  transform="translate(454.25,488.20) scale(0.9259,1)">−10</text>
<line x1="470.50" y1="475.50" x2="470.50" y2="478.30" stroke="#2a2a2a" stroke-width="1"/>
<text font-size="8.21" text-anchor="middle" fill="#2a2a2a" stroke="#2a2a2a" stroke-width="0.22" font-weight="normal" font-style="normal"  transform="translate(468.90,488.20) scale(0.9259,1)">−5</text>
<line x1="485.15" y1="475.50" x2="485.15" y2="478.30" stroke="#2a2a2a" stroke-width="1"/>
<text font-size="8.21" text-anchor="middle" fill="#2a2a2a" stroke="#2a2a2a" stroke-width="0.22" font-weight="normal" font-style="normal"  transform="translate(485.15,488.20) scale(0.9259,1)">0</text>
<line x1="499.80" y1="475.50" x2="499.80" y2="478.30" stroke="#2a2a2a" stroke-width="1"/>
<text font-size="8.21" text-anchor="middle" fill="#2a2a2a" stroke="#2a2a2a" stroke-width="0.22" font-weight="normal" font-style="normal"  transform="translate(499.80,488.20) scale(0.9259,1)">5</text>
<text font-size="9.07" text-anchor="middle" fill="#a49fd0" stroke="#a49fd0" stroke-width="0.05" font-weight="normal" font-style="normal"  transform="translate(477.00,385.50) scale(0.9259,1)"><tspan font-style="italic">TKO</tspan><tspan font-size="5.6" dy="-3.2">CreERT2</tspan></text>
<defs><linearGradient id="gE1" x1="0" y1="0" x2="1" y2="0"><stop offset="0" stop-color="#e0b4aa"/><stop offset="0.45" stop-color="#d6d2d2"/><stop offset="1" stop-color="#e2e6e4"/></linearGradient></defs>
<path d="M254.5,394.5 L258.0,392.2 L261.4,391.8 L266.0,393.2 L269.5,396.2 L271.0,401.5 L270.3,406.0 L269.4,410.0 L267.0,412.5 L263.0,413.0 L259.0,411.0 L256.0,409.0 L254.5,405.0 L254.0,399.0 Z" fill="url(#gE1)" opacity="0.95" filter="url(#bl2)"/>
<path d="M254.0,399.0 L256.0,404.0 L259.0,408.5 L263.0,411.5 L266.5,413.0 L263.0,413.5 L259.0,411.5 L256.0,409.0 L254.3,405.0 Z" fill="#eaa898" opacity="0.6" filter="url(#bl2)"/>
<path d="M258.3,410.0 L263.0,411.5 L268.2,411.8 L268.6,417.0 L267.7,422.6 L264.0,424.0 L261.0,423.0 L259.0,419.0 L258.0,414.0 Z" fill="#ef9480" opacity="0.9" filter="url(#bl2)"/>
<path d="M266.0,423.4 L270.0,423.1 L274.0,422.3 L277.0,420.4 L280.0,418.9 L284.0,418.6 L287.0,419.8 L288.2,422.0 L286.5,424.6 L282.0,425.9 L277.0,425.5 L272.0,425.1 L267.0,425.0 Z" fill="#e67a7a" opacity="0.85" filter="url(#bl2)"/>
<g fill="#c4c4c4" opacity="0.6"><circle cx="259.5" cy="395.0" r="0.5"/><circle cx="254.6" cy="401.0" r="0.5"/><circle cx="263.8" cy="400.2" r="0.5"/><circle cx="257.1" cy="404.1" r="0.5"/><circle cx="265.6" cy="400.9" r="0.5"/><circle cx="258.1" cy="404.0" r="0.5"/><circle cx="256.6" cy="402.2" r="0.5"/><circle cx="263.9" cy="401.5" r="0.5"/><circle cx="254.4" cy="401.6" r="0.5"/><circle cx="255.4" cy="401.3" r="0.5"/><circle cx="260.1" cy="410.5" r="0.5"/><circle cx="260.3" cy="403.8" r="0.5"/><circle cx="260.7" cy="400.3" r="0.5"/><circle cx="255.7" cy="399.5" r="0.5"/><circle cx="261.9" cy="402.1" r="0.5"/><circle cx="263.0" cy="394.9" r="0.5"/><circle cx="258.4" cy="399.6" r="0.5"/><circle cx="268.5" cy="408.9" r="0.5"/><circle cx="254.5" cy="397.7" r="0.5"/><circle cx="257.7" cy="396.6" r="0.5"/><circle cx="265.1" cy="408.8" r="0.5"/><circle cx="257.0" cy="408.5" r="0.5"/><circle cx="266.3" cy="395.4" r="0.5"/><circle cx="260.0" cy="403.4" r="0.5"/><circle cx="258.3" cy="398.0" r="0.5"/><circle cx="263.9" cy="411.0" r="0.5"/><circle cx="256.9" cy="401.8" r="0.5"/><circle cx="255.8" cy="403.7" r="0.5"/></g>
<g fill="#e4b4aa" opacity="0.6"><circle cx="265.1" cy="393.3" r="0.5"/><circle cx="261.2" cy="409.3" r="0.5"/><circle cx="268.6" cy="397.9" r="0.5"/><circle cx="264.9" cy="399.7" r="0.5"/><circle cx="259.3" cy="404.2" r="0.5"/><circle cx="262.9" cy="410.4" r="0.5"/><circle cx="267.0" cy="403.9" r="0.5"/><circle cx="262.1" cy="405.9" r="0.5"/><circle cx="256.9" cy="394.3" r="0.5"/><circle cx="263.3" cy="410.5" r="0.5"/><circle cx="257.0" cy="396.7" r="0.5"/><circle cx="262.8" cy="404.9" r="0.5"/><circle cx="255.8" cy="405.2" r="0.5"/><circle cx="264.4" cy="394.9" r="0.5"/><circle cx="255.5" cy="394.0" r="0.5"/><circle cx="263.2" cy="392.4" r="0.5"/><circle cx="256.8" cy="408.2" r="0.5"/><circle cx="267.9" cy="407.5" r="0.5"/><circle cx="258.4" cy="406.5" r="0.5"/><circle cx="257.3" cy="396.1" r="0.5"/><circle cx="255.4" cy="405.8" r="0.5"/><circle cx="259.7" cy="408.8" r="0.5"/><circle cx="256.2" cy="395.0" r="0.5"/><circle cx="263.0" cy="411.6" r="0.5"/><circle cx="258.1" cy="404.2" r="0.5"/><circle cx="261.2" cy="411.3" r="0.5"/><circle cx="266.3" cy="403.6" r="0.5"/><circle cx="258.2" cy="397.7" r="0.5"/></g>
<g fill="#d0d0d0" opacity="0.6"><circle cx="263.1" cy="399.6" r="0.5"/><circle cx="256.1" cy="396.5" r="0.5"/><circle cx="256.5" cy="394.3" r="0.5"/><circle cx="263.3" cy="393.1" r="0.5"/><circle cx="261.7" cy="398.2" r="0.5"/><circle cx="266.4" cy="397.9" r="0.5"/><circle cx="268.9" cy="398.5" r="0.5"/><circle cx="268.0" cy="397.8" r="0.5"/><circle cx="256.2" cy="397.0" r="0.5"/><circle cx="267.9" cy="410.1" r="0.5"/><circle cx="258.0" cy="402.1" r="0.5"/><circle cx="269.3" cy="408.3" r="0.5"/><circle cx="257.5" cy="395.2" r="0.5"/><circle cx="258.3" cy="399.2" r="0.5"/><circle cx="259.8" cy="397.4" r="0.5"/><circle cx="263.0" cy="412.5" r="0.5"/><circle cx="263.1" cy="408.3" r="0.5"/><circle cx="257.9" cy="402.8" r="0.5"/><circle cx="270.3" cy="401.3" r="0.5"/><circle cx="264.6" cy="410.9" r="0.5"/><circle cx="269.5" cy="408.4" r="0.5"/><circle cx="270.5" cy="400.2" r="0.5"/><circle cx="269.4" cy="408.9" r="0.5"/><circle cx="261.4" cy="410.3" r="0.5"/><circle cx="258.4" cy="400.7" r="0.5"/><circle cx="262.5" cy="403.1" r="0.5"/><circle cx="259.5" cy="402.8" r="0.5"/></g>
<g fill="#dcdcdc" opacity="0.6"><circle cx="255.0" cy="402.6" r="0.5"/><circle cx="264.7" cy="411.9" r="0.5"/><circle cx="259.2" cy="409.1" r="0.5"/><circle cx="255.0" cy="396.2" r="0.5"/><circle cx="267.5" cy="406.6" r="0.5"/><circle cx="261.1" cy="407.9" r="0.5"/><circle cx="265.8" cy="404.4" r="0.5"/><circle cx="260.6" cy="406.0" r="0.5"/><circle cx="260.6" cy="410.3" r="0.5"/><circle cx="258.7" cy="400.6" r="0.5"/><circle cx="264.0" cy="397.4" r="0.5"/><circle cx="268.9" cy="408.7" r="0.5"/><circle cx="259.8" cy="392.9" r="0.5"/><circle cx="260.2" cy="394.4" r="0.5"/><circle cx="268.1" cy="395.2" r="0.5"/><circle cx="268.7" cy="406.6" r="0.5"/><circle cx="259.6" cy="396.5" r="0.5"/><circle cx="260.0" cy="392.4" r="0.5"/><circle cx="270.2" cy="399.5" r="0.5"/><circle cx="268.3" cy="402.0" r="0.5"/><circle cx="266.8" cy="401.9" r="0.5"/><circle cx="260.8" cy="411.9" r="0.5"/><circle cx="256.5" cy="409.3" r="0.5"/><circle cx="268.0" cy="396.3" r="0.5"/><circle cx="260.0" cy="401.5" r="0.5"/><circle cx="261.5" cy="395.7" r="0.5"/><circle cx="263.4" cy="408.4" r="0.5"/></g>
<g fill="#ec8470" opacity="0.8"><circle cx="266.2" cy="417.1" r="0.5"/><circle cx="267.7" cy="416.2" r="0.5"/><circle cx="263.4" cy="419.7" r="0.5"/><circle cx="263.1" cy="423.2" r="0.5"/><circle cx="268.0" cy="413.6" r="0.5"/><circle cx="266.9" cy="411.9" r="0.5"/><circle cx="258.8" cy="413.4" r="0.5"/><circle cx="259.6" cy="420.0" r="0.5"/><circle cx="262.2" cy="416.8" r="0.5"/><circle cx="263.5" cy="414.7" r="0.5"/><circle cx="263.9" cy="416.2" r="0.5"/><circle cx="264.6" cy="417.2" r="0.5"/><circle cx="260.9" cy="411.8" r="0.5"/><circle cx="266.7" cy="413.6" r="0.5"/><circle cx="258.9" cy="410.8" r="0.5"/><circle cx="264.7" cy="421.2" r="0.5"/><circle cx="263.9" cy="423.0" r="0.5"/><circle cx="263.6" cy="413.3" r="0.5"/><circle cx="258.5" cy="412.8" r="0.5"/><circle cx="266.1" cy="414.1" r="0.5"/><circle cx="265.8" cy="417.7" r="0.5"/><circle cx="266.7" cy="416.1" r="0.5"/><circle cx="262.2" cy="417.1" r="0.5"/><circle cx="265.5" cy="418.9" r="0.5"/><circle cx="258.6" cy="411.8" r="0.5"/><circle cx="267.2" cy="419.4" r="0.5"/><circle cx="261.1" cy="416.4" r="0.5"/><circle cx="268.3" cy="417.7" r="0.5"/><circle cx="263.0" cy="417.0" r="0.5"/><circle cx="258.1" cy="413.7" r="0.5"/></g>
<g fill="#f4a090" opacity="0.8"><circle cx="264.0" cy="420.6" r="0.5"/><circle cx="264.5" cy="417.1" r="0.5"/><circle cx="262.8" cy="417.5" r="0.5"/><circle cx="265.4" cy="422.3" r="0.5"/><circle cx="263.9" cy="423.2" r="0.5"/><circle cx="259.3" cy="416.2" r="0.5"/><circle cx="266.3" cy="422.6" r="0.5"/><circle cx="265.0" cy="412.0" r="0.5"/><circle cx="259.7" cy="416.0" r="0.5"/><circle cx="260.1" cy="414.5" r="0.5"/><circle cx="258.2" cy="414.6" r="0.5"/><circle cx="259.1" cy="413.7" r="0.5"/><circle cx="262.5" cy="422.8" r="0.5"/><circle cx="264.0" cy="419.8" r="0.5"/><circle cx="265.3" cy="416.0" r="0.5"/><circle cx="262.8" cy="414.7" r="0.5"/><circle cx="260.8" cy="411.8" r="0.5"/><circle cx="259.2" cy="412.3" r="0.5"/><circle cx="261.3" cy="414.3" r="0.5"/><circle cx="263.3" cy="412.5" r="0.5"/><circle cx="260.0" cy="416.6" r="0.5"/><circle cx="263.2" cy="421.7" r="0.5"/><circle cx="261.6" cy="421.7" r="0.5"/><circle cx="262.3" cy="414.9" r="0.5"/><circle cx="260.7" cy="412.3" r="0.5"/><circle cx="261.0" cy="413.4" r="0.5"/><circle cx="259.7" cy="416.2" r="0.5"/><circle cx="261.3" cy="415.0" r="0.5"/><circle cx="260.1" cy="417.1" r="0.5"/><circle cx="259.0" cy="415.6" r="0.5"/></g>
<g fill="#e26868" opacity="0.8"><circle cx="279.0" cy="422.5" r="0.5"/><circle cx="281.9" cy="425.0" r="0.5"/><circle cx="267.0" cy="424.7" r="0.5"/><circle cx="282.3" cy="424.5" r="0.5"/><circle cx="283.9" cy="424.6" r="0.5"/><circle cx="281.2" cy="423.7" r="0.5"/><circle cx="278.4" cy="423.2" r="0.5"/><circle cx="283.7" cy="424.1" r="0.5"/><circle cx="280.6" cy="419.1" r="0.5"/><circle cx="282.2" cy="420.1" r="0.5"/><circle cx="277.0" cy="421.4" r="0.5"/><circle cx="283.0" cy="423.1" r="0.5"/><circle cx="282.5" cy="420.8" r="0.5"/><circle cx="281.0" cy="420.7" r="0.5"/><circle cx="285.8" cy="420.1" r="0.5"/><circle cx="285.7" cy="423.7" r="0.5"/><circle cx="284.6" cy="419.5" r="0.5"/><circle cx="286.0" cy="420.7" r="0.5"/><circle cx="285.6" cy="424.5" r="0.5"/><circle cx="286.9" cy="422.6" r="0.5"/><circle cx="282.3" cy="421.9" r="0.5"/><circle cx="276.5" cy="421.1" r="0.5"/><circle cx="280.6" cy="420.8" r="0.5"/><circle cx="278.6" cy="425.1" r="0.5"/><circle cx="275.2" cy="422.4" r="0.5"/></g>
<g fill="#ee9090" opacity="0.8"><circle cx="282.7" cy="423.4" r="0.5"/><circle cx="282.1" cy="423.3" r="0.5"/><circle cx="285.8" cy="423.2" r="0.5"/><circle cx="277.2" cy="424.7" r="0.5"/><circle cx="279.0" cy="425.1" r="0.5"/><circle cx="268.3" cy="424.7" r="0.5"/><circle cx="279.9" cy="423.6" r="0.5"/><circle cx="277.2" cy="422.5" r="0.5"/><circle cx="282.4" cy="420.4" r="0.5"/><circle cx="282.4" cy="425.7" r="0.5"/><circle cx="276.6" cy="423.6" r="0.5"/><circle cx="280.3" cy="419.2" r="0.5"/><circle cx="280.9" cy="423.7" r="0.5"/><circle cx="277.5" cy="422.0" r="0.5"/><circle cx="284.2" cy="422.3" r="0.5"/><circle cx="273.0" cy="424.7" r="0.5"/><circle cx="286.6" cy="423.8" r="0.5"/><circle cx="268.3" cy="424.7" r="0.5"/><circle cx="280.0" cy="425.3" r="0.5"/><circle cx="282.0" cy="419.0" r="0.5"/><circle cx="282.7" cy="423.3" r="0.5"/><circle cx="272.6" cy="424.0" r="0.5"/><circle cx="278.4" cy="421.5" r="0.5"/><circle cx="282.6" cy="421.6" r="0.5"/><circle cx="277.2" cy="423.2" r="0.5"/></g>
<path d="M266.5,423 L263.5,428.5 L261.5,431.5" stroke="#ec8070" stroke-width="0.8" fill="none"/>
<path d="M250.5,404.6 L254.5,404.8" stroke="#d8b0a8" stroke-width="1.2"/>
<path d="M249.3,433.8 L251.5,433.3 L253.5,435.3 L255.0,439.0 L258.0,442.0 L261.0,443.0 L263.7,441.5 L265.0,439.0 L266.0,437.0 L266.5,441.0 L265.0,444.5 L262.0,447.0 L258.5,449.0 L255.6,449.3 L252.5,447.5 L250.5,444.0 L249.5,439.0 Z" fill="#1f9440" opacity="0.9" filter="url(#bl)"/>
<path d="M266.0,434.0 L268.0,432.8 L271.0,433.8 L272.9,436.5 L272.5,440.0 L271.7,443.0 L273.6,450.0 L274.6,455.0 L273.5,455.4 L271.0,449.0 L269.3,445.0 L267.0,443.0 L265.8,440.0 L265.4,437.0 Z" fill="#3fae58" opacity="0.85" filter="url(#bl)"/>
<g fill="#147a32" opacity="0.8"><circle cx="254.0" cy="437.3" r="0.5"/><circle cx="264.7" cy="440.9" r="0.5"/><circle cx="266.0" cy="437.3" r="0.5"/><circle cx="258.3" cy="444.2" r="0.5"/><circle cx="257.2" cy="442.1" r="0.5"/><circle cx="260.2" cy="444.5" r="0.5"/><circle cx="258.3" cy="442.6" r="0.5"/><circle cx="264.5" cy="440.9" r="0.5"/><circle cx="257.9" cy="444.1" r="0.5"/><circle cx="263.0" cy="445.1" r="0.5"/><circle cx="253.1" cy="445.5" r="0.5"/><circle cx="253.1" cy="440.0" r="0.5"/><circle cx="251.7" cy="434.1" r="0.5"/><circle cx="265.3" cy="438.6" r="0.5"/><circle cx="255.4" cy="446.4" r="0.5"/><circle cx="255.7" cy="448.0" r="0.5"/><circle cx="256.4" cy="446.3" r="0.5"/><circle cx="253.8" cy="444.8" r="0.5"/><circle cx="253.3" cy="440.9" r="0.5"/><circle cx="263.1" cy="445.1" r="0.5"/><circle cx="254.8" cy="439.1" r="0.5"/><circle cx="251.0" cy="441.3" r="0.5"/><circle cx="260.0" cy="444.1" r="0.5"/><circle cx="253.6" cy="437.2" r="0.5"/><circle cx="263.2" cy="443.8" r="0.5"/><circle cx="250.0" cy="438.0" r="0.5"/><circle cx="265.3" cy="439.3" r="0.5"/><circle cx="259.6" cy="443.2" r="0.5"/><circle cx="251.7" cy="436.6" r="0.5"/><circle cx="249.5" cy="438.5" r="0.5"/><circle cx="250.4" cy="434.9" r="0.5"/><circle cx="252.1" cy="444.4" r="0.5"/><circle cx="254.7" cy="442.4" r="0.5"/><circle cx="256.6" cy="446.4" r="0.5"/><circle cx="260.3" cy="447.9" r="0.5"/></g>
<g fill="#2aa04a" opacity="0.8"><circle cx="256.2" cy="440.4" r="0.5"/><circle cx="256.0" cy="448.1" r="0.5"/><circle cx="251.2" cy="435.8" r="0.5"/><circle cx="260.4" cy="445.5" r="0.5"/><circle cx="251.5" cy="437.3" r="0.5"/><circle cx="251.2" cy="434.4" r="0.5"/><circle cx="254.5" cy="440.7" r="0.5"/><circle cx="253.3" cy="437.3" r="0.5"/><circle cx="255.1" cy="440.0" r="0.5"/><circle cx="266.0" cy="438.3" r="0.5"/><circle cx="254.4" cy="448.5" r="0.5"/><circle cx="251.8" cy="439.6" r="0.5"/><circle cx="250.3" cy="439.6" r="0.5"/><circle cx="254.1" cy="438.9" r="0.5"/><circle cx="250.1" cy="440.9" r="0.5"/><circle cx="252.6" cy="439.1" r="0.5"/><circle cx="249.9" cy="434.3" r="0.5"/><circle cx="265.1" cy="443.4" r="0.5"/><circle cx="256.7" cy="441.2" r="0.5"/><circle cx="263.5" cy="445.7" r="0.5"/><circle cx="252.7" cy="445.3" r="0.5"/><circle cx="253.3" cy="440.0" r="0.5"/><circle cx="262.2" cy="446.9" r="0.5"/><circle cx="256.1" cy="449.2" r="0.5"/><circle cx="257.5" cy="446.4" r="0.5"/><circle cx="251.4" cy="436.3" r="0.5"/><circle cx="253.8" cy="445.7" r="0.5"/><circle cx="253.0" cy="439.2" r="0.5"/><circle cx="253.7" cy="442.9" r="0.5"/><circle cx="263.0" cy="442.1" r="0.5"/><circle cx="256.1" cy="442.1" r="0.5"/><circle cx="254.6" cy="448.6" r="0.5"/><circle cx="255.4" cy="440.0" r="0.5"/><circle cx="256.3" cy="447.4" r="0.5"/><circle cx="250.8" cy="443.3" r="0.5"/></g>
<g fill="#2a9a48" opacity="0.8"><circle cx="268.8" cy="444.2" r="0.5"/><circle cx="267.2" cy="435.7" r="0.5"/><circle cx="269.8" cy="434.0" r="0.5"/><circle cx="267.4" cy="441.8" r="0.5"/><circle cx="266.5" cy="438.4" r="0.5"/><circle cx="271.2" cy="439.7" r="0.5"/><circle cx="269.9" cy="438.1" r="0.5"/><circle cx="269.6" cy="436.9" r="0.5"/><circle cx="270.1" cy="433.7" r="0.5"/><circle cx="272.1" cy="450.4" r="0.5"/><circle cx="270.0" cy="441.3" r="0.5"/><circle cx="272.4" cy="436.4" r="0.5"/><circle cx="270.1" cy="440.0" r="0.5"/><circle cx="271.3" cy="440.9" r="0.5"/><circle cx="269.5" cy="436.8" r="0.5"/></g>
<g fill="#6cc080" opacity="0.8"><circle cx="266.7" cy="439.2" r="0.5"/><circle cx="274.1" cy="454.8" r="0.5"/><circle cx="272.6" cy="437.8" r="0.5"/><circle cx="270.2" cy="441.5" r="0.5"/><circle cx="270.9" cy="445.2" r="0.5"/><circle cx="269.5" cy="442.7" r="0.5"/><circle cx="272.4" cy="450.4" r="0.5"/><circle cx="269.8" cy="435.2" r="0.5"/><circle cx="271.3" cy="434.7" r="0.5"/><circle cx="270.1" cy="434.0" r="0.5"/><circle cx="272.1" cy="451.2" r="0.5"/><circle cx="267.3" cy="438.7" r="0.5"/><circle cx="265.7" cy="436.9" r="0.5"/><circle cx="271.2" cy="441.7" r="0.5"/><circle cx="270.8" cy="447.8" r="0.5"/></g>
<circle cx="288.8" cy="421.9" r="1" fill="#5a2020"/>
<g fill="#7f8cc0" opacity="1"><circle cx="238.8" cy="456.8" r="0.6"/><circle cx="240.2" cy="457.6" r="0.6"/><circle cx="241.5" cy="458.3" r="0.6"/><circle cx="243.0" cy="459.0" r="0.6"/><circle cx="245.0" cy="459.8" r="0.6"/><circle cx="247.0" cy="460.3" r="0.6"/><circle cx="247.7" cy="471.2" r="0.6"/></g>
<path d="M313.5,396.0 L317.0,393.5 L321.0,393.0 L326.0,394.5 L330.0,397.5 L333.4,402.0 L333.0,406.5 L330.0,409.0 L326.0,411.0 L323.0,414.0 L320.0,417.0 L318.0,417.0 L315.5,414.0 L313.5,410.0 L312.5,404.0 L312.7,399.0 Z" fill="#efeaea" opacity="0.9" filter="url(#bl2)"/>
<g fill="#c8c0c0" opacity="0.8"><circle cx="325.4" cy="403.4" r="0.5"/><circle cx="324.8" cy="397.9" r="0.5"/><circle cx="320.9" cy="399.3" r="0.5"/><circle cx="313.4" cy="405.8" r="0.5"/><circle cx="329.5" cy="397.2" r="0.5"/><circle cx="317.2" cy="395.5" r="0.5"/><circle cx="324.1" cy="403.5" r="0.5"/><circle cx="328.1" cy="400.8" r="0.5"/><circle cx="322.3" cy="413.2" r="0.5"/><circle cx="319.7" cy="396.4" r="0.5"/><circle cx="314.7" cy="397.9" r="0.5"/><circle cx="319.2" cy="403.2" r="0.5"/><circle cx="332.6" cy="405.1" r="0.5"/><circle cx="319.7" cy="409.9" r="0.5"/><circle cx="319.8" cy="413.0" r="0.5"/><circle cx="314.8" cy="408.3" r="0.5"/><circle cx="331.3" cy="405.0" r="0.5"/><circle cx="328.2" cy="408.5" r="0.5"/><circle cx="316.0" cy="403.5" r="0.5"/><circle cx="315.7" cy="396.7" r="0.5"/><circle cx="314.6" cy="402.2" r="0.5"/><circle cx="320.6" cy="393.8" r="0.5"/><circle cx="315.5" cy="407.5" r="0.5"/><circle cx="321.3" cy="398.5" r="0.5"/><circle cx="325.7" cy="399.0" r="0.5"/><circle cx="328.8" cy="402.3" r="0.5"/><circle cx="314.6" cy="406.8" r="0.5"/><circle cx="321.1" cy="415.8" r="0.5"/></g>
<g fill="#e4c4be" opacity="0.8"><circle cx="315.3" cy="398.5" r="0.5"/><circle cx="325.5" cy="404.4" r="0.5"/><circle cx="324.3" cy="401.4" r="0.5"/><circle cx="321.0" cy="398.7" r="0.5"/><circle cx="319.0" cy="400.2" r="0.5"/><circle cx="317.4" cy="393.9" r="0.5"/><circle cx="329.0" cy="405.6" r="0.5"/><circle cx="330.9" cy="400.9" r="0.5"/><circle cx="321.6" cy="410.4" r="0.5"/><circle cx="327.0" cy="408.2" r="0.5"/><circle cx="325.7" cy="399.9" r="0.5"/><circle cx="312.9" cy="399.2" r="0.5"/><circle cx="330.3" cy="407.8" r="0.5"/><circle cx="323.7" cy="398.2" r="0.5"/><circle cx="317.9" cy="415.7" r="0.5"/><circle cx="325.6" cy="401.5" r="0.5"/><circle cx="320.4" cy="414.2" r="0.5"/><circle cx="319.8" cy="400.8" r="0.5"/><circle cx="328.7" cy="406.9" r="0.5"/><circle cx="317.7" cy="400.8" r="0.5"/><circle cx="327.8" cy="403.4" r="0.5"/><circle cx="320.8" cy="412.0" r="0.5"/><circle cx="321.0" cy="410.8" r="0.5"/><circle cx="325.9" cy="403.9" r="0.5"/><circle cx="321.4" cy="403.9" r="0.5"/><circle cx="313.3" cy="406.0" r="0.5"/><circle cx="323.8" cy="410.2" r="0.5"/><circle cx="316.9" cy="409.4" r="0.5"/></g>
<g fill="#b0a8a8" opacity="0.8"><circle cx="314.7" cy="401.6" r="0.5"/><circle cx="317.6" cy="396.6" r="0.5"/><circle cx="326.0" cy="403.7" r="0.5"/><circle cx="316.7" cy="407.6" r="0.5"/><circle cx="328.1" cy="404.2" r="0.5"/><circle cx="319.5" cy="411.0" r="0.5"/><circle cx="318.0" cy="408.4" r="0.5"/><circle cx="317.5" cy="414.8" r="0.5"/><circle cx="324.4" cy="400.4" r="0.5"/><circle cx="313.9" cy="407.2" r="0.5"/><circle cx="314.6" cy="395.3" r="0.5"/><circle cx="318.4" cy="410.2" r="0.5"/><circle cx="313.1" cy="402.9" r="0.5"/><circle cx="322.8" cy="412.1" r="0.5"/><circle cx="318.4" cy="398.2" r="0.5"/><circle cx="320.9" cy="402.5" r="0.5"/><circle cx="317.4" cy="404.1" r="0.5"/><circle cx="315.7" cy="413.2" r="0.5"/><circle cx="315.1" cy="404.1" r="0.5"/><circle cx="323.4" cy="396.9" r="0.5"/><circle cx="316.6" cy="408.3" r="0.5"/><circle cx="327.0" cy="405.0" r="0.5"/><circle cx="331.5" cy="403.3" r="0.5"/><circle cx="319.0" cy="408.1" r="0.5"/><circle cx="325.5" cy="402.8" r="0.5"/><circle cx="315.9" cy="411.8" r="0.5"/><circle cx="323.2" cy="408.3" r="0.5"/></g>
<g fill="#d8d0d0" opacity="0.8"><circle cx="317.2" cy="407.0" r="0.5"/><circle cx="314.5" cy="408.3" r="0.5"/><circle cx="317.7" cy="414.7" r="0.5"/><circle cx="323.1" cy="408.4" r="0.5"/><circle cx="328.0" cy="403.9" r="0.5"/><circle cx="327.4" cy="399.4" r="0.5"/><circle cx="317.9" cy="398.7" r="0.5"/><circle cx="325.7" cy="409.6" r="0.5"/><circle cx="316.9" cy="407.9" r="0.5"/><circle cx="320.1" cy="412.6" r="0.5"/><circle cx="328.3" cy="397.9" r="0.5"/><circle cx="320.2" cy="400.7" r="0.5"/><circle cx="321.6" cy="411.6" r="0.5"/><circle cx="316.4" cy="404.9" r="0.5"/><circle cx="327.1" cy="405.0" r="0.5"/><circle cx="316.8" cy="399.3" r="0.5"/><circle cx="323.6" cy="411.1" r="0.5"/><circle cx="326.3" cy="410.8" r="0.5"/><circle cx="316.5" cy="400.2" r="0.5"/><circle cx="319.4" cy="397.5" r="0.5"/><circle cx="314.7" cy="398.0" r="0.5"/><circle cx="325.7" cy="404.1" r="0.5"/><circle cx="324.5" cy="411.0" r="0.5"/><circle cx="314.5" cy="403.1" r="0.5"/><circle cx="316.3" cy="408.7" r="0.5"/><circle cx="332.2" cy="405.5" r="0.5"/><circle cx="329.8" cy="405.5" r="0.5"/></g>
<path d="M313.5,398 C314.5,396 316.5,396 317.5,398.5 C318,403 318,409 318.8,414 C317,415.5 314.5,414 313.5,411 C312.5,407 312.4,401 313.5,398 Z" fill="#7a4a46" opacity="0.6" filter="url(#bl)"/>
<path d="M316.8,414 C318.5,413 322,413 323.5,415.5 C324.2,419 323.8,423 322.5,426 C320.5,427 318,426 317.2,423 C316.5,420 316.3,417 316.8,414 Z" fill="#ef9480" filter="url(#bl)"/>
<path d="M322.5,424.5 C326,425 330,426 333,427.5 C335,428.5 336.5,429.5 337.5,430.5" stroke="#e0603a" stroke-width="1.8" fill="none" filter="url(#bl)"/>
<path d="M327.5,427 L324.5,431 L322.5,432.5" stroke="#ec7050" stroke-width="1" fill="none"/>
<path d="M337,429.3 C340,427.3 345,427.3 347.6,429.5 C349.6,432 349.3,436 347,438.6 C344.5,440.6 339.5,440.6 337,438.6 C335,436.6 335,432 337,429.3 Z" fill="#f08a0e" filter="url(#bl)"/>
<g fill="#f0b0a0" opacity="0.6"><circle cx="334.0" cy="424.7" r="0.45"/><circle cx="331.3" cy="419.6" r="0.45"/><circle cx="333.1" cy="417.7" r="0.45"/><circle cx="334.0" cy="417.0" r="0.45"/><circle cx="335.8" cy="421.9" r="0.45"/><circle cx="343.8" cy="425.4" r="0.45"/><circle cx="337.6" cy="415.8" r="0.45"/><circle cx="334.8" cy="416.6" r="0.45"/><circle cx="331.9" cy="420.7" r="0.45"/><circle cx="340.2" cy="419.1" r="0.45"/><circle cx="345.8" cy="425.0" r="0.45"/><circle cx="327.3" cy="416.0" r="0.45"/><circle cx="333.0" cy="416.1" r="0.45"/></g>
<g fill="#e8a0a0" opacity="0.6"><circle cx="333.2" cy="414.8" r="0.45"/><circle cx="334.7" cy="423.8" r="0.45"/><circle cx="330.2" cy="424.4" r="0.45"/><circle cx="343.6" cy="422.9" r="0.45"/><circle cx="333.1" cy="422.9" r="0.45"/><circle cx="335.8" cy="418.1" r="0.45"/><circle cx="333.7" cy="417.5" r="0.45"/><circle cx="331.5" cy="417.4" r="0.45"/><circle cx="334.9" cy="422.9" r="0.45"/><circle cx="346.4" cy="426.0" r="0.45"/><circle cx="340.1" cy="417.5" r="0.45"/><circle cx="330.4" cy="424.9" r="0.45"/></g>
<g filter="url(#bl)"><path d="M308.5,434.5 C310,433.5 312,434.5 312.5,437 C313,440 315,443 318,444 C321,444.5 323,441.5 324.5,439 C325.5,436.5 326,434.5 327.5,434 C329,434 330.5,436 331,438.5 L333,451 L331.5,451.5 L328.5,443 C326,445 322,448 318,448.5 C314,449 311,447 309.5,444 C308.5,441 308.2,437.5 308.5,434.5 Z" fill="#5cb870" fill-opacity="0.45" stroke="#23983f" stroke-width="1.8" opacity="0.9"/><path d="M313,440 C315,443.5 320,445.5 323.5,442.5 L326,437" stroke="#1f8a3a" stroke-width="1.3" fill="none"/><path d="M325,434.5 L329,436 L330,440" stroke="#2aa050" stroke-width="2" fill="none"/></g>
<g fill="#7f8cc0" opacity="1"><circle cx="307.8" cy="460.5" r="0.6"/><circle cx="306.8" cy="470.4" r="0.6"/></g>
<path d="M392.0,393.0 L396.0,390.5 L401.0,391.0 L406.0,394.0 L409.5,399.0 L410.0,404.0 L408.5,408.0 L405.0,410.0 L401.0,410.0 L397.0,407.5 L394.0,403.0 L391.5,398.0 Z" fill="#ababab" opacity="0.95" filter="url(#bl2)"/>
<g fill="#999" opacity="0.7"><circle cx="408.2" cy="405.9" r="0.5"/><circle cx="403.9" cy="407.9" r="0.5"/><circle cx="395.2" cy="404.0" r="0.5"/><circle cx="399.6" cy="407.7" r="0.5"/><circle cx="395.8" cy="393.2" r="0.5"/><circle cx="400.1" cy="393.3" r="0.5"/><circle cx="401.5" cy="407.3" r="0.5"/><circle cx="403.8" cy="406.9" r="0.5"/><circle cx="403.3" cy="402.9" r="0.5"/><circle cx="400.9" cy="400.0" r="0.5"/><circle cx="397.8" cy="407.3" r="0.5"/><circle cx="401.2" cy="405.5" r="0.5"/><circle cx="399.3" cy="401.3" r="0.5"/><circle cx="406.8" cy="398.4" r="0.5"/><circle cx="400.9" cy="409.5" r="0.5"/><circle cx="397.6" cy="396.7" r="0.5"/><circle cx="403.2" cy="405.8" r="0.5"/><circle cx="392.4" cy="396.4" r="0.5"/><circle cx="403.7" cy="405.9" r="0.5"/><circle cx="402.9" cy="402.7" r="0.5"/><circle cx="404.1" cy="394.6" r="0.5"/><circle cx="394.9" cy="391.2" r="0.5"/><circle cx="403.6" cy="397.7" r="0.5"/><circle cx="401.9" cy="395.5" r="0.5"/><circle cx="397.4" cy="398.9" r="0.5"/><circle cx="406.5" cy="401.7" r="0.5"/><circle cx="391.8" cy="398.0" r="0.5"/><circle cx="399.1" cy="392.5" r="0.5"/><circle cx="404.8" cy="395.2" r="0.5"/><circle cx="404.7" cy="407.2" r="0.5"/><circle cx="400.0" cy="408.7" r="0.5"/><circle cx="400.5" cy="391.7" r="0.5"/><circle cx="399.6" cy="403.7" r="0.5"/><circle cx="403.1" cy="398.7" r="0.5"/><circle cx="409.0" cy="405.8" r="0.5"/><circle cx="404.5" cy="406.6" r="0.5"/><circle cx="402.6" cy="396.5" r="0.5"/><circle cx="398.5" cy="403.9" r="0.5"/><circle cx="406.4" cy="396.0" r="0.5"/><circle cx="406.6" cy="407.8" r="0.5"/><circle cx="402.1" cy="395.8" r="0.5"/><circle cx="404.2" cy="408.3" r="0.5"/><circle cx="401.7" cy="406.0" r="0.5"/><circle cx="400.1" cy="394.5" r="0.5"/><circle cx="406.1" cy="399.5" r="0.5"/></g>
<g fill="#b8b8b8" opacity="0.7"><circle cx="402.8" cy="405.7" r="0.5"/><circle cx="406.1" cy="406.9" r="0.5"/><circle cx="401.3" cy="405.0" r="0.5"/><circle cx="401.8" cy="395.7" r="0.5"/><circle cx="400.6" cy="391.6" r="0.5"/><circle cx="400.6" cy="400.2" r="0.5"/><circle cx="400.2" cy="401.5" r="0.5"/><circle cx="398.4" cy="398.7" r="0.5"/><circle cx="404.1" cy="408.7" r="0.5"/><circle cx="404.8" cy="402.7" r="0.5"/><circle cx="398.3" cy="399.8" r="0.5"/><circle cx="395.4" cy="399.0" r="0.5"/><circle cx="406.8" cy="396.2" r="0.5"/><circle cx="400.8" cy="395.8" r="0.5"/><circle cx="403.6" cy="405.9" r="0.5"/><circle cx="397.0" cy="401.9" r="0.5"/><circle cx="407.9" cy="401.1" r="0.5"/><circle cx="408.5" cy="402.4" r="0.5"/><circle cx="408.3" cy="402.4" r="0.5"/><circle cx="404.4" cy="402.1" r="0.5"/><circle cx="403.8" cy="399.4" r="0.5"/><circle cx="405.8" cy="408.3" r="0.5"/><circle cx="406.7" cy="405.8" r="0.5"/><circle cx="397.1" cy="398.7" r="0.5"/><circle cx="403.4" cy="408.7" r="0.5"/><circle cx="408.5" cy="399.2" r="0.5"/><circle cx="402.5" cy="408.8" r="0.5"/><circle cx="403.4" cy="394.6" r="0.5"/><circle cx="405.1" cy="394.2" r="0.5"/><circle cx="403.1" cy="404.3" r="0.5"/><circle cx="397.3" cy="404.7" r="0.5"/><circle cx="398.3" cy="401.7" r="0.5"/><circle cx="398.2" cy="403.1" r="0.5"/><circle cx="398.6" cy="405.8" r="0.5"/><circle cx="402.0" cy="396.2" r="0.5"/><circle cx="397.6" cy="402.3" r="0.5"/><circle cx="399.4" cy="407.8" r="0.5"/><circle cx="402.6" cy="408.0" r="0.5"/><circle cx="399.3" cy="401.9" r="0.5"/><circle cx="406.5" cy="407.4" r="0.5"/><circle cx="407.2" cy="406.2" r="0.5"/><circle cx="397.9" cy="392.2" r="0.5"/><circle cx="402.7" cy="403.7" r="0.5"/><circle cx="396.2" cy="405.1" r="0.5"/><circle cx="405.8" cy="395.0" r="0.5"/></g>
<path d="M396.5,406.0 L401.0,408.0 L405.0,409.5 L404.5,414.0 L402.5,419.0 L400.5,424.5 L397.0,425.0 L395.0,421.0 L394.5,415.0 L395.0,410.0 Z" fill="#ec9080" opacity="0.9" filter="url(#bl2)"/>
<g fill="#e88070" opacity="0.7"><circle cx="400.6" cy="423.0" r="0.5"/><circle cx="396.5" cy="409.7" r="0.5"/><circle cx="398.3" cy="416.7" r="0.5"/><circle cx="395.6" cy="418.0" r="0.5"/><circle cx="400.8" cy="412.6" r="0.5"/><circle cx="400.5" cy="411.0" r="0.5"/><circle cx="397.2" cy="406.7" r="0.5"/><circle cx="400.4" cy="422.5" r="0.5"/><circle cx="400.8" cy="413.6" r="0.5"/><circle cx="401.5" cy="413.5" r="0.5"/><circle cx="396.8" cy="406.7" r="0.5"/><circle cx="401.6" cy="411.7" r="0.5"/><circle cx="395.6" cy="412.2" r="0.5"/><circle cx="399.6" cy="409.2" r="0.5"/><circle cx="402.0" cy="409.7" r="0.5"/><circle cx="396.0" cy="414.5" r="0.5"/><circle cx="403.1" cy="415.1" r="0.5"/><circle cx="396.8" cy="407.1" r="0.5"/><circle cx="396.0" cy="422.5" r="0.5"/><circle cx="396.1" cy="411.2" r="0.5"/></g>
<g fill="#f0a898" opacity="0.7"><circle cx="399.5" cy="417.2" r="0.5"/><circle cx="396.4" cy="419.3" r="0.5"/><circle cx="398.7" cy="415.8" r="0.5"/><circle cx="402.8" cy="409.0" r="0.5"/><circle cx="403.6" cy="415.2" r="0.5"/><circle cx="402.7" cy="414.1" r="0.5"/><circle cx="396.6" cy="409.4" r="0.5"/><circle cx="399.3" cy="424.0" r="0.5"/><circle cx="397.2" cy="416.7" r="0.5"/><circle cx="399.2" cy="409.0" r="0.5"/><circle cx="397.2" cy="412.7" r="0.5"/><circle cx="400.7" cy="420.4" r="0.5"/><circle cx="397.2" cy="408.4" r="0.5"/><circle cx="397.0" cy="408.7" r="0.5"/><circle cx="396.8" cy="423.7" r="0.5"/><circle cx="399.2" cy="412.5" r="0.5"/><circle cx="401.1" cy="408.7" r="0.5"/><circle cx="402.0" cy="416.5" r="0.5"/><circle cx="397.3" cy="413.8" r="0.5"/><circle cx="403.3" cy="412.4" r="0.5"/></g>
<path d="M398.0,423.5 L404.0,424.0 L410.0,422.5 L414.0,420.0 L418.0,418.6 L421.5,419.1 L424.8,421.5 L422.0,423.6 L417.0,424.6 L412.0,425.6 L405.0,426.2 L399.0,426.0 Z" fill="#e06068" opacity="0.95" filter="url(#bl)"/>
<path d="M401.5,427 L401.2,432" stroke="#e06060" stroke-width="0.8"/>
<path d="M386,436 C387,434 389,434.5 389.5,436.5 C390,439.5 392,442.5 396,444 C393,446.5 389,447.8 387,446.2 C385.5,443.5 385.5,439 386,436 Z" fill="#9ad4a8" fill-opacity="0.35" stroke="#3aa558" stroke-width="1.1" opacity="0.85" filter="url(#bl)"/>
<path d="M399.0,434.0 L402.0,433.0 L405.5,434.0 L408.5,436.5 L410.0,441.0 L408.5,445.0 L405.0,446.5 L400.0,446.0 L396.0,446.5 L397.0,442.0 L399.0,438.0 Z" fill="#1f9a40" opacity="0.95" filter="url(#bl)"/>
<g fill="#137a30" opacity="0.8"><circle cx="398.3" cy="439.6" r="0.5"/><circle cx="397.6" cy="446.2" r="0.5"/><circle cx="405.4" cy="435.9" r="0.5"/><circle cx="399.6" cy="435.7" r="0.5"/><circle cx="407.3" cy="437.6" r="0.5"/><circle cx="398.6" cy="438.9" r="0.5"/><circle cx="398.5" cy="443.4" r="0.5"/><circle cx="404.5" cy="439.7" r="0.5"/><circle cx="404.6" cy="442.6" r="0.5"/><circle cx="406.3" cy="438.5" r="0.5"/><circle cx="407.8" cy="444.7" r="0.5"/><circle cx="408.2" cy="436.6" r="0.5"/><circle cx="401.1" cy="435.2" r="0.5"/><circle cx="402.2" cy="440.0" r="0.5"/><circle cx="407.4" cy="444.7" r="0.5"/></g>
<g fill="#40b060" opacity="0.8"><circle cx="400.5" cy="445.2" r="0.5"/><circle cx="396.8" cy="445.1" r="0.5"/><circle cx="402.7" cy="436.9" r="0.5"/><circle cx="406.2" cy="437.0" r="0.5"/><circle cx="407.7" cy="440.1" r="0.5"/><circle cx="404.0" cy="434.9" r="0.5"/><circle cx="406.0" cy="435.7" r="0.5"/><circle cx="399.8" cy="435.8" r="0.5"/><circle cx="407.4" cy="440.9" r="0.5"/><circle cx="407.3" cy="437.5" r="0.5"/><circle cx="408.7" cy="439.4" r="0.5"/><circle cx="398.6" cy="444.2" r="0.5"/><circle cx="401.2" cy="441.0" r="0.5"/><circle cx="397.7" cy="442.6" r="0.5"/><circle cx="400.5" cy="442.6" r="0.5"/></g>
<g fill="#3aa558" opacity="1"><circle cx="408.0" cy="446.0" r="0.5"/><circle cx="408.5" cy="448.5" r="0.5"/><circle cx="409.0" cy="451.0" r="0.5"/><circle cx="409.5" cy="454.0" r="0.5"/><circle cx="385.2" cy="435.8" r="0.5"/><circle cx="385.8" cy="404.6" r="0.5"/></g>
<g fill="#9a9a9a" opacity="1"><circle cx="373.7" cy="456.5" r="0.55"/><circle cx="375.5" cy="457.3" r="0.55"/><circle cx="377.5" cy="458.0" r="0.55"/><circle cx="382.8" cy="471.0" r="0.55"/></g>
<path d="M470.0,395.0 L473.0,391.5 L478.0,390.5 L483.0,392.0 L486.0,396.0 L487.5,401.0 L486.5,406.0 L484.0,410.0 L481.0,412.0 L477.0,411.0 L473.0,408.0 L470.5,403.0 Z" fill="#e2e2e2" opacity="0.9" filter="url(#bl2)"/>
<path d="M473.0,391.5 L478.0,390.5 L483.0,392.0 L486.0,396.0 L487.5,401.0 L486.5,406.0 L484.0,410.0 L481.5,412.0 L480.5,408.0 L481.5,403.0 L480.5,398.5 L477.5,395.5 L474.0,394.5 Z" fill="#b4b4b4" opacity="0.95" filter="url(#bl2)"/>
<g fill="#c0c0c0" opacity="0.6"><circle cx="476.7" cy="406.7" r="0.5"/><circle cx="479.0" cy="401.9" r="0.5"/><circle cx="473.2" cy="392.7" r="0.5"/><circle cx="482.2" cy="394.7" r="0.5"/><circle cx="482.3" cy="392.7" r="0.5"/><circle cx="478.6" cy="401.3" r="0.5"/><circle cx="477.1" cy="393.4" r="0.5"/><circle cx="472.6" cy="402.8" r="0.5"/><circle cx="476.8" cy="399.5" r="0.5"/><circle cx="476.9" cy="410.7" r="0.5"/><circle cx="474.2" cy="397.7" r="0.5"/><circle cx="470.9" cy="401.6" r="0.5"/><circle cx="481.1" cy="398.3" r="0.5"/><circle cx="477.6" cy="401.4" r="0.5"/><circle cx="484.2" cy="409.5" r="0.5"/><circle cx="481.9" cy="396.4" r="0.5"/><circle cx="480.9" cy="395.9" r="0.5"/><circle cx="475.3" cy="404.4" r="0.5"/><circle cx="486.7" cy="401.5" r="0.5"/><circle cx="479.3" cy="393.7" r="0.5"/><circle cx="475.1" cy="399.2" r="0.5"/><circle cx="471.5" cy="402.2" r="0.5"/><circle cx="480.0" cy="404.5" r="0.5"/><circle cx="478.1" cy="402.3" r="0.5"/><circle cx="475.4" cy="395.7" r="0.5"/><circle cx="476.7" cy="403.1" r="0.5"/><circle cx="485.1" cy="395.6" r="0.5"/><circle cx="475.2" cy="407.1" r="0.5"/><circle cx="485.2" cy="400.0" r="0.5"/><circle cx="477.7" cy="406.3" r="0.5"/></g>
<g fill="#d4d4d4" opacity="0.6"><circle cx="486.7" cy="401.1" r="0.5"/><circle cx="479.4" cy="390.9" r="0.5"/><circle cx="474.4" cy="408.1" r="0.5"/><circle cx="480.1" cy="401.7" r="0.5"/><circle cx="485.2" cy="405.9" r="0.5"/><circle cx="474.9" cy="393.1" r="0.5"/><circle cx="480.4" cy="409.0" r="0.5"/><circle cx="483.1" cy="394.0" r="0.5"/><circle cx="484.7" cy="401.8" r="0.5"/><circle cx="483.6" cy="397.8" r="0.5"/><circle cx="484.3" cy="408.7" r="0.5"/><circle cx="474.4" cy="399.6" r="0.5"/><circle cx="479.3" cy="392.0" r="0.5"/><circle cx="486.4" cy="404.1" r="0.5"/><circle cx="481.2" cy="396.2" r="0.5"/><circle cx="479.5" cy="410.4" r="0.5"/><circle cx="479.1" cy="399.8" r="0.5"/><circle cx="472.1" cy="403.3" r="0.5"/><circle cx="474.7" cy="400.5" r="0.5"/><circle cx="472.2" cy="393.3" r="0.5"/><circle cx="475.0" cy="395.7" r="0.5"/><circle cx="484.7" cy="403.6" r="0.5"/><circle cx="473.5" cy="405.8" r="0.5"/><circle cx="480.7" cy="400.6" r="0.5"/><circle cx="473.9" cy="401.5" r="0.5"/><circle cx="470.2" cy="398.1" r="0.5"/><circle cx="479.7" cy="401.1" r="0.5"/><circle cx="472.8" cy="391.9" r="0.5"/><circle cx="471.1" cy="398.8" r="0.5"/><circle cx="471.9" cy="395.3" r="0.5"/></g>
<path d="M479.0,407.0 L483.0,409.0 L484.0,413.0 L481.0,418.0 L478.0,422.5 L475.0,424.5 L472.5,423.0 L472.5,419.0 L475.0,414.0 L477.0,410.0 Z" fill="#ea8a72" opacity="0.9" filter="url(#bl2)"/>
<g fill="#e07a60" opacity="0.7"><circle cx="476.6" cy="418.8" r="0.5"/><circle cx="481.2" cy="415.3" r="0.5"/><circle cx="481.3" cy="417.3" r="0.5"/><circle cx="479.5" cy="413.6" r="0.5"/><circle cx="480.8" cy="412.1" r="0.5"/><circle cx="476.9" cy="412.6" r="0.5"/><circle cx="474.2" cy="417.1" r="0.5"/><circle cx="483.1" cy="412.7" r="0.5"/><circle cx="478.5" cy="416.1" r="0.5"/><circle cx="476.6" cy="417.4" r="0.5"/><circle cx="477.1" cy="416.8" r="0.5"/><circle cx="484.0" cy="413.0" r="0.5"/><circle cx="478.4" cy="408.9" r="0.5"/><circle cx="478.4" cy="415.8" r="0.5"/><circle cx="479.8" cy="407.7" r="0.5"/></g>
<g fill="#f0a090" opacity="0.7"><circle cx="481.9" cy="416.1" r="0.5"/><circle cx="483.0" cy="409.2" r="0.5"/><circle cx="479.1" cy="414.3" r="0.5"/><circle cx="477.7" cy="415.0" r="0.5"/><circle cx="477.0" cy="416.7" r="0.5"/><circle cx="478.2" cy="414.8" r="0.5"/><circle cx="479.2" cy="408.5" r="0.5"/><circle cx="479.0" cy="415.7" r="0.5"/><circle cx="480.4" cy="413.8" r="0.5"/><circle cx="480.3" cy="416.2" r="0.5"/><circle cx="477.6" cy="417.9" r="0.5"/><circle cx="478.6" cy="421.3" r="0.5"/><circle cx="482.7" cy="414.4" r="0.5"/><circle cx="479.7" cy="417.6" r="0.5"/><circle cx="477.2" cy="420.8" r="0.5"/></g>
<path d="M477.0,424.0 L484.0,424.5 L490.0,422.0 L494.0,419.5 L498.0,419.0 L502.0,420.5 L503.0,422.5 L499.0,424.0 L493.0,425.5 L486.0,426.2 L479.0,426.0 Z" fill="#e05c68" opacity="0.9" filter="url(#bl)"/>
<path d="M466,436 C467,434.5 468.5,435 469,437 C469.5,440 471,443 474,444.5 C472,446.5 468.5,447.5 466.5,446 C465,443.5 465.2,439 466,436 Z" fill="#a8dcb4" fill-opacity="0.3" stroke="#5ab470" stroke-width="1" opacity="0.75"/>
<path d="M474,444.5 C477,444 479,442 480,439 C480.5,436 480,434.5 481.5,434 C483.5,433.5 485.5,435 486.5,437 C487,440 486,443 484,444.5 C481,445.5 477.5,445.8 474,445.5 Z" fill="#6cc080" fill-opacity="0.4" stroke="#2ea04a" stroke-width="1.2" opacity="0.85"/>
<g fill="#bcbcbc" opacity="1"><circle cx="453.0" cy="457.0" r="0.55"/><circle cx="455.0" cy="458.0" r="0.55"/><circle cx="457.5" cy="458.7" r="0.55"/><circle cx="461.0" cy="471.0" r="0.55"/><circle cx="486.0" cy="448.0" r="0.55"/><circle cx="487.0" cy="451.0" r="0.55"/><circle cx="488.0" cy="454.0" r="0.55"/></g>
<text font-size="11.00" text-anchor="start" fill="#111" font-weight="bold" font-style="normal"  transform="translate(7.50,526.20) scale(1.0000,1)">G</text>
<text font-size="10.75" text-anchor="middle" fill="#2a2a2a" stroke="#2a2a2a" stroke-width="0.22" font-weight="normal" font-style="normal"  transform="translate(131.30,525.20) scale(0.9259,1)">Motif enrichment DKO</text>
<text font-size="10.75" text-anchor="middle" fill="#2a2a2a" stroke="#2a2a2a" stroke-width="0.22" font-weight="normal" font-style="normal"  transform="translate(131.30,535.80) scale(0.9259,1)">vs control (C1-C5)</text>
<line x1="48.40" y1="541.80" x2="48.40" y2="664.10" stroke="#2a2a2a" stroke-width="1.1"/>
<line x1="47.90" y1="663.60" x2="213.50" y2="663.60" stroke="#2a2a2a" stroke-width="1.1"/>
<line x1="45.40" y1="544.65" x2="48.40" y2="544.65" stroke="#2a2a2a" stroke-width="1"/>
<text font-size="8.42" text-anchor="end" fill="#2a2a2a" stroke="#2a2a2a" stroke-width="0.22" font-weight="normal" font-style="normal"  transform="translate(43.40,547.45) scale(0.9259,1)">15</text>
<line x1="45.40" y1="582.30" x2="48.40" y2="582.30" stroke="#2a2a2a" stroke-width="1"/>
<text font-size="8.42" text-anchor="end" fill="#2a2a2a" stroke="#2a2a2a" stroke-width="0.22" font-weight="normal" font-style="normal"  transform="translate(43.40,585.10) scale(0.9259,1)">10</text>
<line x1="45.40" y1="619.95" x2="48.40" y2="619.95" stroke="#2a2a2a" stroke-width="1"/>
<text font-size="8.42" text-anchor="end" fill="#2a2a2a" stroke="#2a2a2a" stroke-width="0.22" font-weight="normal" font-style="normal"  transform="translate(43.40,622.75) scale(0.9259,1)">5</text>
<line x1="45.40" y1="657.60" x2="48.40" y2="657.60" stroke="#2a2a2a" stroke-width="1"/>
<text font-size="8.42" text-anchor="end" fill="#2a2a2a" stroke="#2a2a2a" stroke-width="0.22" font-weight="normal" font-style="normal"  transform="translate(43.40,660.40) scale(0.9259,1)">0</text>
<line x1="46.60" y1="638.77" x2="48.40" y2="638.77" stroke="#2a2a2a" stroke-width="0.9"/>
<line x1="46.60" y1="601.12" x2="48.40" y2="601.12" stroke="#2a2a2a" stroke-width="0.9"/>
<line x1="46.60" y1="563.48" x2="48.40" y2="563.48" stroke="#2a2a2a" stroke-width="0.9"/>
<line x1="59.10" y1="663.60" x2="59.10" y2="666.60" stroke="#2a2a2a" stroke-width="1"/>
<text font-size="8.42" text-anchor="middle" fill="#2a2a2a" stroke="#2a2a2a" stroke-width="0.22" font-weight="normal" font-style="normal"  transform="translate(57.50,675.80) scale(0.9259,1)">−3</text>
<line x1="87.00" y1="663.60" x2="87.00" y2="666.60" stroke="#2a2a2a" stroke-width="1"/>
<text font-size="8.42" text-anchor="middle" fill="#2a2a2a" stroke="#2a2a2a" stroke-width="0.22" font-weight="normal" font-style="normal"  transform="translate(85.40,675.80) scale(0.9259,1)">−2</text>
<line x1="114.90" y1="663.60" x2="114.90" y2="666.60" stroke="#2a2a2a" stroke-width="1"/>
<text font-size="8.42" text-anchor="middle" fill="#2a2a2a" stroke="#2a2a2a" stroke-width="0.22" font-weight="normal" font-style="normal"  transform="translate(113.30,675.80) scale(0.9259,1)">−1</text>
<line x1="142.80" y1="663.60" x2="142.80" y2="666.60" stroke="#2a2a2a" stroke-width="1"/>
<text font-size="8.42" text-anchor="middle" fill="#2a2a2a" stroke="#2a2a2a" stroke-width="0.22" font-weight="normal" font-style="normal"  transform="translate(142.80,675.80) scale(0.9259,1)">0</text>
<line x1="170.70" y1="663.60" x2="170.70" y2="666.60" stroke="#2a2a2a" stroke-width="1"/>
<text font-size="8.42" text-anchor="middle" fill="#2a2a2a" stroke="#2a2a2a" stroke-width="0.22" font-weight="normal" font-style="normal"  transform="translate(170.70,675.80) scale(0.9259,1)">1</text>
<line x1="198.60" y1="663.60" x2="198.60" y2="666.60" stroke="#2a2a2a" stroke-width="1"/>
<text font-size="8.42" text-anchor="middle" fill="#2a2a2a" stroke="#2a2a2a" stroke-width="0.22" font-weight="normal" font-style="normal"  transform="translate(198.60,675.80) scale(0.9259,1)">2</text>
<line x1="73.05" y1="663.60" x2="73.05" y2="665.40" stroke="#2a2a2a" stroke-width="0.9"/>
<line x1="100.95" y1="663.60" x2="100.95" y2="665.40" stroke="#2a2a2a" stroke-width="0.9"/>
<line x1="128.85" y1="663.60" x2="128.85" y2="665.40" stroke="#2a2a2a" stroke-width="0.9"/>
<line x1="156.75" y1="663.60" x2="156.75" y2="665.40" stroke="#2a2a2a" stroke-width="0.9"/>
<line x1="184.65" y1="663.60" x2="184.65" y2="665.40" stroke="#2a2a2a" stroke-width="0.9"/>
<line x1="212.55" y1="663.60" x2="212.55" y2="665.40" stroke="#2a2a2a" stroke-width="0.9"/>
<text font-size="8.97" text-anchor="middle" fill="#2a2a2a" stroke="#2a2a2a" stroke-width="0.22" font-weight="normal" font-style="normal" transform="translate(26.0,602.0) rotate(-90) translate(0.00,0.00) scale(0.8475,1)">-Log<tspan font-size="5.4" dy="2">10</tspan><tspan dy="-2"> </tspan><tspan font-style="italic">P</tspan>-value</text>
<text font-size="8.97" text-anchor="middle" fill="#2a2a2a" stroke="#2a2a2a" stroke-width="0.22" font-weight="normal" font-style="normal"  transform="translate(131.00,689.00) scale(0.8475,1)">Log<tspan font-size="5.4" dy="2">2</tspan><tspan dy="-2"> (fold change)</tspan></text>
<g fill="#c80a30" opacity="0.9"><circle cx="134.6" cy="655.8" r="0.75"/><circle cx="120.8" cy="650.0" r="0.75"/><circle cx="131.6" cy="649.8" r="0.75"/><circle cx="125.7" cy="652.5" r="0.75"/><circle cx="123.3" cy="651.2" r="0.75"/><circle cx="142.5" cy="654.2" r="0.75"/><circle cx="95.4" cy="635.7" r="0.75"/><circle cx="132.5" cy="652.9" r="0.75"/><circle cx="136.3" cy="650.7" r="0.75"/><circle cx="136.6" cy="656.0" r="0.75"/><circle cx="135.2" cy="652.8" r="0.75"/><circle cx="137.3" cy="650.4" r="0.75"/><circle cx="121.7" cy="652.0" r="0.75"/><circle cx="124.7" cy="653.0" r="0.75"/><circle cx="141.1" cy="653.0" r="0.75"/><circle cx="129.4" cy="652.4" r="0.75"/><circle cx="136.9" cy="656.1" r="0.75"/><circle cx="132.2" cy="646.9" r="0.75"/><circle cx="130.4" cy="651.8" r="0.75"/><circle cx="135.8" cy="654.2" r="0.75"/><circle cx="112.4" cy="643.0" r="0.75"/><circle cx="131.9" cy="646.0" r="0.75"/><circle cx="123.0" cy="651.2" r="0.75"/><circle cx="134.9" cy="655.8" r="0.75"/><circle cx="115.5" cy="648.0" r="0.75"/><circle cx="130.1" cy="646.0" r="0.75"/><circle cx="137.5" cy="652.9" r="0.75"/><circle cx="130.8" cy="645.4" r="0.75"/><circle cx="105.3" cy="645.3" r="0.75"/><circle cx="141.8" cy="655.9" r="0.75"/><circle cx="140.7" cy="656.1" r="0.75"/><circle cx="132.2" cy="647.3" r="0.75"/><circle cx="115.7" cy="648.9" r="0.75"/><circle cx="140.1" cy="656.6" r="0.75"/><circle cx="136.6" cy="648.2" r="0.75"/><circle cx="135.1" cy="654.7" r="0.75"/><circle cx="135.8" cy="652.9" r="0.75"/><circle cx="139.9" cy="655.4" r="0.75"/><circle cx="138.2" cy="656.4" r="0.75"/><circle cx="139.6" cy="651.3" r="0.75"/><circle cx="136.0" cy="655.5" r="0.75"/><circle cx="133.5" cy="654.2" r="0.75"/><circle cx="142.5" cy="654.0" r="0.75"/><circle cx="138.7" cy="655.4" r="0.75"/><circle cx="129.4" cy="654.1" r="0.75"/><circle cx="122.9" cy="651.0" r="0.75"/><circle cx="138.7" cy="654.6" r="0.75"/><circle cx="135.9" cy="649.6" r="0.75"/><circle cx="139.7" cy="655.6" r="0.75"/><circle cx="134.3" cy="650.3" r="0.75"/><circle cx="115.1" cy="649.0" r="0.75"/><circle cx="115.8" cy="637.4" r="0.75"/><circle cx="131.8" cy="652.3" r="0.75"/><circle cx="142.5" cy="657.3" r="0.75"/><circle cx="139.6" cy="650.5" r="0.75"/><circle cx="131.3" cy="650.7" r="0.75"/><circle cx="135.0" cy="651.9" r="0.75"/><circle cx="134.3" cy="654.9" r="0.75"/><circle cx="137.3" cy="653.6" r="0.75"/><circle cx="137.2" cy="653.3" r="0.75"/><circle cx="139.4" cy="655.3" r="0.75"/><circle cx="116.6" cy="643.5" r="0.75"/><circle cx="130.7" cy="652.5" r="0.75"/><circle cx="137.3" cy="656.3" r="0.75"/><circle cx="129.6" cy="652.7" r="0.75"/><circle cx="115.9" cy="643.1" r="0.75"/><circle cx="127.5" cy="651.7" r="0.75"/><circle cx="130.3" cy="651.3" r="0.75"/><circle cx="141.2" cy="656.2" r="0.75"/><circle cx="137.4" cy="655.7" r="0.75"/><circle cx="125.7" cy="651.8" r="0.75"/><circle cx="125.4" cy="650.6" r="0.75"/><circle cx="120.5" cy="641.3" r="0.75"/><circle cx="128.4" cy="645.7" r="0.75"/><circle cx="134.5" cy="655.7" r="0.75"/><circle cx="133.7" cy="650.5" r="0.75"/><circle cx="135.4" cy="653.8" r="0.75"/><circle cx="130.6" cy="649.5" r="0.75"/><circle cx="139.2" cy="650.9" r="0.75"/><circle cx="131.8" cy="653.2" r="0.75"/><circle cx="136.1" cy="655.9" r="0.75"/><circle cx="135.8" cy="648.6" r="0.75"/><circle cx="140.4" cy="657.1" r="0.75"/><circle cx="118.7" cy="651.2" r="0.75"/><circle cx="137.4" cy="655.3" r="0.75"/><circle cx="134.1" cy="653.7" r="0.75"/><circle cx="130.0" cy="649.5" r="0.75"/><circle cx="139.6" cy="656.5" r="0.75"/><circle cx="132.2" cy="649.5" r="0.75"/><circle cx="125.9" cy="652.1" r="0.75"/><circle cx="121.4" cy="649.7" r="0.75"/><circle cx="133.5" cy="655.5" r="0.75"/><circle cx="129.4" cy="652.9" r="0.75"/><circle cx="119.9" cy="651.5" r="0.75"/><circle cx="130.0" cy="654.5" r="0.75"/><circle cx="126.2" cy="652.3" r="0.75"/><circle cx="122.0" cy="651.2" r="0.75"/><circle cx="125.3" cy="643.2" r="0.75"/><circle cx="142.8" cy="653.8" r="0.75"/><circle cx="136.3" cy="654.3" r="0.75"/><circle cx="142.4" cy="656.6" r="0.75"/><circle cx="114.0" cy="649.5" r="0.75"/><circle cx="127.6" cy="644.2" r="0.75"/><circle cx="137.5" cy="651.9" r="0.75"/><circle cx="140.7" cy="653.7" r="0.75"/><circle cx="114.0" cy="645.7" r="0.75"/><circle cx="120.4" cy="648.5" r="0.75"/><circle cx="134.9" cy="652.8" r="0.75"/><circle cx="135.6" cy="650.4" r="0.75"/><circle cx="139.3" cy="656.9" r="0.75"/><circle cx="134.7" cy="654.7" r="0.75"/><circle cx="116.2" cy="645.2" r="0.75"/><circle cx="121.3" cy="647.3" r="0.75"/><circle cx="138.6" cy="655.9" r="0.75"/><circle cx="129.4" cy="651.8" r="0.75"/><circle cx="137.5" cy="655.9" r="0.75"/><circle cx="139.7" cy="652.6" r="0.75"/><circle cx="135.1" cy="651.2" r="0.75"/><circle cx="141.9" cy="655.0" r="0.75"/><circle cx="131.4" cy="652.2" r="0.75"/><circle cx="129.7" cy="652.9" r="0.75"/><circle cx="137.2" cy="649.6" r="0.75"/><circle cx="130.4" cy="652.9" r="0.75"/><circle cx="127.4" cy="645.9" r="0.75"/><circle cx="118.0" cy="650.3" r="0.75"/><circle cx="135.1" cy="651.2" r="0.75"/><circle cx="128.9" cy="647.4" r="0.75"/><circle cx="132.9" cy="648.3" r="0.75"/><circle cx="133.3" cy="653.6" r="0.75"/><circle cx="134.4" cy="655.0" r="0.75"/><circle cx="131.2" cy="654.1" r="0.75"/><circle cx="138.2" cy="652.1" r="0.75"/><circle cx="135.7" cy="654.6" r="0.75"/><circle cx="140.4" cy="654.9" r="0.75"/><circle cx="136.7" cy="656.2" r="0.75"/><circle cx="135.7" cy="656.0" r="0.75"/><circle cx="117.3" cy="650.5" r="0.75"/><circle cx="141.5" cy="653.2" r="0.75"/><circle cx="123.2" cy="652.2" r="0.75"/><circle cx="140.3" cy="654.8" r="0.75"/><circle cx="133.7" cy="652.0" r="0.75"/><circle cx="138.8" cy="656.8" r="0.75"/><circle cx="123.5" cy="647.0" r="0.75"/><circle cx="132.1" cy="646.4" r="0.75"/><circle cx="136.1" cy="655.2" r="0.75"/><circle cx="133.2" cy="655.0" r="0.75"/><circle cx="116.7" cy="640.2" r="0.75"/><circle cx="138.2" cy="655.5" r="0.75"/><circle cx="134.2" cy="648.7" r="0.75"/><circle cx="122.7" cy="641.6" r="0.75"/><circle cx="129.6" cy="646.7" r="0.75"/><circle cx="119.4" cy="643.3" r="0.75"/><circle cx="138.3" cy="650.8" r="0.75"/><circle cx="134.1" cy="654.2" r="0.75"/><circle cx="129.6" cy="652.3" r="0.75"/><circle cx="128.5" cy="646.2" r="0.75"/><circle cx="142.5" cy="654.8" r="0.75"/><circle cx="138.4" cy="652.9" r="0.75"/><circle cx="132.6" cy="647.1" r="0.75"/><circle cx="121.1" cy="640.4" r="0.75"/><circle cx="124.8" cy="652.4" r="0.75"/><circle cx="142.2" cy="656.5" r="0.75"/><circle cx="137.3" cy="651.9" r="0.75"/><circle cx="139.7" cy="656.6" r="0.75"/><circle cx="104.8" cy="646.5" r="0.75"/><circle cx="128.6" cy="654.1" r="0.75"/><circle cx="133.5" cy="650.0" r="0.75"/><circle cx="139.1" cy="656.9" r="0.75"/><circle cx="126.5" cy="645.9" r="0.75"/><circle cx="117.4" cy="647.4" r="0.75"/><circle cx="138.1" cy="653.9" r="0.75"/><circle cx="120.7" cy="648.6" r="0.75"/><circle cx="134.1" cy="650.9" r="0.75"/><circle cx="128.8" cy="646.4" r="0.75"/><circle cx="135.2" cy="654.7" r="0.75"/><circle cx="137.6" cy="654.3" r="0.75"/><circle cx="129.7" cy="653.7" r="0.75"/><circle cx="137.3" cy="656.3" r="0.75"/><circle cx="135.2" cy="647.5" r="0.75"/><circle cx="127.5" cy="644.5" r="0.75"/><circle cx="115.2" cy="636.8" r="0.75"/><circle cx="111.7" cy="642.0" r="0.75"/><circle cx="140.8" cy="653.3" r="0.75"/><circle cx="137.8" cy="652.9" r="0.75"/><circle cx="137.0" cy="648.6" r="0.75"/><circle cx="123.7" cy="649.0" r="0.75"/><circle cx="135.0" cy="654.3" r="0.75"/><circle cx="132.5" cy="647.3" r="0.75"/><circle cx="133.0" cy="650.3" r="0.75"/><circle cx="141.1" cy="655.3" r="0.75"/><circle cx="123.4" cy="650.2" r="0.75"/><circle cx="131.3" cy="650.7" r="0.75"/><circle cx="126.5" cy="649.1" r="0.75"/><circle cx="133.3" cy="653.3" r="0.75"/><circle cx="135.5" cy="648.7" r="0.75"/><circle cx="136.4" cy="653.0" r="0.75"/><circle cx="119.5" cy="650.0" r="0.75"/><circle cx="123.0" cy="652.2" r="0.75"/><circle cx="131.3" cy="651.7" r="0.75"/><circle cx="140.6" cy="654.3" r="0.75"/><circle cx="139.9" cy="656.8" r="0.75"/><circle cx="123.0" cy="648.4" r="0.75"/><circle cx="137.5" cy="654.5" r="0.75"/><circle cx="139.5" cy="656.8" r="0.75"/><circle cx="114.4" cy="644.3" r="0.75"/><circle cx="131.4" cy="649.2" r="0.75"/><circle cx="142.5" cy="650.8" r="0.75"/><circle cx="135.2" cy="650.7" r="0.75"/><circle cx="119.6" cy="648.6" r="0.75"/><circle cx="125.5" cy="652.6" r="0.75"/><circle cx="123.7" cy="644.8" r="0.75"/><circle cx="137.9" cy="656.2" r="0.75"/><circle cx="141.9" cy="656.8" r="0.75"/><circle cx="137.6" cy="654.8" r="0.75"/><circle cx="122.3" cy="651.3" r="0.75"/><circle cx="140.8" cy="656.2" r="0.75"/><circle cx="138.5" cy="650.2" r="0.75"/><circle cx="127.2" cy="648.6" r="0.75"/><circle cx="129.1" cy="645.1" r="0.75"/><circle cx="128.6" cy="645.6" r="0.75"/><circle cx="130.3" cy="652.8" r="0.75"/><circle cx="120.7" cy="643.6" r="0.75"/><circle cx="130.7" cy="654.4" r="0.75"/><circle cx="116.8" cy="647.8" r="0.75"/><circle cx="139.8" cy="652.5" r="0.75"/><circle cx="105.6" cy="647.0" r="0.75"/><circle cx="137.2" cy="653.2" r="0.75"/><circle cx="138.5" cy="651.1" r="0.75"/><circle cx="116.3" cy="643.1" r="0.75"/><circle cx="120.0" cy="650.2" r="0.75"/><circle cx="137.0" cy="650.1" r="0.75"/><circle cx="127.2" cy="649.1" r="0.75"/><circle cx="140.4" cy="656.9" r="0.75"/><circle cx="140.7" cy="652.1" r="0.75"/><circle cx="135.1" cy="654.7" r="0.75"/><circle cx="124.9" cy="646.7" r="0.75"/><circle cx="136.5" cy="649.4" r="0.75"/><circle cx="137.0" cy="653.3" r="0.75"/><circle cx="132.5" cy="646.4" r="0.75"/><circle cx="116.9" cy="650.7" r="0.75"/><circle cx="138.0" cy="653.9" r="0.75"/><circle cx="135.5" cy="648.9" r="0.75"/><circle cx="141.5" cy="656.9" r="0.75"/><circle cx="138.9" cy="651.1" r="0.75"/><circle cx="136.2" cy="653.6" r="0.75"/><circle cx="129.0" cy="653.7" r="0.75"/><circle cx="134.2" cy="648.3" r="0.75"/><circle cx="130.1" cy="649.9" r="0.75"/><circle cx="130.6" cy="653.8" r="0.75"/><circle cx="136.5" cy="649.2" r="0.75"/><circle cx="138.9" cy="656.4" r="0.75"/><circle cx="140.4" cy="655.7" r="0.75"/><circle cx="123.1" cy="649.9" r="0.75"/><circle cx="138.7" cy="655.3" r="0.75"/><circle cx="122.6" cy="650.3" r="0.75"/><circle cx="142.0" cy="657.5" r="0.75"/><circle cx="99.3" cy="644.9" r="0.75"/><circle cx="131.5" cy="654.5" r="0.75"/><circle cx="137.0" cy="655.3" r="0.75"/><circle cx="132.0" cy="651.9" r="0.75"/><circle cx="141.3" cy="654.8" r="0.75"/><circle cx="122.9" cy="641.2" r="0.75"/><circle cx="138.8" cy="653.7" r="0.75"/><circle cx="142.6" cy="653.1" r="0.75"/><circle cx="124.4" cy="647.3" r="0.75"/><circle cx="123.8" cy="647.0" r="0.75"/><circle cx="134.7" cy="649.6" r="0.75"/><circle cx="133.3" cy="647.9" r="0.75"/><circle cx="121.3" cy="650.1" r="0.75"/><circle cx="134.1" cy="649.7" r="0.75"/><circle cx="141.6" cy="654.0" r="0.75"/><circle cx="124.5" cy="650.8" r="0.75"/><circle cx="127.9" cy="653.8" r="0.75"/><circle cx="137.9" cy="655.2" r="0.75"/><circle cx="122.5" cy="648.6" r="0.75"/><circle cx="101.7" cy="642.3" r="0.75"/><circle cx="142.3" cy="656.3" r="0.75"/><circle cx="131.6" cy="654.6" r="0.75"/><circle cx="111.8" cy="644.8" r="0.75"/><circle cx="141.4" cy="655.4" r="0.75"/><circle cx="131.0" cy="654.2" r="0.75"/><circle cx="137.3" cy="656.3" r="0.75"/><circle cx="138.6" cy="652.0" r="0.75"/><circle cx="130.3" cy="650.7" r="0.75"/><circle cx="129.9" cy="645.5" r="0.75"/><circle cx="137.4" cy="653.0" r="0.75"/><circle cx="134.4" cy="651.9" r="0.75"/><circle cx="138.2" cy="648.8" r="0.75"/><circle cx="126.3" cy="650.6" r="0.75"/><circle cx="122.1" cy="642.4" r="0.75"/><circle cx="126.7" cy="644.2" r="0.75"/><circle cx="135.5" cy="654.9" r="0.75"/><circle cx="142.6" cy="657.2" r="0.75"/><circle cx="139.5" cy="656.0" r="0.75"/><circle cx="139.8" cy="655.3" r="0.75"/><circle cx="132.5" cy="654.5" r="0.75"/><circle cx="118.3" cy="644.4" r="0.75"/><circle cx="124.3" cy="652.0" r="0.75"/><circle cx="138.8" cy="653.3" r="0.75"/><circle cx="103.6" cy="646.2" r="0.75"/><circle cx="155.3" cy="654.6" r="0.75"/><circle cx="174.6" cy="650.6" r="0.75"/><circle cx="150.7" cy="652.4" r="0.75"/><circle cx="162.0" cy="650.4" r="0.75"/><circle cx="153.0" cy="655.2" r="0.75"/><circle cx="148.2" cy="654.2" r="0.75"/><circle cx="152.9" cy="653.1" r="0.75"/><circle cx="156.5" cy="654.3" r="0.75"/><circle cx="159.0" cy="654.7" r="0.75"/><circle cx="148.9" cy="654.7" r="0.75"/><circle cx="152.7" cy="653.8" r="0.75"/><circle cx="159.7" cy="653.9" r="0.75"/><circle cx="145.5" cy="654.0" r="0.75"/><circle cx="143.4" cy="656.4" r="0.75"/><circle cx="148.5" cy="654.9" r="0.75"/><circle cx="143.2" cy="655.8" r="0.75"/><circle cx="146.3" cy="657.0" r="0.75"/><circle cx="149.3" cy="656.5" r="0.75"/><circle cx="143.6" cy="655.3" r="0.75"/><circle cx="150.0" cy="655.5" r="0.75"/><circle cx="164.5" cy="650.4" r="0.75"/><circle cx="148.2" cy="654.8" r="0.75"/><circle cx="154.9" cy="652.0" r="0.75"/><circle cx="151.7" cy="655.8" r="0.75"/><circle cx="149.6" cy="653.6" r="0.75"/><circle cx="170.4" cy="650.8" r="0.75"/><circle cx="149.3" cy="655.5" r="0.75"/><circle cx="183.3" cy="647.2" r="0.75"/><circle cx="182.2" cy="648.6" r="0.75"/><circle cx="148.6" cy="656.8" r="0.75"/><circle cx="167.0" cy="646.9" r="0.75"/><circle cx="146.5" cy="656.5" r="0.75"/><circle cx="154.8" cy="651.8" r="0.75"/><circle cx="143.6" cy="657.5" r="0.75"/><circle cx="151.6" cy="656.2" r="0.75"/><circle cx="144.4" cy="656.5" r="0.75"/><circle cx="152.8" cy="650.9" r="0.75"/><circle cx="146.4" cy="656.5" r="0.75"/><circle cx="149.0" cy="654.0" r="0.75"/><circle cx="151.2" cy="651.8" r="0.75"/><circle cx="144.9" cy="655.1" r="0.75"/><circle cx="146.3" cy="656.9" r="0.75"/><circle cx="162.4" cy="650.3" r="0.75"/><circle cx="145.0" cy="656.8" r="0.75"/><circle cx="148.6" cy="656.2" r="0.75"/><circle cx="160.5" cy="647.9" r="0.75"/><circle cx="164.0" cy="653.5" r="0.75"/><circle cx="159.9" cy="651.1" r="0.75"/><circle cx="170.1" cy="652.0" r="0.75"/><circle cx="162.1" cy="651.1" r="0.75"/><circle cx="174.5" cy="640.5" r="0.75"/><circle cx="162.9" cy="650.2" r="0.75"/><circle cx="144.9" cy="657.1" r="0.75"/><circle cx="155.4" cy="654.1" r="0.75"/><circle cx="144.1" cy="655.4" r="0.75"/><circle cx="154.0" cy="653.1" r="0.75"/><circle cx="158.9" cy="654.3" r="0.75"/><circle cx="183.3" cy="643.6" r="0.75"/><circle cx="161.3" cy="648.0" r="0.75"/><circle cx="170.6" cy="651.0" r="0.75"/><circle cx="143.1" cy="657.3" r="0.75"/><circle cx="173.9" cy="649.6" r="0.75"/><circle cx="177.9" cy="649.6" r="0.75"/><circle cx="146.0" cy="655.3" r="0.75"/><circle cx="157.8" cy="652.3" r="0.75"/><circle cx="153.4" cy="651.2" r="0.75"/><circle cx="151.5" cy="655.4" r="0.75"/><circle cx="176.4" cy="642.7" r="0.75"/><circle cx="149.7" cy="652.9" r="0.75"/><circle cx="150.8" cy="651.3" r="0.75"/><circle cx="143.9" cy="657.4" r="0.75"/><circle cx="146.4" cy="653.4" r="0.75"/><circle cx="179.6" cy="649.2" r="0.75"/><circle cx="145.0" cy="655.3" r="0.75"/><circle cx="151.1" cy="653.7" r="0.75"/><circle cx="148.7" cy="656.7" r="0.75"/><circle cx="162.8" cy="649.3" r="0.75"/><circle cx="174.5" cy="641.7" r="0.75"/><circle cx="147.1" cy="656.7" r="0.75"/><circle cx="143.4" cy="655.5" r="0.75"/><circle cx="144.5" cy="656.4" r="0.75"/><circle cx="147.1" cy="656.8" r="0.75"/><circle cx="149.9" cy="656.6" r="0.75"/><circle cx="146.1" cy="653.4" r="0.75"/><circle cx="156.7" cy="655.1" r="0.75"/><circle cx="174.2" cy="647.9" r="0.75"/><circle cx="154.4" cy="655.4" r="0.75"/><circle cx="156.1" cy="652.0" r="0.75"/><circle cx="159.2" cy="652.6" r="0.75"/><circle cx="164.8" cy="653.2" r="0.75"/><circle cx="154.7" cy="650.3" r="0.75"/><circle cx="158.4" cy="653.8" r="0.75"/><circle cx="152.3" cy="651.7" r="0.75"/><circle cx="183.3" cy="640.7" r="0.75"/><circle cx="144.3" cy="657.1" r="0.75"/><circle cx="153.1" cy="655.9" r="0.75"/><circle cx="162.0" cy="652.4" r="0.75"/><circle cx="148.2" cy="655.3" r="0.75"/><circle cx="144.4" cy="655.7" r="0.75"/><circle cx="144.7" cy="655.8" r="0.75"/><circle cx="163.1" cy="649.4" r="0.75"/><circle cx="148.6" cy="652.4" r="0.75"/><circle cx="161.5" cy="652.6" r="0.75"/><circle cx="161.7" cy="653.1" r="0.75"/><circle cx="182.1" cy="646.5" r="0.75"/><circle cx="164.7" cy="651.8" r="0.75"/><circle cx="150.7" cy="651.3" r="0.75"/><circle cx="147.8" cy="656.9" r="0.75"/><circle cx="172.6" cy="650.5" r="0.75"/><circle cx="166.8" cy="649.0" r="0.75"/><circle cx="151.7" cy="656.0" r="0.75"/><circle cx="151.5" cy="656.2" r="0.75"/><circle cx="159.0" cy="648.5" r="0.75"/><circle cx="167.2" cy="652.8" r="0.75"/><circle cx="147.9" cy="654.9" r="0.75"/><circle cx="156.7" cy="652.9" r="0.75"/><circle cx="160.7" cy="654.4" r="0.75"/><circle cx="183.3" cy="640.4" r="0.75"/><circle cx="154.9" cy="653.2" r="0.75"/><circle cx="158.7" cy="647.6" r="0.75"/><circle cx="145.1" cy="655.2" r="0.75"/><circle cx="166.3" cy="651.4" r="0.75"/><circle cx="146.7" cy="655.8" r="0.75"/><circle cx="159.1" cy="651.7" r="0.75"/><circle cx="149.3" cy="654.6" r="0.75"/><circle cx="156.0" cy="653.2" r="0.75"/><circle cx="146.7" cy="656.8" r="0.75"/><circle cx="165.5" cy="645.5" r="0.75"/><circle cx="169.2" cy="649.2" r="0.75"/><circle cx="147.3" cy="655.9" r="0.75"/><circle cx="144.5" cy="654.4" r="0.75"/><circle cx="151.9" cy="654.5" r="0.75"/><circle cx="163.1" cy="648.0" r="0.75"/><circle cx="145.9" cy="657.0" r="0.75"/><circle cx="157.4" cy="653.4" r="0.75"/><circle cx="170.3" cy="647.4" r="0.75"/><circle cx="159.4" cy="648.9" r="0.75"/><circle cx="174.2" cy="651.0" r="0.75"/><circle cx="166.0" cy="646.6" r="0.75"/><circle cx="164.3" cy="653.3" r="0.75"/><circle cx="150.0" cy="656.5" r="0.75"/><circle cx="153.3" cy="655.0" r="0.75"/><circle cx="149.5" cy="655.5" r="0.75"/><circle cx="162.0" cy="654.0" r="0.75"/><circle cx="183.3" cy="641.4" r="0.75"/><circle cx="177.6" cy="647.2" r="0.75"/><circle cx="172.5" cy="644.8" r="0.75"/><circle cx="146.9" cy="657.0" r="0.75"/><circle cx="149.6" cy="655.1" r="0.75"/><circle cx="157.3" cy="654.6" r="0.75"/><circle cx="153.3" cy="654.9" r="0.75"/><circle cx="153.9" cy="655.8" r="0.75"/><circle cx="149.4" cy="656.6" r="0.75"/><circle cx="163.5" cy="653.3" r="0.75"/><circle cx="145.5" cy="656.8" r="0.75"/><circle cx="155.9" cy="654.9" r="0.75"/><circle cx="146.5" cy="655.4" r="0.75"/><circle cx="149.1" cy="653.1" r="0.75"/><circle cx="148.0" cy="654.0" r="0.75"/><circle cx="159.6" cy="651.4" r="0.75"/><circle cx="146.3" cy="656.3" r="0.75"/><circle cx="146.4" cy="656.5" r="0.75"/><circle cx="146.1" cy="656.4" r="0.75"/><circle cx="156.4" cy="652.2" r="0.75"/><circle cx="148.6" cy="656.0" r="0.75"/><circle cx="157.3" cy="652.5" r="0.75"/><circle cx="152.5" cy="650.7" r="0.75"/><circle cx="147.8" cy="654.6" r="0.75"/><circle cx="160.0" cy="653.5" r="0.75"/><circle cx="160.6" cy="654.3" r="0.75"/><circle cx="143.4" cy="656.6" r="0.75"/><circle cx="159.1" cy="652.6" r="0.75"/><circle cx="165.7" cy="653.2" r="0.75"/><circle cx="159.2" cy="651.8" r="0.75"/><circle cx="160.9" cy="648.5" r="0.75"/><circle cx="147.1" cy="656.2" r="0.75"/><circle cx="177.5" cy="647.4" r="0.75"/><circle cx="148.6" cy="655.5" r="0.75"/><circle cx="174.0" cy="645.6" r="0.75"/><circle cx="145.1" cy="655.2" r="0.75"/><circle cx="146.7" cy="655.1" r="0.75"/><circle cx="145.6" cy="656.0" r="0.75"/><circle cx="146.3" cy="657.1" r="0.75"/><circle cx="171.3" cy="651.1" r="0.75"/><circle cx="170.1" cy="651.9" r="0.75"/><circle cx="157.2" cy="655.0" r="0.75"/><circle cx="143.2" cy="657.6" r="0.75"/><circle cx="164.4" cy="649.1" r="0.75"/><circle cx="147.5" cy="657.0" r="0.75"/><circle cx="161.5" cy="650.0" r="0.75"/><circle cx="162.1" cy="645.9" r="0.75"/><circle cx="153.7" cy="651.7" r="0.75"/><circle cx="149.3" cy="656.0" r="0.75"/><circle cx="149.6" cy="655.2" r="0.75"/><circle cx="183.3" cy="647.3" r="0.75"/><circle cx="144.7" cy="657.1" r="0.75"/><circle cx="147.8" cy="653.6" r="0.75"/><circle cx="154.7" cy="653.5" r="0.75"/><circle cx="160.2" cy="654.4" r="0.75"/><circle cx="144.0" cy="657.1" r="0.75"/><circle cx="163.0" cy="647.4" r="0.75"/><circle cx="165.2" cy="652.5" r="0.75"/><circle cx="144.4" cy="656.3" r="0.75"/><circle cx="148.0" cy="656.2" r="0.75"/><circle cx="161.7" cy="651.0" r="0.75"/><circle cx="147.1" cy="656.4" r="0.75"/><circle cx="146.4" cy="653.8" r="0.75"/><circle cx="153.4" cy="653.9" r="0.75"/><circle cx="156.6" cy="653.1" r="0.75"/><circle cx="147.4" cy="656.2" r="0.75"/><circle cx="156.4" cy="654.7" r="0.75"/><circle cx="148.7" cy="653.7" r="0.75"/><circle cx="149.6" cy="653.4" r="0.75"/><circle cx="168.3" cy="648.7" r="0.75"/><circle cx="180.3" cy="646.4" r="0.75"/><circle cx="153.8" cy="651.1" r="0.75"/><circle cx="159.5" cy="651.3" r="0.75"/><circle cx="149.1" cy="656.7" r="0.75"/><circle cx="147.0" cy="655.4" r="0.75"/><circle cx="147.7" cy="656.8" r="0.75"/><circle cx="161.8" cy="648.7" r="0.75"/><circle cx="152.9" cy="654.4" r="0.75"/><circle cx="154.4" cy="655.0" r="0.75"/><circle cx="165.1" cy="652.8" r="0.75"/><circle cx="147.8" cy="653.2" r="0.75"/><circle cx="150.8" cy="656.1" r="0.75"/><circle cx="148.8" cy="653.8" r="0.75"/><circle cx="147.2" cy="653.2" r="0.75"/><circle cx="163.9" cy="652.9" r="0.75"/><circle cx="155.3" cy="650.2" r="0.75"/><circle cx="160.6" cy="650.8" r="0.75"/><circle cx="95.6" cy="629.9" r="0.75"/><circle cx="94.1" cy="626.4" r="0.75"/><circle cx="120.1" cy="648.3" r="0.75"/><circle cx="149.9" cy="654.5" r="0.75"/><circle cx="147.7" cy="655.7" r="0.75"/><circle cx="183.9" cy="639.2" r="0.75"/><circle cx="176.6" cy="644.7" r="0.75"/><circle cx="172.3" cy="637.1" r="0.75"/><circle cx="130.2" cy="653.4" r="0.75"/><circle cx="129.0" cy="649.8" r="0.75"/><circle cx="112.8" cy="641.7" r="0.75"/><circle cx="99.5" cy="636.0" r="0.75"/><circle cx="165.0" cy="646.8" r="0.75"/><circle cx="159.9" cy="651.3" r="0.75"/><circle cx="175.3" cy="645.6" r="0.75"/><circle cx="185.1" cy="628.0" r="0.75"/><circle cx="186.8" cy="634.6" r="0.75"/><circle cx="119.8" cy="647.1" r="0.75"/><circle cx="167.3" cy="645.1" r="0.75"/><circle cx="185.8" cy="642.2" r="0.75"/><circle cx="139.8" cy="655.7" r="0.75"/><circle cx="151.5" cy="653.0" r="0.75"/><circle cx="98.9" cy="641.1" r="0.75"/><circle cx="117.8" cy="641.1" r="0.75"/><circle cx="177.1" cy="643.6" r="0.75"/><circle cx="185.2" cy="643.3" r="0.75"/><circle cx="151.6" cy="651.5" r="0.75"/><circle cx="125.3" cy="645.7" r="0.75"/><circle cx="157.6" cy="652.5" r="0.75"/><circle cx="124.2" cy="648.4" r="0.75"/><circle cx="115.3" cy="641.0" r="0.75"/><circle cx="108.3" cy="636.1" r="0.75"/><circle cx="120.6" cy="649.8" r="0.75"/><circle cx="147.5" cy="655.9" r="0.75"/><circle cx="146.7" cy="655.2" r="0.75"/><circle cx="151.3" cy="653.4" r="0.75"/><circle cx="93.3" cy="632.0" r="0.75"/><circle cx="99.8" cy="633.2" r="0.75"/><circle cx="103.4" cy="636.2" r="0.75"/><circle cx="56.0" cy="642.0" r="0.75"/><circle cx="77.5" cy="632.3" r="0.75"/><circle cx="83.8" cy="638.0" r="0.75"/><circle cx="93.8" cy="623.0" r="0.75"/><circle cx="97.7" cy="630.8" r="0.75"/><circle cx="83.8" cy="645.5" r="0.75"/><circle cx="69.0" cy="648.0" r="0.75"/><circle cx="92.0" cy="650.0" r="0.75"/><circle cx="101.0" cy="651.0" r="0.75"/><circle cx="104.0" cy="640.0" r="0.75"/><circle cx="110.0" cy="632.0" r="0.75"/><circle cx="108.0" cy="636.0" r="0.75"/><circle cx="96.0" cy="645.0" r="0.75"/><circle cx="119.0" cy="622.0" r="0.75"/><circle cx="206.0" cy="547.0" r="0.75"/><circle cx="184.8" cy="617.5" r="0.75"/><circle cx="184.8" cy="620.0" r="0.75"/><circle cx="184.8" cy="623.8" r="0.75"/><circle cx="187.7" cy="610.4" r="0.75"/><circle cx="191.0" cy="620.4" r="0.75"/><circle cx="198.3" cy="620.6" r="0.75"/><circle cx="200.2" cy="629.2" r="0.75"/><circle cx="175.0" cy="637.0" r="0.75"/><circle cx="180.0" cy="640.0" r="0.75"/><circle cx="183.0" cy="636.0" r="0.75"/><circle cx="190.0" cy="646.0" r="0.75"/><circle cx="192.0" cy="642.0" r="0.75"/><circle cx="187.0" cy="650.0" r="0.75"/><circle cx="196.0" cy="645.0" r="0.75"/><circle cx="170.0" cy="641.0" r="0.75"/><circle cx="165.0" cy="645.0" r="0.75"/><circle cx="178.0" cy="648.0" r="0.75"/><circle cx="114.0" cy="654.0" r="0.75"/><circle cx="103.0" cy="658.0" r="0.75"/><circle cx="62.0" cy="656.0" r="0.75"/><circle cx="115.0" cy="646.0" r="0.75"/></g>
<text font-size="8.48" text-anchor="start" fill="#2a2a2a" stroke="#2a2a2a" stroke-width="0.22" font-weight="normal" font-style="normal"  transform="translate(143.00,558.00) scale(0.9434,1)">GATA::TAL1</text>
<text font-size="8.48" text-anchor="start" fill="#2a2a2a" stroke="#2a2a2a" stroke-width="0.22" font-weight="normal" font-style="normal"  transform="translate(182.00,573.60) scale(0.9434,1)">NFKB2</text>
<text font-size="8.48" text-anchor="start" fill="#2a2a2a" stroke="#2a2a2a" stroke-width="0.22" font-weight="normal" font-style="normal"  transform="translate(191.00,581.00) scale(0.9434,1)">NFKB1</text>
<text font-size="8.48" text-anchor="start" fill="#2a2a2a" stroke="#2a2a2a" stroke-width="0.22" font-weight="normal" font-style="normal"  transform="translate(161.00,590.80) scale(0.9434,1)">GATA2</text>
<text font-size="8.48" text-anchor="start" fill="#2a2a2a" stroke="#2a2a2a" stroke-width="0.22" font-weight="normal" font-style="normal"  transform="translate(156.00,600.40) scale(0.9434,1)">GATA3</text>
<text font-size="8.48" text-anchor="start" fill="#2a2a2a" stroke="#2a2a2a" stroke-width="0.22" font-weight="normal" font-style="normal"  transform="translate(201.50,599.40) scale(0.9434,1)">IRF4</text>
<text font-size="8.48" text-anchor="start" fill="#2a2a2a" stroke="#2a2a2a" stroke-width="0.22" font-weight="normal" font-style="normal"  transform="translate(140.60,614.70) scale(0.9434,1)">GATA4</text>
<text font-size="8.48" text-anchor="start" fill="#2a2a2a" stroke="#2a2a2a" stroke-width="0.22" font-weight="normal" font-style="normal"  transform="translate(140.60,622.50) scale(0.9434,1)">GATA6</text>
<text font-size="8.48" text-anchor="start" fill="#2a2a2a" stroke="#2a2a2a" stroke-width="0.22" font-weight="normal" font-style="normal"  transform="translate(142.00,630.60) scale(0.9434,1)">GATA5</text>
<text font-size="8.48" text-anchor="start" fill="#2a2a2a" stroke="#2a2a2a" stroke-width="0.22" font-weight="normal" font-style="normal"  transform="translate(77.50,609.20) scale(0.9434,1)">ZBTB14</text>
<text font-size="8.48" text-anchor="start" fill="#2a2a2a" stroke="#2a2a2a" stroke-width="0.22" font-weight="normal" font-style="normal"  transform="translate(49.60,618.50) scale(0.9434,1)">TCFL5</text>
<text font-size="8.48" text-anchor="start" fill="#2a2a2a" stroke="#2a2a2a" stroke-width="0.22" font-weight="normal" font-style="normal"  transform="translate(71.70,618.20) scale(0.9434,1)">PAX5</text>
<text font-size="8.48" text-anchor="start" fill="#2a2a2a" stroke="#2a2a2a" stroke-width="0.22" font-weight="normal" font-style="normal"  transform="translate(95.80,618.80) scale(0.9434,1)">PBX2</text>
<text font-size="8.48" text-anchor="start" fill="#2a2a2a" stroke="#2a2a2a" stroke-width="0.22" font-weight="normal" font-style="normal"  transform="translate(49.60,631.30) scale(0.9434,1)">PAX3</text>
<line x1="187.70" y1="555.20" x2="203.00" y2="548.00" stroke="#555" stroke-width="0.7"/>
<line x1="188.60" y1="575.40" x2="189.80" y2="612.50" stroke="#555" stroke-width="0.7"/>
<line x1="200.20" y1="585.00" x2="198.30" y2="613.80" stroke="#555" stroke-width="0.7"/>
<line x1="204.00" y1="600.40" x2="202.00" y2="614.00" stroke="#555" stroke-width="0.7"/>
<line x1="182.90" y1="591.70" x2="187.70" y2="609.00" stroke="#555" stroke-width="0.7"/>
<line x1="179.00" y1="600.40" x2="185.80" y2="611.00" stroke="#555" stroke-width="0.7"/>
<line x1="167.50" y1="612.70" x2="182.00" y2="616.00" stroke="#555" stroke-width="0.7"/>
<line x1="169.40" y1="619.60" x2="182.90" y2="620.20" stroke="#555" stroke-width="0.7"/>
<line x1="169.40" y1="628.00" x2="183.50" y2="624.20" stroke="#555" stroke-width="0.7"/>
<line x1="56.00" y1="633.30" x2="56.00" y2="638.50" stroke="#555" stroke-width="0.7"/>
<line x1="68.80" y1="620.80" x2="76.50" y2="630.80" stroke="#555" stroke-width="0.7"/>
<line x1="80.40" y1="619.80" x2="83.30" y2="636.20" stroke="#555" stroke-width="0.7"/>
<line x1="92.90" y1="610.50" x2="93.80" y2="620.80" stroke="#555" stroke-width="0.7"/>
<line x1="104.40" y1="622.70" x2="98.70" y2="629.40" stroke="#555" stroke-width="0.7"/>
<text font-size="11.00" text-anchor="start" fill="#111" font-weight="bold" font-style="normal"  transform="translate(232.00,526.20) scale(1.0000,1)">H</text>
<text font-size="10.75" text-anchor="middle" fill="#2a2a2a" stroke="#2a2a2a" stroke-width="0.22" font-weight="normal" font-style="normal"  transform="translate(359.50,525.20) scale(0.9259,1)">Motif enrichment DKO</text>
<text font-size="10.75" text-anchor="middle" fill="#2a2a2a" stroke="#2a2a2a" stroke-width="0.22" font-weight="normal" font-style="normal"  transform="translate(359.50,535.80) scale(0.9259,1)">vs control (C6-C8)</text>
<line x1="274.20" y1="541.50" x2="274.20" y2="664.30" stroke="#2a2a2a" stroke-width="1.1"/>
<line x1="273.70" y1="663.80" x2="442.00" y2="663.80" stroke="#2a2a2a" stroke-width="1.1"/>
<line x1="271.20" y1="564.20" x2="274.20" y2="564.20" stroke="#2a2a2a" stroke-width="1"/>
<text font-size="8.42" text-anchor="end" fill="#2a2a2a" stroke="#2a2a2a" stroke-width="0.22" font-weight="normal" font-style="normal"  transform="translate(269.20,567.00) scale(0.9259,1)">20</text>
<line x1="271.20" y1="587.65" x2="274.20" y2="587.65" stroke="#2a2a2a" stroke-width="1"/>
<text font-size="8.42" text-anchor="end" fill="#2a2a2a" stroke="#2a2a2a" stroke-width="0.22" font-weight="normal" font-style="normal"  transform="translate(269.20,590.45) scale(0.9259,1)">15</text>
<line x1="271.20" y1="611.10" x2="274.20" y2="611.10" stroke="#2a2a2a" stroke-width="1"/>
<text font-size="8.42" text-anchor="end" fill="#2a2a2a" stroke="#2a2a2a" stroke-width="0.22" font-weight="normal" font-style="normal"  transform="translate(269.20,613.90) scale(0.9259,1)">10</text>
<line x1="271.20" y1="634.55" x2="274.20" y2="634.55" stroke="#2a2a2a" stroke-width="1"/>
<text font-size="8.42" text-anchor="end" fill="#2a2a2a" stroke="#2a2a2a" stroke-width="0.22" font-weight="normal" font-style="normal"  transform="translate(269.20,637.35) scale(0.9259,1)">5</text>
<line x1="271.20" y1="658.00" x2="274.20" y2="658.00" stroke="#2a2a2a" stroke-width="1"/>
<text font-size="8.42" text-anchor="end" fill="#2a2a2a" stroke="#2a2a2a" stroke-width="0.22" font-weight="normal" font-style="normal"  transform="translate(269.20,660.80) scale(0.9259,1)">0</text>
<line x1="272.40" y1="646.27" x2="274.20" y2="646.27" stroke="#2a2a2a" stroke-width="0.9"/>
<line x1="272.40" y1="622.83" x2="274.20" y2="622.83" stroke="#2a2a2a" stroke-width="0.9"/>
<line x1="272.40" y1="599.38" x2="274.20" y2="599.38" stroke="#2a2a2a" stroke-width="0.9"/>
<line x1="272.40" y1="575.92" x2="274.20" y2="575.92" stroke="#2a2a2a" stroke-width="0.9"/>
<line x1="272.40" y1="552.48" x2="274.20" y2="552.48" stroke="#2a2a2a" stroke-width="0.9"/>
<line x1="313.70" y1="663.80" x2="313.70" y2="666.80" stroke="#2a2a2a" stroke-width="1"/>
<text font-size="8.42" text-anchor="middle" fill="#2a2a2a" stroke="#2a2a2a" stroke-width="0.22" font-weight="normal" font-style="normal"  transform="translate(312.10,676.00) scale(0.9259,1)">−2</text>
<line x1="355.70" y1="663.80" x2="355.70" y2="666.80" stroke="#2a2a2a" stroke-width="1"/>
<text font-size="8.42" text-anchor="middle" fill="#2a2a2a" stroke="#2a2a2a" stroke-width="0.22" font-weight="normal" font-style="normal"  transform="translate(355.70,676.00) scale(0.9259,1)">0</text>
<line x1="397.70" y1="663.80" x2="397.70" y2="666.80" stroke="#2a2a2a" stroke-width="1"/>
<text font-size="8.42" text-anchor="middle" fill="#2a2a2a" stroke="#2a2a2a" stroke-width="0.22" font-weight="normal" font-style="normal"  transform="translate(397.70,676.00) scale(0.9259,1)">2</text>
<line x1="439.70" y1="663.80" x2="439.70" y2="666.80" stroke="#2a2a2a" stroke-width="1"/>
<text font-size="8.42" text-anchor="middle" fill="#2a2a2a" stroke="#2a2a2a" stroke-width="0.22" font-weight="normal" font-style="normal"  transform="translate(439.70,676.00) scale(0.9259,1)">4</text>
<line x1="292.70" y1="663.80" x2="292.70" y2="665.60" stroke="#2a2a2a" stroke-width="0.9"/>
<line x1="334.70" y1="663.80" x2="334.70" y2="665.60" stroke="#2a2a2a" stroke-width="0.9"/>
<line x1="376.70" y1="663.80" x2="376.70" y2="665.60" stroke="#2a2a2a" stroke-width="0.9"/>
<line x1="418.70" y1="663.80" x2="418.70" y2="665.60" stroke="#2a2a2a" stroke-width="0.9"/>
<text font-size="8.97" text-anchor="middle" fill="#2a2a2a" stroke="#2a2a2a" stroke-width="0.22" font-weight="normal" font-style="normal" transform="translate(252.0,602.0) rotate(-90) translate(0.00,0.00) scale(0.8475,1)">-Log<tspan font-size="5.4" dy="2">10</tspan><tspan dy="-2"> </tspan><tspan font-style="italic">P</tspan>-value</text>
<text font-size="8.97" text-anchor="middle" fill="#2a2a2a" stroke="#2a2a2a" stroke-width="0.22" font-weight="normal" font-style="normal"  transform="translate(359.00,689.00) scale(0.8475,1)">Log<tspan font-size="5.4" dy="2">2</tspan><tspan dy="-2"> (fold change)</tspan></text>
<g fill="#c80a30" opacity="0.9"><circle cx="347.1" cy="654.7" r="0.75"/><circle cx="344.3" cy="656.7" r="0.75"/><circle cx="338.8" cy="655.1" r="0.75"/><circle cx="325.0" cy="645.9" r="0.75"/><circle cx="343.9" cy="656.7" r="0.75"/><circle cx="343.7" cy="656.8" r="0.75"/><circle cx="350.4" cy="656.3" r="0.75"/><circle cx="350.6" cy="656.2" r="0.75"/><circle cx="343.5" cy="656.6" r="0.75"/><circle cx="344.6" cy="655.0" r="0.75"/><circle cx="341.7" cy="656.2" r="0.75"/><circle cx="355.1" cy="657.3" r="0.75"/><circle cx="353.5" cy="657.6" r="0.75"/><circle cx="348.4" cy="653.6" r="0.75"/><circle cx="324.8" cy="654.1" r="0.75"/><circle cx="355.4" cy="655.4" r="0.75"/><circle cx="329.8" cy="651.2" r="0.75"/><circle cx="353.8" cy="656.1" r="0.75"/><circle cx="352.5" cy="657.6" r="0.75"/><circle cx="331.4" cy="654.2" r="0.75"/><circle cx="341.3" cy="654.4" r="0.75"/><circle cx="352.9" cy="657.4" r="0.75"/><circle cx="350.9" cy="656.0" r="0.75"/><circle cx="351.8" cy="657.4" r="0.75"/><circle cx="334.4" cy="650.9" r="0.75"/><circle cx="341.2" cy="656.5" r="0.75"/><circle cx="355.2" cy="655.1" r="0.75"/><circle cx="335.8" cy="655.8" r="0.75"/><circle cx="339.1" cy="651.1" r="0.75"/><circle cx="340.4" cy="655.3" r="0.75"/><circle cx="349.6" cy="653.7" r="0.75"/><circle cx="340.5" cy="656.5" r="0.75"/><circle cx="341.6" cy="655.2" r="0.75"/><circle cx="350.2" cy="657.5" r="0.75"/><circle cx="354.9" cy="656.4" r="0.75"/><circle cx="331.8" cy="654.9" r="0.75"/><circle cx="351.2" cy="657.4" r="0.75"/><circle cx="349.0" cy="657.1" r="0.75"/><circle cx="336.1" cy="647.8" r="0.75"/><circle cx="324.2" cy="646.5" r="0.75"/><circle cx="338.6" cy="651.4" r="0.75"/><circle cx="353.5" cy="655.0" r="0.75"/><circle cx="355.5" cy="657.8" r="0.75"/><circle cx="334.8" cy="651.9" r="0.75"/><circle cx="341.1" cy="656.4" r="0.75"/><circle cx="334.4" cy="650.8" r="0.75"/><circle cx="350.6" cy="653.7" r="0.75"/><circle cx="348.6" cy="655.0" r="0.75"/><circle cx="355.5" cy="655.9" r="0.75"/><circle cx="347.8" cy="652.9" r="0.75"/><circle cx="335.6" cy="649.8" r="0.75"/><circle cx="342.0" cy="652.2" r="0.75"/><circle cx="342.5" cy="652.1" r="0.75"/><circle cx="347.2" cy="653.9" r="0.75"/><circle cx="347.2" cy="652.5" r="0.75"/><circle cx="346.7" cy="655.4" r="0.75"/><circle cx="348.8" cy="653.0" r="0.75"/><circle cx="353.3" cy="655.5" r="0.75"/><circle cx="355.3" cy="657.7" r="0.75"/><circle cx="327.6" cy="653.9" r="0.75"/><circle cx="345.3" cy="655.4" r="0.75"/><circle cx="352.9" cy="654.8" r="0.75"/><circle cx="346.6" cy="656.1" r="0.75"/><circle cx="334.4" cy="650.0" r="0.75"/><circle cx="349.7" cy="653.5" r="0.75"/><circle cx="334.3" cy="649.4" r="0.75"/><circle cx="350.5" cy="655.6" r="0.75"/><circle cx="352.2" cy="655.0" r="0.75"/><circle cx="345.2" cy="652.9" r="0.75"/><circle cx="339.0" cy="651.3" r="0.75"/><circle cx="338.7" cy="656.2" r="0.75"/><circle cx="355.2" cy="657.9" r="0.75"/><circle cx="349.9" cy="655.7" r="0.75"/><circle cx="341.6" cy="654.8" r="0.75"/><circle cx="350.5" cy="656.9" r="0.75"/><circle cx="346.9" cy="653.4" r="0.75"/><circle cx="346.8" cy="657.1" r="0.75"/><circle cx="347.4" cy="656.7" r="0.75"/><circle cx="350.9" cy="655.6" r="0.75"/><circle cx="340.6" cy="651.7" r="0.75"/><circle cx="339.5" cy="656.3" r="0.75"/><circle cx="340.4" cy="651.5" r="0.75"/><circle cx="351.0" cy="653.9" r="0.75"/><circle cx="345.0" cy="656.0" r="0.75"/><circle cx="350.7" cy="655.8" r="0.75"/><circle cx="325.2" cy="645.1" r="0.75"/><circle cx="342.1" cy="650.7" r="0.75"/><circle cx="345.0" cy="655.2" r="0.75"/><circle cx="346.2" cy="653.3" r="0.75"/><circle cx="355.0" cy="657.8" r="0.75"/><circle cx="355.3" cy="657.8" r="0.75"/><circle cx="355.6" cy="655.4" r="0.75"/><circle cx="330.0" cy="654.0" r="0.75"/><circle cx="348.2" cy="656.6" r="0.75"/><circle cx="340.7" cy="651.2" r="0.75"/><circle cx="344.7" cy="655.1" r="0.75"/><circle cx="331.6" cy="647.5" r="0.75"/><circle cx="332.1" cy="650.7" r="0.75"/><circle cx="337.4" cy="654.1" r="0.75"/><circle cx="346.3" cy="652.2" r="0.75"/><circle cx="341.7" cy="653.6" r="0.75"/><circle cx="339.2" cy="654.9" r="0.75"/><circle cx="333.8" cy="648.2" r="0.75"/><circle cx="352.6" cy="656.7" r="0.75"/><circle cx="329.4" cy="654.8" r="0.75"/><circle cx="325.3" cy="646.2" r="0.75"/><circle cx="348.1" cy="656.1" r="0.75"/><circle cx="338.5" cy="651.6" r="0.75"/><circle cx="337.3" cy="651.3" r="0.75"/><circle cx="340.7" cy="656.5" r="0.75"/><circle cx="352.1" cy="654.3" r="0.75"/><circle cx="348.6" cy="653.5" r="0.75"/><circle cx="343.7" cy="654.5" r="0.75"/><circle cx="340.3" cy="656.4" r="0.75"/><circle cx="336.7" cy="652.2" r="0.75"/><circle cx="340.4" cy="655.7" r="0.75"/><circle cx="354.7" cy="656.9" r="0.75"/><circle cx="343.5" cy="655.5" r="0.75"/><circle cx="334.6" cy="649.8" r="0.75"/><circle cx="352.8" cy="656.0" r="0.75"/><circle cx="328.1" cy="649.0" r="0.75"/><circle cx="329.9" cy="649.8" r="0.75"/><circle cx="354.2" cy="656.7" r="0.75"/><circle cx="347.1" cy="653.6" r="0.75"/><circle cx="352.0" cy="657.6" r="0.75"/><circle cx="342.6" cy="654.7" r="0.75"/><circle cx="349.4" cy="654.8" r="0.75"/><circle cx="349.6" cy="657.3" r="0.75"/><circle cx="353.8" cy="657.5" r="0.75"/><circle cx="351.2" cy="656.9" r="0.75"/><circle cx="324.2" cy="653.4" r="0.75"/><circle cx="347.9" cy="656.7" r="0.75"/><circle cx="346.6" cy="656.4" r="0.75"/><circle cx="352.3" cy="656.9" r="0.75"/><circle cx="346.8" cy="656.2" r="0.75"/><circle cx="348.5" cy="656.5" r="0.75"/><circle cx="344.4" cy="656.6" r="0.75"/><circle cx="353.1" cy="654.9" r="0.75"/><circle cx="329.1" cy="650.2" r="0.75"/><circle cx="347.1" cy="653.9" r="0.75"/><circle cx="352.4" cy="655.5" r="0.75"/><circle cx="347.9" cy="656.0" r="0.75"/><circle cx="335.3" cy="650.6" r="0.75"/><circle cx="347.8" cy="656.8" r="0.75"/><circle cx="334.3" cy="652.7" r="0.75"/><circle cx="330.8" cy="653.9" r="0.75"/><circle cx="347.9" cy="654.2" r="0.75"/><circle cx="347.4" cy="657.3" r="0.75"/><circle cx="346.9" cy="656.4" r="0.75"/><circle cx="338.9" cy="649.6" r="0.75"/><circle cx="354.6" cy="657.9" r="0.75"/><circle cx="344.8" cy="654.9" r="0.75"/><circle cx="355.2" cy="657.3" r="0.75"/><circle cx="333.6" cy="649.4" r="0.75"/><circle cx="346.1" cy="654.6" r="0.75"/><circle cx="347.6" cy="652.6" r="0.75"/><circle cx="340.7" cy="652.0" r="0.75"/><circle cx="338.9" cy="654.7" r="0.75"/><circle cx="333.2" cy="654.0" r="0.75"/><circle cx="346.8" cy="656.2" r="0.75"/><circle cx="351.0" cy="657.4" r="0.75"/><circle cx="342.9" cy="651.8" r="0.75"/><circle cx="338.2" cy="652.4" r="0.75"/><circle cx="352.2" cy="654.6" r="0.75"/><circle cx="346.8" cy="657.2" r="0.75"/><circle cx="345.8" cy="655.9" r="0.75"/><circle cx="327.0" cy="649.2" r="0.75"/><circle cx="355.3" cy="656.8" r="0.75"/><circle cx="339.9" cy="655.6" r="0.75"/><circle cx="344.8" cy="652.7" r="0.75"/><circle cx="366.7" cy="657.0" r="0.75"/><circle cx="400.5" cy="645.5" r="0.75"/><circle cx="356.4" cy="655.9" r="0.75"/><circle cx="384.1" cy="647.2" r="0.75"/><circle cx="357.7" cy="656.6" r="0.75"/><circle cx="400.5" cy="641.6" r="0.75"/><circle cx="381.3" cy="650.7" r="0.75"/><circle cx="383.4" cy="651.1" r="0.75"/><circle cx="357.1" cy="656.8" r="0.75"/><circle cx="364.6" cy="654.1" r="0.75"/><circle cx="358.1" cy="657.7" r="0.75"/><circle cx="372.2" cy="656.5" r="0.75"/><circle cx="385.1" cy="648.3" r="0.75"/><circle cx="414.3" cy="646.8" r="0.75"/><circle cx="358.6" cy="655.6" r="0.75"/><circle cx="364.6" cy="656.7" r="0.75"/><circle cx="389.7" cy="653.8" r="0.75"/><circle cx="356.4" cy="657.7" r="0.75"/><circle cx="380.1" cy="652.5" r="0.75"/><circle cx="365.2" cy="654.1" r="0.75"/><circle cx="399.6" cy="652.2" r="0.75"/><circle cx="366.8" cy="656.8" r="0.75"/><circle cx="370.8" cy="655.8" r="0.75"/><circle cx="371.7" cy="654.3" r="0.75"/><circle cx="364.3" cy="657.1" r="0.75"/><circle cx="397.7" cy="643.4" r="0.75"/><circle cx="366.5" cy="657.2" r="0.75"/><circle cx="383.7" cy="649.0" r="0.75"/><circle cx="383.9" cy="652.9" r="0.75"/><circle cx="360.8" cy="657.7" r="0.75"/><circle cx="382.2" cy="651.7" r="0.75"/><circle cx="384.0" cy="653.1" r="0.75"/><circle cx="387.8" cy="653.6" r="0.75"/><circle cx="358.1" cy="655.6" r="0.75"/><circle cx="399.3" cy="640.3" r="0.75"/><circle cx="356.9" cy="657.6" r="0.75"/><circle cx="365.0" cy="656.1" r="0.75"/><circle cx="356.5" cy="657.9" r="0.75"/><circle cx="390.8" cy="647.9" r="0.75"/><circle cx="366.1" cy="656.0" r="0.75"/><circle cx="364.2" cy="656.5" r="0.75"/><circle cx="368.8" cy="656.3" r="0.75"/><circle cx="369.2" cy="655.1" r="0.75"/><circle cx="392.7" cy="650.8" r="0.75"/><circle cx="367.9" cy="656.7" r="0.75"/><circle cx="391.4" cy="652.7" r="0.75"/><circle cx="390.6" cy="643.6" r="0.75"/><circle cx="369.6" cy="653.4" r="0.75"/><circle cx="407.1" cy="642.5" r="0.75"/><circle cx="373.0" cy="652.7" r="0.75"/><circle cx="370.8" cy="656.8" r="0.75"/><circle cx="362.0" cy="654.6" r="0.75"/><circle cx="361.7" cy="657.3" r="0.75"/><circle cx="389.2" cy="652.4" r="0.75"/><circle cx="373.3" cy="649.9" r="0.75"/><circle cx="385.0" cy="653.6" r="0.75"/><circle cx="370.1" cy="655.8" r="0.75"/><circle cx="359.8" cy="655.0" r="0.75"/><circle cx="364.6" cy="657.3" r="0.75"/><circle cx="380.8" cy="655.3" r="0.75"/><circle cx="379.5" cy="653.4" r="0.75"/><circle cx="390.2" cy="643.4" r="0.75"/><circle cx="392.2" cy="650.5" r="0.75"/><circle cx="378.3" cy="650.1" r="0.75"/><circle cx="363.7" cy="655.9" r="0.75"/><circle cx="364.1" cy="656.1" r="0.75"/><circle cx="360.4" cy="657.8" r="0.75"/><circle cx="373.5" cy="650.7" r="0.75"/><circle cx="370.1" cy="651.1" r="0.75"/><circle cx="412.1" cy="646.2" r="0.75"/><circle cx="358.3" cy="655.8" r="0.75"/><circle cx="379.3" cy="649.6" r="0.75"/><circle cx="358.3" cy="657.7" r="0.75"/><circle cx="358.6" cy="656.6" r="0.75"/><circle cx="358.1" cy="655.8" r="0.75"/><circle cx="358.0" cy="656.0" r="0.75"/><circle cx="362.7" cy="654.3" r="0.75"/><circle cx="357.3" cy="657.0" r="0.75"/><circle cx="375.0" cy="653.1" r="0.75"/><circle cx="364.9" cy="653.6" r="0.75"/><circle cx="390.0" cy="653.3" r="0.75"/><circle cx="359.0" cy="657.6" r="0.75"/><circle cx="375.4" cy="656.0" r="0.75"/><circle cx="368.9" cy="654.7" r="0.75"/><circle cx="367.0" cy="655.8" r="0.75"/><circle cx="367.2" cy="655.1" r="0.75"/><circle cx="380.5" cy="653.4" r="0.75"/><circle cx="384.3" cy="654.9" r="0.75"/><circle cx="357.0" cy="657.2" r="0.75"/><circle cx="363.6" cy="656.6" r="0.75"/><circle cx="373.5" cy="655.8" r="0.75"/><circle cx="389.5" cy="649.1" r="0.75"/><circle cx="365.4" cy="657.2" r="0.75"/><circle cx="381.2" cy="648.1" r="0.75"/><circle cx="362.8" cy="657.2" r="0.75"/><circle cx="360.8" cy="654.2" r="0.75"/><circle cx="358.9" cy="655.8" r="0.75"/><circle cx="379.6" cy="649.7" r="0.75"/><circle cx="382.2" cy="655.2" r="0.75"/><circle cx="385.3" cy="654.6" r="0.75"/><circle cx="398.7" cy="652.6" r="0.75"/><circle cx="362.2" cy="657.6" r="0.75"/><circle cx="359.0" cy="657.6" r="0.75"/><circle cx="411.4" cy="642.1" r="0.75"/><circle cx="386.9" cy="645.9" r="0.75"/><circle cx="370.3" cy="656.2" r="0.75"/><circle cx="358.3" cy="656.0" r="0.75"/><circle cx="359.5" cy="657.8" r="0.75"/><circle cx="393.2" cy="652.9" r="0.75"/><circle cx="362.1" cy="654.9" r="0.75"/><circle cx="370.8" cy="656.6" r="0.75"/><circle cx="380.4" cy="649.9" r="0.75"/><circle cx="397.1" cy="652.9" r="0.75"/><circle cx="390.1" cy="645.9" r="0.75"/><circle cx="397.8" cy="648.8" r="0.75"/><circle cx="371.1" cy="654.0" r="0.75"/><circle cx="391.6" cy="653.7" r="0.75"/><circle cx="379.9" cy="655.5" r="0.75"/><circle cx="374.9" cy="654.8" r="0.75"/><circle cx="361.3" cy="657.7" r="0.75"/><circle cx="355.9" cy="656.3" r="0.75"/><circle cx="361.0" cy="655.1" r="0.75"/><circle cx="367.6" cy="654.6" r="0.75"/><circle cx="358.9" cy="657.6" r="0.75"/><circle cx="366.2" cy="652.5" r="0.75"/><circle cx="360.7" cy="656.5" r="0.75"/><circle cx="362.1" cy="655.3" r="0.75"/><circle cx="364.3" cy="654.1" r="0.75"/><circle cx="362.2" cy="656.9" r="0.75"/><circle cx="364.8" cy="656.8" r="0.75"/><circle cx="356.8" cy="656.9" r="0.75"/><circle cx="369.3" cy="651.4" r="0.75"/><circle cx="356.0" cy="658.0" r="0.75"/><circle cx="358.5" cy="657.8" r="0.75"/><circle cx="367.2" cy="655.4" r="0.75"/><circle cx="386.2" cy="652.1" r="0.75"/><circle cx="383.4" cy="650.7" r="0.75"/><circle cx="373.9" cy="650.5" r="0.75"/><circle cx="360.4" cy="654.8" r="0.75"/><circle cx="398.5" cy="643.1" r="0.75"/><circle cx="357.0" cy="656.6" r="0.75"/><circle cx="361.6" cy="654.8" r="0.75"/><circle cx="400.6" cy="651.6" r="0.75"/><circle cx="376.6" cy="649.3" r="0.75"/><circle cx="391.0" cy="652.9" r="0.75"/><circle cx="369.2" cy="656.2" r="0.75"/><circle cx="368.1" cy="657.0" r="0.75"/><circle cx="373.1" cy="654.8" r="0.75"/><circle cx="390.6" cy="644.3" r="0.75"/><circle cx="359.9" cy="655.7" r="0.75"/><circle cx="396.0" cy="645.6" r="0.75"/><circle cx="422.0" cy="646.1" r="0.75"/><circle cx="355.7" cy="658.0" r="0.75"/><circle cx="380.6" cy="654.8" r="0.75"/><circle cx="396.8" cy="651.1" r="0.75"/><circle cx="391.3" cy="646.7" r="0.75"/><circle cx="363.6" cy="654.6" r="0.75"/><circle cx="405.8" cy="646.3" r="0.75"/><circle cx="391.4" cy="652.3" r="0.75"/><circle cx="383.3" cy="651.0" r="0.75"/><circle cx="375.8" cy="649.3" r="0.75"/><circle cx="377.9" cy="655.5" r="0.75"/><circle cx="390.0" cy="650.3" r="0.75"/><circle cx="362.5" cy="654.0" r="0.75"/><circle cx="400.4" cy="645.2" r="0.75"/><circle cx="385.1" cy="645.8" r="0.75"/><circle cx="369.8" cy="656.2" r="0.75"/><circle cx="364.6" cy="653.6" r="0.75"/><circle cx="374.4" cy="652.4" r="0.75"/><circle cx="357.3" cy="655.3" r="0.75"/><circle cx="367.3" cy="654.4" r="0.75"/><circle cx="378.9" cy="651.4" r="0.75"/><circle cx="356.7" cy="657.7" r="0.75"/><circle cx="396.1" cy="651.9" r="0.75"/><circle cx="392.2" cy="652.9" r="0.75"/><circle cx="362.1" cy="657.2" r="0.75"/><circle cx="389.5" cy="649.8" r="0.75"/><circle cx="363.4" cy="655.4" r="0.75"/><circle cx="386.1" cy="653.4" r="0.75"/><circle cx="377.2" cy="655.9" r="0.75"/><circle cx="359.5" cy="657.2" r="0.75"/><circle cx="357.4" cy="657.8" r="0.75"/><circle cx="377.1" cy="648.8" r="0.75"/><circle cx="374.0" cy="652.7" r="0.75"/><circle cx="361.8" cy="657.4" r="0.75"/><circle cx="396.6" cy="652.7" r="0.75"/><circle cx="363.8" cy="655.2" r="0.75"/><circle cx="379.1" cy="653.7" r="0.75"/><circle cx="357.2" cy="655.6" r="0.75"/><circle cx="366.4" cy="656.4" r="0.75"/><circle cx="358.7" cy="655.6" r="0.75"/><circle cx="360.9" cy="657.4" r="0.75"/><circle cx="382.4" cy="650.7" r="0.75"/><circle cx="390.1" cy="652.8" r="0.75"/><circle cx="371.3" cy="651.5" r="0.75"/><circle cx="356.7" cy="657.9" r="0.75"/><circle cx="373.0" cy="653.2" r="0.75"/><circle cx="382.7" cy="654.7" r="0.75"/><circle cx="362.5" cy="653.7" r="0.75"/><circle cx="364.3" cy="656.6" r="0.75"/><circle cx="373.8" cy="655.9" r="0.75"/><circle cx="381.3" cy="655.3" r="0.75"/><circle cx="402.7" cy="651.5" r="0.75"/><circle cx="360.1" cy="654.6" r="0.75"/><circle cx="381.0" cy="655.1" r="0.75"/><circle cx="384.9" cy="648.5" r="0.75"/><circle cx="355.9" cy="657.2" r="0.75"/><circle cx="378.8" cy="655.6" r="0.75"/><circle cx="356.2" cy="657.7" r="0.75"/><circle cx="398.8" cy="650.1" r="0.75"/><circle cx="357.3" cy="657.8" r="0.75"/><circle cx="372.8" cy="656.0" r="0.75"/><circle cx="372.9" cy="653.4" r="0.75"/><circle cx="371.0" cy="655.0" r="0.75"/><circle cx="361.0" cy="655.9" r="0.75"/><circle cx="361.4" cy="654.9" r="0.75"/><circle cx="356.3" cy="657.4" r="0.75"/><circle cx="361.6" cy="657.6" r="0.75"/><circle cx="392.6" cy="653.5" r="0.75"/><circle cx="365.2" cy="657.2" r="0.75"/><circle cx="370.5" cy="656.3" r="0.75"/><circle cx="357.6" cy="657.2" r="0.75"/><circle cx="362.4" cy="656.9" r="0.75"/><circle cx="361.8" cy="656.6" r="0.75"/><circle cx="384.0" cy="654.9" r="0.75"/><circle cx="367.6" cy="656.7" r="0.75"/><circle cx="356.8" cy="655.9" r="0.75"/><circle cx="386.7" cy="645.3" r="0.75"/><circle cx="363.0" cy="653.8" r="0.75"/><circle cx="364.8" cy="655.9" r="0.75"/><circle cx="356.7" cy="656.0" r="0.75"/><circle cx="370.4" cy="656.4" r="0.75"/><circle cx="372.1" cy="651.0" r="0.75"/><circle cx="365.2" cy="656.1" r="0.75"/><circle cx="356.8" cy="657.3" r="0.75"/><circle cx="365.1" cy="656.7" r="0.75"/><circle cx="365.6" cy="656.5" r="0.75"/><circle cx="389.9" cy="653.8" r="0.75"/><circle cx="383.2" cy="654.6" r="0.75"/><circle cx="358.4" cy="657.9" r="0.75"/><circle cx="372.3" cy="656.6" r="0.75"/><circle cx="379.5" cy="653.4" r="0.75"/><circle cx="357.5" cy="657.7" r="0.75"/><circle cx="385.6" cy="651.8" r="0.75"/><circle cx="383.4" cy="654.8" r="0.75"/><circle cx="377.2" cy="650.7" r="0.75"/><circle cx="393.1" cy="644.7" r="0.75"/><circle cx="369.0" cy="655.9" r="0.75"/><circle cx="368.2" cy="656.6" r="0.75"/><circle cx="364.5" cy="655.5" r="0.75"/><circle cx="363.8" cy="657.2" r="0.75"/><circle cx="361.5" cy="657.7" r="0.75"/><circle cx="368.0" cy="656.7" r="0.75"/><circle cx="360.7" cy="655.6" r="0.75"/><circle cx="405.2" cy="648.4" r="0.75"/><circle cx="384.3" cy="650.1" r="0.75"/><circle cx="414.3" cy="648.3" r="0.75"/><circle cx="360.4" cy="656.8" r="0.75"/><circle cx="414.3" cy="644.7" r="0.75"/><circle cx="360.0" cy="654.4" r="0.75"/><circle cx="367.9" cy="653.2" r="0.75"/><circle cx="367.3" cy="656.8" r="0.75"/><circle cx="382.4" cy="654.5" r="0.75"/><circle cx="355.8" cy="655.8" r="0.75"/><circle cx="366.5" cy="656.4" r="0.75"/><circle cx="377.9" cy="651.9" r="0.75"/><circle cx="378.8" cy="655.4" r="0.75"/><circle cx="359.1" cy="655.5" r="0.75"/><circle cx="388.7" cy="653.2" r="0.75"/><circle cx="355.7" cy="657.4" r="0.75"/><circle cx="390.9" cy="653.6" r="0.75"/><circle cx="370.1" cy="656.3" r="0.75"/><circle cx="400.3" cy="651.8" r="0.75"/><circle cx="397.8" cy="652.3" r="0.75"/><circle cx="387.3" cy="646.3" r="0.75"/><circle cx="360.1" cy="657.8" r="0.75"/><circle cx="357.1" cy="656.9" r="0.75"/><circle cx="370.3" cy="655.3" r="0.75"/><circle cx="398.2" cy="646.4" r="0.75"/><circle cx="383.1" cy="648.1" r="0.75"/><circle cx="374.1" cy="650.2" r="0.75"/><circle cx="360.8" cy="656.9" r="0.75"/><circle cx="406.5" cy="650.9" r="0.75"/><circle cx="372.8" cy="656.5" r="0.75"/><circle cx="360.6" cy="654.4" r="0.75"/><circle cx="375.0" cy="650.6" r="0.75"/><circle cx="381.7" cy="648.7" r="0.75"/><circle cx="370.0" cy="652.8" r="0.75"/><circle cx="372.2" cy="656.4" r="0.75"/><circle cx="379.5" cy="654.9" r="0.75"/><circle cx="373.2" cy="651.9" r="0.75"/><circle cx="382.6" cy="647.8" r="0.75"/><circle cx="371.1" cy="656.7" r="0.75"/><circle cx="359.4" cy="655.1" r="0.75"/><circle cx="369.5" cy="653.8" r="0.75"/><circle cx="362.2" cy="657.2" r="0.75"/><circle cx="357.6" cy="657.0" r="0.75"/><circle cx="378.7" cy="651.6" r="0.75"/><circle cx="391.3" cy="648.9" r="0.75"/><circle cx="373.4" cy="654.6" r="0.75"/><circle cx="313.4" cy="603.7" r="0.75"/><circle cx="325.0" cy="603.0" r="0.75"/><circle cx="319.2" cy="610.4" r="0.75"/><circle cx="328.2" cy="610.4" r="0.75"/><circle cx="326.9" cy="613.7" r="0.75"/><circle cx="329.8" cy="615.8" r="0.75"/><circle cx="335.2" cy="617.7" r="0.75"/><circle cx="336.0" cy="617.7" r="0.75"/><circle cx="323.0" cy="616.5" r="0.75"/><circle cx="300.0" cy="622.0" r="0.75"/><circle cx="314.4" cy="619.6" r="0.75"/><circle cx="317.3" cy="622.0" r="0.75"/><circle cx="325.0" cy="622.3" r="0.75"/><circle cx="330.7" cy="623.8" r="0.75"/><circle cx="308.6" cy="623.8" r="0.75"/><circle cx="313.4" cy="625.8" r="0.75"/><circle cx="329.8" cy="626.2" r="0.75"/><circle cx="311.5" cy="627.7" r="0.75"/><circle cx="307.7" cy="629.6" r="0.75"/><circle cx="339.4" cy="627.7" r="0.75"/><circle cx="332.7" cy="629.6" r="0.75"/><circle cx="340.3" cy="630.6" r="0.75"/><circle cx="322.0" cy="632.5" r="0.75"/><circle cx="318.6" cy="636.3" r="0.75"/><circle cx="294.2" cy="635.8" r="0.75"/><circle cx="285.9" cy="638.3" r="0.75"/><circle cx="300.0" cy="637.7" r="0.75"/><circle cx="327.8" cy="639.2" r="0.75"/><circle cx="333.6" cy="638.8" r="0.75"/><circle cx="341.3" cy="640.2" r="0.75"/><circle cx="325.9" cy="642.1" r="0.75"/><circle cx="331.7" cy="643.0" r="0.75"/><circle cx="339.4" cy="643.0" r="0.75"/><circle cx="310.5" cy="646.5" r="0.75"/><circle cx="316.3" cy="647.9" r="0.75"/><circle cx="323.0" cy="646.9" r="0.75"/><circle cx="329.8" cy="646.5" r="0.75"/><circle cx="297.0" cy="650.4" r="0.75"/><circle cx="292.3" cy="652.7" r="0.75"/><circle cx="304.8" cy="656.2" r="0.75"/><circle cx="321.1" cy="652.3" r="0.75"/><circle cx="325.0" cy="648.0" r="0.75"/><circle cx="325.0" cy="650.0" r="0.75"/><circle cx="325.0" cy="652.0" r="0.75"/><circle cx="325.0" cy="654.0" r="0.75"/><circle cx="325.0" cy="656.0" r="0.75"/><circle cx="327.0" cy="644.0" r="0.75"/><circle cx="334.0" cy="646.0" r="0.75"/><circle cx="336.0" cy="649.0" r="0.75"/><circle cx="342.0" cy="647.0" r="0.75"/><circle cx="344.0" cy="650.0" r="0.75"/><circle cx="338.0" cy="652.0" r="0.75"/><circle cx="298.4" cy="561.0" r="0.75"/><circle cx="294.2" cy="572.0" r="0.75"/><circle cx="308.8" cy="576.2" r="0.75"/><circle cx="316.6" cy="585.7" r="0.75"/><circle cx="331.2" cy="588.5" r="0.75"/><circle cx="290.3" cy="589.5" r="0.75"/><circle cx="281.5" cy="580.7" r="0.75"/><circle cx="304.6" cy="548.5" r="0.75"/><circle cx="386.5" cy="594.2" r="0.75"/><circle cx="408.5" cy="595.4" r="0.75"/><circle cx="413.0" cy="589.0" r="0.75"/><circle cx="415.0" cy="594.6" r="0.75"/><circle cx="424.6" cy="594.2" r="0.75"/><circle cx="416.5" cy="602.0" r="0.75"/><circle cx="413.0" cy="602.9" r="0.75"/><circle cx="393.0" cy="599.0" r="0.75"/><circle cx="387.7" cy="611.9" r="0.75"/><circle cx="392.5" cy="622.0" r="0.75"/><circle cx="420.0" cy="630.0" r="0.75"/><circle cx="425.0" cy="627.0" r="0.75"/><circle cx="430.0" cy="633.0" r="0.75"/><circle cx="437.0" cy="645.0" r="0.75"/><circle cx="433.0" cy="640.0" r="0.75"/><circle cx="428.0" cy="636.0" r="0.75"/><circle cx="418.0" cy="636.0" r="0.75"/><circle cx="412.0" cy="632.0" r="0.75"/><circle cx="408.0" cy="638.0" r="0.75"/><circle cx="404.0" cy="640.0" r="0.75"/><circle cx="398.0" cy="642.0" r="0.75"/><circle cx="402.0" cy="646.0" r="0.75"/><circle cx="395.0" cy="648.0" r="0.75"/></g>
<text font-size="8.48" text-anchor="start" fill="#2a2a2a" stroke="#2a2a2a" stroke-width="0.22" font-weight="normal" font-style="normal"  transform="translate(275.80,550.00) scale(0.9434,1)">KLF15</text>
<text font-size="8.48" text-anchor="start" fill="#2a2a2a" stroke="#2a2a2a" stroke-width="0.22" font-weight="normal" font-style="normal"  transform="translate(276.00,557.00) scale(0.9434,1)">ZBTB14</text>
<text font-size="8.48" text-anchor="start" fill="#2a2a2a" stroke="#2a2a2a" stroke-width="0.22" font-weight="normal" font-style="normal"  transform="translate(276.00,566.20) scale(0.9434,1)">NRF1</text>
<text font-size="8.48" text-anchor="start" fill="#2a2a2a" stroke="#2a2a2a" stroke-width="0.22" font-weight="normal" font-style="normal"  transform="translate(318.00,569.50) scale(0.9434,1)">CTCFL</text>
<text font-size="8.48" text-anchor="start" fill="#2a2a2a" stroke="#2a2a2a" stroke-width="0.22" font-weight="normal" font-style="normal"  transform="translate(323.00,579.20) scale(0.9434,1)">E2F6</text>
<text font-size="8.48" text-anchor="start" fill="#2a2a2a" stroke="#2a2a2a" stroke-width="0.22" font-weight="normal" font-style="normal"  transform="translate(342.00,586.20) scale(0.9434,1)">ZNF148</text>
<text font-size="8.48" text-anchor="start" fill="#2a2a2a" stroke="#2a2a2a" stroke-width="0.22" font-weight="normal" font-style="normal"  transform="translate(302.30,599.50) scale(0.9434,1)">TCFL5</text>
<text font-size="8.48" text-anchor="start" fill="#2a2a2a" stroke="#2a2a2a" stroke-width="0.22" font-weight="normal" font-style="normal"  transform="translate(276.20,608.00) scale(0.9434,1)">TFDP1</text>
<text font-size="8.48" text-anchor="start" fill="#2a2a2a" stroke="#2a2a2a" stroke-width="0.22" font-weight="normal" font-style="normal"  transform="translate(375.00,581.50) scale(0.9434,1)">IRF1</text>
<text font-size="8.48" text-anchor="start" fill="#2a2a2a" stroke="#2a2a2a" stroke-width="0.22" font-weight="normal" font-style="normal"  transform="translate(392.80,583.40) scale(0.9434,1)">IRF3</text>
<text font-size="8.48" text-anchor="start" fill="#2a2a2a" stroke="#2a2a2a" stroke-width="0.22" font-weight="normal" font-style="normal"  transform="translate(398.80,568.40) scale(0.9434,1)">IRF9</text>
<text font-size="8.48" text-anchor="start" fill="#2a2a2a" stroke="#2a2a2a" stroke-width="0.22" font-weight="normal" font-style="normal"  transform="translate(421.30,565.40) scale(0.9434,1)">IRF8</text>
<text font-size="8.48" text-anchor="start" fill="#2a2a2a" stroke="#2a2a2a" stroke-width="0.22" font-weight="normal" font-style="normal"  transform="translate(411.20,578.80) scale(0.9434,1)">IRF2</text>
<text font-size="8.48" text-anchor="start" fill="#2a2a2a" stroke="#2a2a2a" stroke-width="0.22" font-weight="normal" font-style="normal"  transform="translate(427.10,599.60) scale(0.9434,1)">IRF7</text>
<text font-size="8.48" text-anchor="start" fill="#2a2a2a" stroke="#2a2a2a" stroke-width="0.22" font-weight="normal" font-style="normal"  transform="translate(427.10,612.00) scale(0.9434,1)">IRF4</text>
<text font-size="8.48" text-anchor="start" fill="#2a2a2a" stroke="#2a2a2a" stroke-width="0.22" font-weight="normal" font-style="normal"  transform="translate(358.80,598.40) scale(0.9434,1)">STAT2</text>
<text font-size="8.48" text-anchor="start" fill="#2a2a2a" stroke="#2a2a2a" stroke-width="0.22" font-weight="normal" font-style="normal"  transform="translate(397.00,621.50) scale(0.9434,1)">STAT1::STAT2</text>
<line x1="296.50" y1="547.50" x2="302.50" y2="547.50" stroke="#555" stroke-width="0.7"/>
<line x1="298.50" y1="554.00" x2="298.40" y2="559.50" stroke="#555" stroke-width="0.7"/>
<line x1="288.50" y1="567.30" x2="294.20" y2="572.00" stroke="#555" stroke-width="0.7"/>
<line x1="316.20" y1="570.00" x2="309.20" y2="575.40" stroke="#555" stroke-width="0.7"/>
<line x1="324.20" y1="581.00" x2="318.00" y2="584.30" stroke="#555" stroke-width="0.7"/>
<line x1="339.20" y1="584.30" x2="332.30" y2="587.80" stroke="#555" stroke-width="0.7"/>
<line x1="301.20" y1="593.80" x2="291.90" y2="589.90" stroke="#555" stroke-width="0.7"/>
<line x1="285.50" y1="600.50" x2="282.20" y2="583.50" stroke="#555" stroke-width="0.7"/>
<line x1="383.50" y1="583.40" x2="385.80" y2="592.00" stroke="#555" stroke-width="0.7"/>
<line x1="401.50" y1="584.30" x2="407.30" y2="593.50" stroke="#555" stroke-width="0.7"/>
<line x1="405.00" y1="569.20" x2="411.70" y2="586.50" stroke="#555" stroke-width="0.7"/>
<line x1="429.00" y1="568.30" x2="425.20" y2="593.30" stroke="#555" stroke-width="0.7"/>
<line x1="419.40" y1="580.80" x2="415.60" y2="593.30" stroke="#555" stroke-width="0.7"/>
<line x1="427.10" y1="597.10" x2="417.50" y2="601.00" stroke="#555" stroke-width="0.7"/>
<line x1="426.20" y1="608.70" x2="415.60" y2="603.50" stroke="#555" stroke-width="0.7"/>
<line x1="377.30" y1="600.50" x2="386.50" y2="611.00" stroke="#555" stroke-width="0.7"/>
<line x1="406.00" y1="613.50" x2="395.40" y2="600.40" stroke="#555" stroke-width="0.7"/>
<rect x="0.5" y="0.5" width="519" height="700" fill="none" stroke="#5c5c5c" stroke-width="1"/>
</svg>
</body></html>
